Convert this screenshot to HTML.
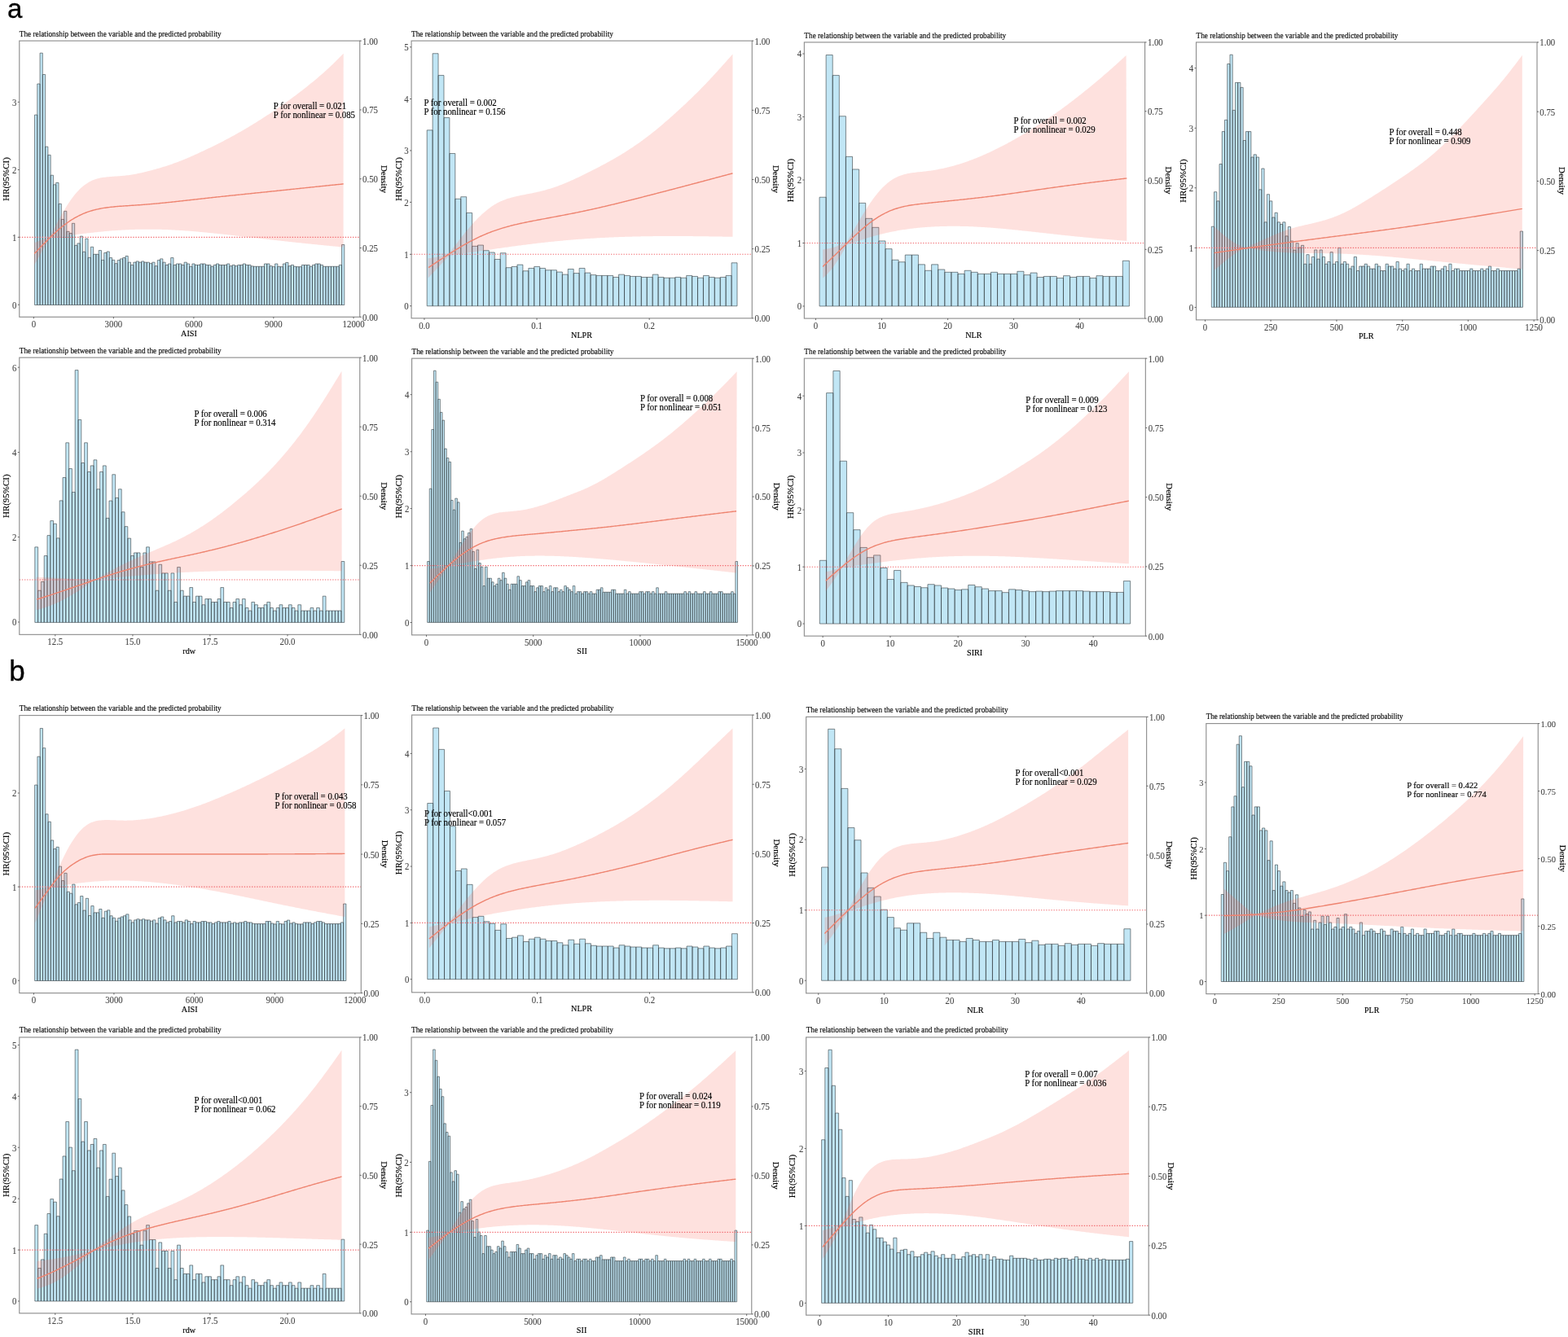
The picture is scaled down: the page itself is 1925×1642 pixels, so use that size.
<!DOCTYPE html>
<html lang="en"><head><meta charset="utf-8"><title>Figure</title>
<style>
html,body{margin:0;padding:0;background:#fff;}
body{width:1925px;height:1642px;overflow:hidden;position:relative;}
svg{display:block;position:absolute;left:0;top:0;}
text{font-family:"Liberation Serif", "DejaVu Serif", serif;fill:#000;stroke:#000;stroke-width:0.16px;}
.big{stroke:#000;stroke-width:0.3px;}
.big{font-family:"Liberation Sans", "DejaVu Sans", sans-serif;}
.tk{fill:#454545;stroke:#454545;stroke-width:0.08px;}
.ttl{fill:#111;}
.bar{fill:#c1e6f5;stroke:#343c40;stroke-linejoin:miter;}
.band{fill:#fa6a5a;fill-opacity:0.2;stroke:none;}
.cv{fill:none;stroke:#ee8470;stroke-width:1.4;stroke-linejoin:round;}
.hl{stroke:#f26d72;stroke-width:1.1;stroke-dasharray:1.4 1.7;}
.fr{fill:none;stroke:#8f8f8f;stroke-width:1.15;}
.tm{fill:none;stroke:#444444;stroke-width:0.8;}
</style></head><body>
<svg width="1925" height="1642" viewBox="0 0 1925 1642">
<rect x="0" y="0" width="1925" height="1642" fill="#ffffff"/>
<text class="big" x="9" y="22.1" style="font-size:33px">a</text>
<text class="big" x="11.2" y="836.2" style="font-size:35px">b</text>
<g class="panel">
<text class="ttl" transform="translate(23.79 45.11) scale(1 1.075)" style="font-size:9.25px">The relationship between the variable and the predicted probability</text>
<clipPath id="ca1"><rect x="23.79" y="50.13" width="417.96" height="339.17"/></clipPath>
<g clip-path="url(#ca1)">
<path class="bar" style="stroke-width:0.6" d="M42.5 374.5V141.07H45.78V374.5ZM45.78 374.5V103H49.06V374.5ZM49.06 374.5V65.17H52.34V374.5ZM52.34 374.5V91.51H55.61V374.5ZM55.61 374.5V180.15H58.89V374.5ZM58.89 374.5V190.39H62.17V374.5ZM62.17 374.5V215.23H65.45V374.5ZM65.45 374.5V226.8H68.73V374.5ZM68.73 374.5V224.36H72.01V374.5ZM72.01 374.5V250.3H75.28V374.5ZM75.28 374.5V269.43H78.56V374.5ZM78.56 374.5V259.32H81.84V374.5ZM81.84 374.5V284.29H85.12V374.5ZM85.12 374.5V286.48H88.4V374.5ZM88.4 374.5V274.3H91.68V374.5ZM91.68 374.5V301.34H94.96V374.5ZM94.96 374.5V298.9H98.23V374.5ZM98.23 374.5V290.13H101.51V374.5ZM101.51 374.5V309.26H104.79V374.5ZM104.79 374.5V293.18H108.07V374.5ZM108.07 374.5V316.32H111.35V374.5ZM111.35 374.5V303.29H114.63V374.5ZM114.63 374.5V312.3H117.9V374.5ZM117.9 374.5V312.3H121.18V374.5ZM121.18 374.5V307.55H124.46V374.5ZM124.46 374.5V319.37H127.74V374.5ZM127.74 374.5V310.48H131.02V374.5ZM131.02 374.5V309.01H134.3V374.5ZM134.3 374.5V316.57H137.58V374.5ZM137.57 374.5V319.37H140.85V374.5ZM140.85 374.5V323.63H144.13V374.5ZM144.13 374.5V319.61H147.41V374.5ZM147.41 374.5V317.9H150.69V374.5ZM150.69 374.5V316.57H153.97V374.5ZM153.97 374.5V314.49H157.25V374.5ZM157.25 374.5V322.17H160.52V374.5ZM160.52 374.5V325.46H163.8V374.5ZM163.8 374.5V322.17H167.08V374.5ZM167.08 374.5V320.95H170.36V374.5ZM170.36 374.5V322.17H173.64V374.5ZM173.64 374.5V320.95H176.92V374.5ZM176.92 374.5V322.17H180.19V374.5ZM180.19 374.5V322.17H183.47V374.5ZM183.47 374.5V323.63H186.75V374.5ZM186.75 374.5V322.17H190.03V374.5ZM190.03 374.5V326.67H193.31V374.5ZM193.31 374.5V319.61H196.59V374.5ZM196.59 374.5V317.9H199.87V374.5ZM199.87 374.5V322.17H203.14V374.5ZM203.14 374.5V325.46H206.42V374.5ZM206.42 374.5V324H209.7V374.5ZM209.7 374.5V316.57H212.98V374.5ZM212.98 374.5V325.46H216.26V374.5ZM216.26 374.5V324H219.54V374.5ZM219.54 374.5V324H222.81V374.5ZM222.81 374.5V325.46H226.09V374.5ZM226.09 374.5V322.17H229.37V374.5ZM229.37 374.5V324H232.65V374.5ZM232.65 374.5V327.28H235.93V374.5ZM235.93 374.5V324H239.21V374.5ZM239.21 374.5V325.46H242.49V374.5ZM242.49 374.5V325.46H245.76V374.5ZM245.76 374.5V324H249.04V374.5ZM249.04 374.5V324H252.32V374.5ZM252.32 374.5V325.46H255.6V374.5ZM255.6 374.5V325.46H258.88V374.5ZM258.88 374.5V327.28H262.16V374.5ZM262.16 374.5V325.46H265.43V374.5ZM265.43 374.5V324H268.71V374.5ZM268.71 374.5V325.46H271.99V374.5ZM271.99 374.5V325.46H275.27V374.5ZM275.27 374.5V325.46H278.55V374.5ZM278.55 374.5V324H281.83V374.5ZM281.83 374.5V326.67H285.11V374.5ZM285.11 374.5V325.46H288.38V374.5ZM288.38 374.5V326.67H291.66V374.5ZM291.66 374.5V325.46H294.94V374.5ZM294.94 374.5V325.46H298.22V374.5ZM298.22 374.5V324H301.5V374.5ZM301.5 374.5V325.46H304.78V374.5ZM304.78 374.5V325.46H308.05V374.5ZM308.05 374.5V326.92H311.33V374.5ZM311.33 374.5V327.28H314.61V374.5ZM314.61 374.5V327.28H317.89V374.5ZM317.89 374.5V327.28H321.17V374.5ZM321.17 374.5V327.28H324.45V374.5ZM324.45 374.5V324H327.73V374.5ZM327.73 374.5V324H331V374.5ZM331 374.5V326.67H334.28V374.5ZM334.28 374.5V327.65H337.56V374.5ZM337.56 374.5V324H340.84V374.5ZM340.84 374.5V327.28H344.12V374.5ZM344.12 374.5V327.65H347.4V374.5ZM347.4 374.5V324H350.67V374.5ZM350.67 374.5V322.41H353.95V374.5ZM353.95 374.5V326.67H357.23V374.5ZM357.23 374.5V325.46H360.51V374.5ZM360.51 374.5V327.28H363.79V374.5ZM363.79 374.5V327.65H367.07V374.5ZM367.07 374.5V327.65H370.34V374.5ZM370.34 374.5V325.46H373.62V374.5ZM373.62 374.5V325.46H376.9V374.5ZM376.9 374.5V325.46H380.18V374.5ZM380.18 374.5V327.28H383.46V374.5ZM383.46 374.5V325.46H386.74V374.5ZM386.74 374.5V324H390.02V374.5ZM390.02 374.5V324H393.29V374.5ZM393.29 374.5V325.46H396.57V374.5ZM396.57 374.5V327.28H399.85V374.5ZM399.85 374.5V327.28H403.13V374.5ZM403.13 374.5V327.28H406.41V374.5ZM406.41 374.5V327.28H409.69V374.5ZM409.69 374.5V327.28H412.96V374.5ZM412.96 374.5V327.28H416.24V374.5ZM416.24 374.5V325.46H419.52V374.5ZM419.52 374.5V300.49H422.8V374.5Z"/>
<path class="band" d="M42.2 297.99 L43.7 297.47 L45.2 296.93 L46.7 296.38 L48.2 295.81 L49.7 295.24 L51.2 294.65 L52.7 294.05 L54.2 293.43 L55.7 292.81 L57.2 292.17 L58.7 291.52 L60.2 290.85 L61.39 290.32 L62.89 287.43 L64.39 284.55 L65.89 281.68 L67.39 278.83 L68.89 275.99 L70.39 273.19 L71.89 270.41 L73.39 267.66 L74.89 264.96 L76.39 262.31 L77.89 259.71 L79.39 257.17 L80.89 254.7 L82.39 252.3 L83.89 249.97 L85.39 247.73 L86.89 245.56 L88.39 243.48 L89.89 241.48 L91.39 239.57 L92.89 237.75 L94.39 236.02 L95.89 234.39 L97.39 232.84 L98.89 231.37 L100.39 230 L101.89 228.72 L103.39 227.52 L104.89 226.41 L106.39 225.38 L107.89 224.43 L109.39 223.55 L110.89 222.76 L112.39 222.03 L113.89 221.37 L115.39 220.77 L116.89 220.24 L118.39 219.76 L119.89 219.33 L121.39 218.95 L122.89 218.62 L124.39 218.32 L125.89 218.06 L127.39 217.83 L128.89 217.63 L130.39 217.45 L131.89 217.3 L133.39 217.16 L134.89 217.03 L136.39 216.91 L137.89 216.8 L139.39 216.7 L140.89 216.6 L142.39 216.5 L143.89 216.4 L145.39 216.3 L146.89 216.2 L148.39 216.08 L149.89 215.96 L151.39 215.83 L152.89 215.69 L154.39 215.53 L155.89 215.35 L157.39 215.16 L158.89 214.95 L160.39 214.73 L161.89 214.49 L163.39 214.24 L164.89 213.98 L166.39 213.7 L167.89 213.41 L169.39 213.11 L170.89 212.8 L172.39 212.48 L173.89 212.15 L175.39 211.8 L176.89 211.45 L178.39 211.09 L179.89 210.72 L181.39 210.35 L182.89 209.96 L184.39 209.57 L185.89 209.17 L187.39 208.77 L188.89 208.36 L190.39 207.95 L191.89 207.53 L193.39 207.1 L194.89 206.66 L196.39 206.22 L197.89 205.77 L199.39 205.32 L200.89 204.86 L202.39 204.39 L203.89 203.91 L205.39 203.42 L206.89 202.93 L208.39 202.42 L209.89 201.91 L211.39 201.39 L212.89 200.86 L214.39 200.33 L215.89 199.78 L217.39 199.22 L218.89 198.66 L220.39 198.08 L221.89 197.49 L223.39 196.9 L224.89 196.3 L226.39 195.68 L227.89 195.06 L229.39 194.43 L230.89 193.79 L232.39 193.15 L233.89 192.5 L235.39 191.84 L236.89 191.17 L238.39 190.5 L239.89 189.83 L241.39 189.14 L242.89 188.46 L244.39 187.77 L245.89 187.07 L247.39 186.37 L248.89 185.67 L250.39 184.96 L251.89 184.25 L253.39 183.54 L254.89 182.83 L256.39 182.11 L257.89 181.39 L259.39 180.66 L260.89 179.94 L262.39 179.2 L263.89 178.47 L265.39 177.72 L266.89 176.98 L268.39 176.22 L269.89 175.46 L271.39 174.69 L272.89 173.92 L274.39 173.14 L275.89 172.36 L277.39 171.57 L278.89 170.78 L280.39 169.97 L281.89 169.17 L283.39 168.36 L284.89 167.54 L286.39 166.71 L287.89 165.89 L289.39 165.05 L290.89 164.21 L292.39 163.36 L293.89 162.51 L295.39 161.65 L296.89 160.79 L298.39 159.92 L299.89 159.05 L301.39 158.17 L302.89 157.28 L304.39 156.39 L305.89 155.49 L307.39 154.58 L308.89 153.67 L310.39 152.76 L311.89 151.84 L313.39 150.91 L314.89 149.98 L316.39 149.04 L317.89 148.1 L319.39 147.16 L320.89 146.21 L322.39 145.25 L323.89 144.29 L325.39 143.32 L326.89 142.35 L328.39 141.37 L329.89 140.39 L331.39 139.4 L332.89 138.4 L334.39 137.4 L335.89 136.39 L337.39 135.38 L338.89 134.36 L340.39 133.33 L341.89 132.29 L343.39 131.25 L344.89 130.2 L346.39 129.14 L347.89 128.08 L349.39 127.01 L350.89 125.93 L352.39 124.85 L353.89 123.77 L355.39 122.68 L356.89 121.58 L358.39 120.48 L359.89 119.37 L361.39 118.25 L362.89 117.13 L364.39 116 L365.89 114.87 L367.39 113.73 L368.89 112.58 L370.39 111.42 L371.89 110.26 L373.39 109.08 L374.89 107.9 L376.39 106.71 L377.89 105.51 L379.39 104.31 L380.89 103.09 L382.39 101.87 L383.89 100.64 L385.39 99.4 L386.89 98.16 L388.39 96.91 L389.89 95.64 L391.39 94.37 L392.89 93.09 L394.39 91.79 L395.89 90.48 L397.39 89.16 L398.89 87.82 L400.39 86.46 L401.89 85.08 L403.39 83.69 L404.89 82.28 L406.39 80.86 L407.89 79.42 L409.39 77.97 L410.89 76.51 L412.39 75.05 L413.89 73.57 L415.39 72.09 L416.89 70.6 L418.39 69.1 L419.89 67.61 L421.39 66.11 L421.7 65.8 L421.54 303.62 L421.39 303.6 L419.89 303.46 L418.39 303.31 L416.89 303.17 L415.39 303.02 L413.89 302.87 L412.39 302.73 L410.89 302.58 L409.39 302.44 L407.89 302.29 L406.39 302.14 L404.89 301.99 L403.39 301.85 L401.89 301.7 L400.39 301.55 L398.89 301.4 L397.39 301.26 L395.89 301.11 L394.39 300.96 L392.89 300.81 L391.39 300.66 L389.89 300.51 L388.39 300.36 L386.89 300.21 L385.39 300.06 L383.89 299.91 L382.39 299.75 L380.89 299.6 L379.39 299.45 L377.89 299.29 L376.39 299.14 L374.89 298.99 L373.39 298.83 L371.89 298.67 L370.39 298.52 L368.89 298.36 L367.39 298.2 L365.89 298.05 L364.39 297.89 L362.89 297.73 L361.39 297.57 L359.89 297.41 L358.39 297.25 L356.89 297.09 L355.39 296.93 L353.89 296.77 L352.39 296.6 L350.89 296.44 L349.39 296.28 L347.89 296.11 L346.39 295.95 L344.89 295.78 L343.39 295.62 L341.89 295.45 L340.39 295.29 L338.89 295.12 L337.39 294.95 L335.89 294.78 L334.39 294.62 L332.89 294.45 L331.39 294.28 L329.89 294.11 L328.39 293.94 L326.89 293.77 L325.39 293.6 L323.89 293.42 L322.39 293.25 L320.89 293.08 L319.39 292.91 L317.89 292.74 L316.39 292.57 L314.89 292.39 L313.39 292.22 L311.89 292.05 L310.39 291.87 L308.89 291.7 L307.39 291.53 L305.89 291.35 L304.39 291.18 L302.89 291.01 L301.39 290.84 L299.89 290.66 L298.39 290.49 L296.89 290.32 L295.39 290.14 L293.89 289.97 L292.39 289.8 L290.89 289.63 L289.39 289.46 L287.89 289.29 L286.39 289.12 L284.89 288.95 L283.39 288.78 L281.89 288.61 L280.39 288.44 L278.89 288.28 L277.39 288.11 L275.89 287.94 L274.39 287.78 L272.89 287.61 L271.39 287.45 L269.89 287.29 L268.39 287.13 L266.89 286.97 L265.39 286.81 L263.89 286.65 L262.39 286.5 L260.89 286.34 L259.39 286.19 L257.89 286.04 L256.39 285.89 L254.89 285.74 L253.39 285.59 L251.89 285.45 L250.39 285.3 L248.89 285.16 L247.39 285.02 L245.89 284.88 L244.39 284.75 L242.89 284.61 L241.39 284.48 L239.89 284.35 L238.39 284.22 L236.89 284.1 L235.39 283.98 L233.89 283.86 L232.39 283.74 L230.89 283.62 L229.39 283.51 L227.89 283.4 L226.39 283.29 L224.89 283.19 L223.39 283.09 L221.89 282.99 L220.39 282.9 L218.89 282.8 L217.39 282.71 L215.89 282.63 L214.39 282.55 L212.89 282.47 L211.39 282.39 L209.89 282.32 L208.39 282.25 L206.89 282.18 L205.39 282.12 L203.89 282.06 L202.39 282.01 L200.89 281.95 L199.39 281.91 L197.89 281.86 L196.39 281.82 L194.89 281.78 L193.39 281.75 L191.89 281.72 L190.39 281.7 L188.89 281.68 L187.39 281.66 L185.89 281.65 L184.39 281.64 L182.89 281.63 L181.39 281.63 L179.89 281.63 L178.39 281.64 L176.89 281.65 L175.39 281.67 L173.89 281.69 L172.39 281.71 L170.89 281.74 L169.39 281.77 L167.89 281.81 L166.39 281.85 L164.89 281.89 L163.39 281.94 L161.89 281.99 L160.39 282.05 L158.89 282.11 L157.39 282.17 L155.89 282.24 L154.39 282.31 L152.89 282.39 L151.39 282.47 L149.89 282.55 L148.39 282.64 L146.89 282.73 L145.39 282.83 L143.89 282.93 L142.39 283.03 L140.89 283.14 L139.39 283.25 L137.89 283.36 L136.39 283.48 L134.89 283.6 L133.39 283.73 L131.89 283.85 L130.39 283.98 L128.89 284.12 L127.39 284.26 L125.89 284.4 L124.39 284.54 L122.89 284.69 L121.39 284.84 L119.89 284.99 L118.39 285.14 L116.89 285.3 L115.39 285.46 L113.89 285.63 L112.39 285.79 L110.89 285.96 L109.39 286.13 L107.89 286.3 L106.39 286.48 L104.89 286.65 L103.39 286.83 L101.89 287.01 L100.39 287.2 L98.89 287.38 L97.39 287.57 L95.89 287.75 L94.39 287.94 L92.89 288.13 L91.39 288.33 L89.89 288.52 L88.39 288.71 L86.89 288.91 L85.39 289.11 L83.89 289.31 L82.39 289.51 L80.89 289.71 L79.39 289.91 L77.89 290.11 L76.39 290.31 L74.89 290.52 L73.39 290.72 L71.89 290.92 L70.39 291.13 L68.89 291.33 L67.39 291.54 L65.89 291.75 L64.39 291.95 L62.89 292.16 L61.39 292.36 L60.2 294.29 L58.7 296.76 L57.2 299.25 L55.7 301.76 L54.2 304.29 L52.7 306.85 L51.2 309.42 L49.7 312.02 L48.2 314.64 L46.7 317.29 L45.2 319.95 L43.7 322.65 L42.2 325.36Z"/>
<line class="hl" x1="23.79" x2="441.74" y1="291.34" y2="291.34"/>
<path class="cv" d="M42.2 311.55 L43.7 309.96 L45.2 308.38 L46.7 306.79 L48.2 305.22 L49.7 303.64 L51.2 302.08 L52.7 300.52 L54.2 298.97 L55.7 297.44 L57.2 295.92 L58.7 294.41 L60.2 292.92 L61.7 291.45 L63.2 289.99 L64.7 288.56 L66.2 287.16 L67.7 285.77 L69.2 284.41 L70.7 283.08 L72.2 281.78 L73.7 280.5 L75.2 279.25 L76.7 278.04 L78.2 276.86 L79.7 275.7 L81.2 274.59 L82.7 273.5 L84.2 272.45 L85.7 271.43 L87.2 270.45 L88.7 269.5 L90.2 268.58 L91.7 267.7 L93.2 266.85 L94.7 266.03 L96.2 265.25 L97.7 264.5 L99.2 263.79 L100.7 263.1 L102.2 262.45 L103.7 261.83 L105.2 261.24 L106.7 260.67 L108.2 260.14 L109.7 259.64 L111.2 259.16 L112.7 258.71 L114.2 258.28 L115.7 257.88 L117.2 257.5 L118.7 257.14 L120.2 256.81 L121.7 256.5 L123.2 256.2 L124.7 255.93 L126.2 255.67 L127.7 255.42 L129.2 255.19 L130.7 254.98 L132.2 254.78 L133.7 254.59 L135.2 254.41 L136.7 254.25 L138.2 254.09 L139.7 253.94 L141.2 253.8 L142.7 253.67 L144.2 253.54 L145.7 253.42 L147.2 253.3 L148.7 253.19 L150.2 253.08 L151.7 252.98 L153.2 252.88 L154.7 252.78 L156.2 252.68 L157.7 252.58 L159.2 252.48 L160.7 252.38 L162.2 252.28 L163.7 252.19 L165.2 252.09 L166.7 251.99 L168.2 251.89 L169.7 251.79 L171.2 251.68 L172.7 251.58 L174.2 251.47 L175.7 251.36 L177.2 251.25 L178.7 251.13 L180.2 251.01 L181.7 250.89 L183.2 250.77 L184.7 250.64 L186.2 250.51 L187.7 250.38 L189.2 250.25 L190.7 250.11 L192.2 249.98 L193.7 249.84 L195.2 249.69 L196.7 249.55 L198.2 249.41 L199.7 249.26 L201.2 249.11 L202.7 248.96 L204.2 248.81 L205.7 248.65 L207.2 248.5 L208.7 248.34 L210.2 248.19 L211.7 248.03 L213.2 247.87 L214.7 247.71 L216.2 247.54 L217.7 247.38 L219.2 247.22 L220.7 247.05 L222.2 246.89 L223.7 246.72 L225.2 246.56 L226.7 246.39 L228.2 246.22 L229.7 246.05 L231.2 245.89 L232.7 245.72 L234.2 245.55 L235.7 245.38 L237.2 245.21 L238.7 245.04 L240.2 244.87 L241.7 244.7 L243.2 244.54 L244.7 244.37 L246.2 244.2 L247.7 244.03 L249.2 243.86 L250.7 243.7 L252.2 243.53 L253.7 243.37 L255.2 243.2 L256.7 243.04 L258.2 242.87 L259.7 242.71 L261.2 242.55 L262.7 242.38 L264.2 242.22 L265.7 242.06 L267.2 241.9 L268.7 241.74 L270.2 241.58 L271.7 241.42 L273.2 241.26 L274.7 241.11 L276.2 240.95 L277.7 240.79 L279.2 240.63 L280.7 240.48 L282.2 240.32 L283.7 240.17 L285.2 240.01 L286.7 239.85 L288.2 239.7 L289.7 239.54 L291.2 239.39 L292.7 239.23 L294.2 239.08 L295.7 238.92 L297.2 238.77 L298.7 238.62 L300.2 238.46 L301.7 238.31 L303.2 238.15 L304.7 238 L306.2 237.85 L307.7 237.69 L309.2 237.54 L310.7 237.38 L312.2 237.23 L313.7 237.07 L315.2 236.92 L316.7 236.77 L318.2 236.61 L319.7 236.46 L321.2 236.3 L322.7 236.15 L324.2 235.99 L325.7 235.84 L327.2 235.68 L328.7 235.52 L330.2 235.37 L331.7 235.21 L333.2 235.06 L334.7 234.9 L336.2 234.74 L337.7 234.59 L339.2 234.43 L340.7 234.28 L342.2 234.12 L343.7 233.96 L345.2 233.81 L346.7 233.65 L348.2 233.49 L349.7 233.33 L351.2 233.18 L352.7 233.02 L354.2 232.86 L355.7 232.71 L357.2 232.55 L358.7 232.39 L360.2 232.24 L361.7 232.08 L363.2 231.92 L364.7 231.77 L366.2 231.61 L367.7 231.45 L369.2 231.3 L370.7 231.14 L372.2 230.98 L373.7 230.83 L375.2 230.67 L376.7 230.51 L378.2 230.36 L379.7 230.2 L381.2 230.05 L382.7 229.89 L384.2 229.73 L385.7 229.58 L387.2 229.42 L388.7 229.27 L390.2 229.11 L391.7 228.96 L393.2 228.8 L394.7 228.65 L396.2 228.49 L397.7 228.34 L399.2 228.18 L400.7 228.03 L402.2 227.88 L403.7 227.72 L405.2 227.57 L406.7 227.41 L408.2 227.26 L409.7 227.11 L411.2 226.95 L412.7 226.8 L414.2 226.64 L415.7 226.49 L417.2 226.34 L418.7 226.18 L420.2 226.03 L421.7 225.88 L421.71 225.88"/>
</g>
<text class="an" transform="translate(335.85 134.07) scale(1 1.075)" style="font-size:10.8px">P for overall = 0.021</text>
<text class="an" transform="translate(335.85 145.07) scale(1 1.075)" style="font-size:10.8px">P for nonlinear = 0.085</text>
<rect class="fr" x="23.79" y="50.13" width="417.96" height="339.17"/>
<text class="tk" text-anchor="end" transform="translate(20.49 129.76) scale(1 1.075)" style="font-size:10.8px">3</text>
<text class="tk" text-anchor="end" transform="translate(20.49 212.89) scale(1 1.075)" style="font-size:10.8px">2</text>
<text class="tk" text-anchor="end" transform="translate(20.49 295.77) scale(1 1.075)" style="font-size:10.8px">1</text>
<text class="tk" text-anchor="end" transform="translate(20.49 378.64) scale(1 1.075)" style="font-size:10.8px">0</text>
<text class="tk" transform="translate(445.04 393.74) scale(1 1.075)" style="font-size:10.8px">0.00</text>
<text class="tk" transform="translate(445.04 308.94) scale(1 1.075)" style="font-size:10.8px">0.25</text>
<text class="tk" transform="translate(445.04 224.15) scale(1 1.075)" style="font-size:10.8px">0.50</text>
<text class="tk" transform="translate(445.04 139.36) scale(1 1.075)" style="font-size:10.8px">0.75</text>
<text class="tk" transform="translate(445.04 54.56) scale(1 1.075)" style="font-size:10.8px">1.00</text>
<text class="tk" text-anchor="middle" transform="translate(41.44 402.11) scale(1 1.075)" style="font-size:10.8px">0</text>
<text class="tk" text-anchor="middle" transform="translate(139.4 402.11) scale(1 1.075)" style="font-size:10.8px">3000</text>
<text class="tk" text-anchor="middle" transform="translate(237.88 402.11) scale(1 1.075)" style="font-size:10.8px">6000</text>
<text class="tk" text-anchor="middle" transform="translate(335.85 402.11) scale(1 1.075)" style="font-size:10.8px">9000</text>
<text class="tk" text-anchor="middle" transform="translate(434.07 402.11) scale(1 1.075)" style="font-size:10.8px">12000</text>
<path class="tm" d="M23.79 125.34H21.79M23.79 208.47H21.79M23.79 291.34H21.79M23.79 374.22H21.79M441.74 389.31H443.74M441.74 304.51H443.74M441.74 219.72H443.74M441.74 134.93H443.74M441.74 50.13H443.74M41.44 389.31V391.31M139.4 389.31V391.31M237.88 389.31V391.31M335.85 389.31V391.31M434.07 389.31V391.31"/>
<text class="al" text-anchor="middle" transform="translate(232 413.35) scale(1 1.075)" style="font-size:10.2px">AISI</text>
<text class="al" text-anchor="middle" transform="translate(11.25 219.98) rotate(-90) scale(1.075 1)" style="font-size:10.2px">HR(95%CI)</text>
<text class="al" text-anchor="middle" transform="translate(467.56 219.98) rotate(90) scale(1.075 1)" style="font-size:10.2px">Density</text>
</g>
<g class="panel">
<text class="ttl" transform="translate(505.07 44.81) scale(1 1.075)" style="font-size:9.25px">The relationship between the variable and the predicted probability</text>
<clipPath id="ca2"><rect x="505.07" y="50.13" width="418.21" height="340.71"/></clipPath>
<g clip-path="url(#ca2)">
<path class="bar" style="stroke-width:0.6" d="M524.2 375.8V159.87H531.12V375.8ZM531.12 375.8V65.74H538.05V375.8ZM538.05 375.8V92.59H544.97V375.8ZM544.97 375.8V144.52H551.89V375.8ZM551.89 375.8V188.52H558.82V375.8ZM558.82 375.8V244.28H565.74V375.8ZM565.74 375.8V241.72H572.67V375.8ZM572.67 375.8V261.41H579.59V375.8ZM579.59 375.8V302.34H586.51V375.8ZM586.51 375.8V301.06H593.44V375.8ZM593.44 375.8V307.71H600.36V375.8ZM600.36 375.8V310.01H607.28V375.8ZM607.28 375.8V318.46H614.21V375.8ZM614.21 375.8V310.78H621.13V375.8ZM621.13 375.8V328.69H628.05V375.8ZM628.05 375.8V327.41H634.98V375.8ZM634.98 375.8V325.11H641.9V375.8ZM641.9 375.8V332.78H648.83V375.8ZM648.83 375.8V329.45H655.75V375.8ZM655.75 375.8V327.41H662.67V375.8ZM662.67 375.8V329.45H669.6V375.8ZM669.6 375.8V331.76H676.52V375.8ZM676.52 375.8V331.76H683.44V375.8ZM683.44 375.8V334.06H690.37V375.8ZM690.37 375.8V337.13H697.29V375.8ZM697.29 375.8V330.48H704.21V375.8ZM704.21 375.8V335.59H711.14V375.8ZM711.14 375.8V329.45H718.06V375.8ZM718.06 375.8V335.08H724.99V375.8ZM724.99 375.8V337.64H731.91V375.8ZM731.91 375.8V338.41H738.83V375.8ZM738.83 375.8V338.41H745.76V375.8ZM745.76 375.8V338.41H752.68V375.8ZM752.68 375.8V340.45H759.6V375.8ZM759.6 375.8V337.13H766.53V375.8ZM766.53 375.8V338.41H773.45V375.8ZM773.45 375.8V339.43H780.37V375.8ZM780.37 375.8V339.43H787.3V375.8ZM787.3 375.8V340.45H794.22V375.8ZM794.22 375.8V340.45H801.15V375.8ZM801.15 375.8V337.13H808.07V375.8ZM808.07 375.8V340.45H814.99V375.8ZM814.99 375.8V341.22H821.92V375.8ZM821.92 375.8V341.22H828.84V375.8ZM828.84 375.8V340.45H835.76V375.8ZM835.76 375.8V341.22H842.69V375.8ZM842.69 375.8V338.41H849.61V375.8ZM849.61 375.8V339.43H856.53V375.8ZM856.53 375.8V341.22H863.46V375.8ZM863.46 375.8V338.41H870.38V375.8ZM870.38 375.8V340.45H877.31V375.8ZM877.31 375.8V341.22H884.23V375.8ZM884.23 375.8V340.45H891.15V375.8ZM891.15 375.8V338.41H898.08V375.8ZM898.08 375.8V322.8H905V375.8Z"/>
<path class="band" d="M525.53 317.18 L527.03 317.07 L528.53 316.92 L530.03 316.73 L531.53 316.51 L533.03 316.27 L534.53 316 L536.03 315.71 L537.53 315.4 L539.03 315.09 L540.53 314.73 L542.03 314.33 L543.53 313.87 L545.03 313.37 L546.53 312.84 L548.03 312.26 L549.53 311.66 L551.03 311.03 L551.62 310.78 L553.12 308.8 L554.62 306.82 L556.12 304.84 L557.62 302.86 L559.12 300.9 L560.62 298.94 L562.12 296.99 L563.62 295.05 L565.12 293.13 L566.62 291.22 L568.12 289.32 L569.62 287.45 L571.12 285.59 L572.62 283.76 L574.12 281.96 L575.62 280.18 L577.12 278.42 L578.62 276.7 L580.12 275.01 L581.62 273.36 L583.12 271.74 L584.62 270.15 L586.12 268.61 L587.62 267.1 L589.12 265.63 L590.62 264.2 L592.12 262.81 L593.62 261.46 L595.12 260.16 L596.62 258.91 L598.12 257.69 L599.62 256.53 L601.12 255.4 L602.62 254.33 L604.12 253.3 L605.62 252.31 L607.12 251.37 L608.62 250.47 L610.12 249.62 L611.62 248.81 L613.12 248.05 L614.62 247.34 L616.12 246.67 L617.62 246.03 L619.12 245.44 L620.62 244.88 L622.12 244.35 L623.62 243.86 L625.12 243.39 L626.62 242.95 L628.12 242.54 L629.62 242.14 L631.12 241.76 L632.62 241.4 L634.12 241.06 L635.62 240.72 L637.12 240.4 L638.62 240.08 L640.12 239.78 L641.62 239.48 L643.12 239.18 L644.62 238.89 L646.12 238.6 L647.62 238.31 L649.12 238.02 L650.62 237.73 L652.12 237.44 L653.62 237.14 L655.12 236.83 L656.62 236.52 L658.12 236.2 L659.62 235.87 L661.12 235.53 L662.62 235.17 L664.12 234.81 L665.62 234.43 L667.12 234.04 L668.62 233.64 L670.12 233.23 L671.62 232.81 L673.12 232.37 L674.62 231.92 L676.12 231.46 L677.62 230.98 L679.12 230.49 L680.62 229.99 L682.12 229.47 L683.62 228.94 L685.12 228.4 L686.62 227.84 L688.12 227.27 L689.62 226.69 L691.12 226.09 L692.62 225.48 L694.12 224.86 L695.62 224.23 L697.12 223.59 L698.62 222.94 L700.12 222.28 L701.62 221.61 L703.12 220.94 L704.62 220.25 L706.12 219.56 L707.62 218.87 L709.12 218.16 L710.62 217.45 L712.12 216.74 L713.62 216.02 L715.12 215.29 L716.62 214.56 L718.12 213.82 L719.62 213.08 L721.12 212.34 L722.62 211.59 L724.12 210.84 L725.62 210.08 L727.12 209.31 L728.62 208.55 L730.12 207.77 L731.62 207 L733.12 206.22 L734.62 205.43 L736.12 204.64 L737.62 203.85 L739.12 203.05 L740.62 202.25 L742.12 201.44 L743.62 200.63 L745.12 199.81 L746.62 198.99 L748.12 198.16 L749.62 197.33 L751.12 196.48 L752.62 195.63 L754.12 194.78 L755.62 193.91 L757.12 193.04 L758.62 192.16 L760.12 191.27 L761.62 190.38 L763.12 189.47 L764.62 188.56 L766.12 187.63 L767.62 186.7 L769.12 185.75 L770.62 184.8 L772.12 183.83 L773.62 182.86 L775.12 181.87 L776.62 180.88 L778.12 179.87 L779.62 178.85 L781.12 177.82 L782.62 176.77 L784.12 175.72 L785.62 174.65 L787.12 173.57 L788.62 172.47 L790.12 171.37 L791.62 170.25 L793.12 169.12 L794.62 167.98 L796.12 166.82 L797.62 165.66 L799.12 164.48 L800.62 163.29 L802.12 162.09 L803.62 160.88 L805.12 159.67 L806.62 158.44 L808.12 157.2 L809.62 155.95 L811.12 154.69 L812.62 153.43 L814.12 152.15 L815.62 150.87 L817.12 149.57 L818.62 148.27 L820.12 146.97 L821.62 145.65 L823.12 144.32 L824.62 142.99 L826.12 141.65 L827.62 140.31 L829.12 138.95 L830.62 137.59 L832.12 136.22 L833.62 134.85 L835.12 133.47 L836.62 132.08 L838.12 130.68 L839.62 129.28 L841.12 127.88 L842.62 126.46 L844.12 125.04 L845.62 123.62 L847.12 122.18 L848.62 120.74 L850.12 119.28 L851.62 117.82 L853.12 116.35 L854.62 114.88 L856.12 113.39 L857.62 111.89 L859.12 110.38 L860.62 108.86 L862.12 107.33 L863.62 105.78 L865.12 104.23 L866.62 102.66 L868.12 101.09 L869.62 99.5 L871.12 97.9 L872.62 96.3 L874.12 94.68 L875.62 93.06 L877.12 91.43 L878.62 89.79 L880.12 88.15 L881.62 86.49 L883.12 84.84 L884.62 83.17 L886.12 81.51 L887.62 79.83 L889.12 78.16 L890.62 76.48 L892.12 74.8 L893.62 73.11 L895.12 71.43 L896.62 69.74 L898.12 68.05 L899.49 66.5 L899.49 290.83 L898.12 290.81 L896.62 290.78 L895.12 290.76 L893.62 290.73 L892.12 290.71 L890.62 290.68 L889.12 290.66 L887.62 290.63 L886.12 290.61 L884.62 290.58 L883.12 290.56 L881.62 290.54 L880.12 290.51 L878.62 290.49 L877.12 290.47 L875.62 290.44 L874.12 290.42 L872.62 290.4 L871.12 290.38 L869.62 290.36 L868.12 290.33 L866.62 290.31 L865.12 290.29 L863.62 290.27 L862.12 290.26 L860.62 290.24 L859.12 290.22 L857.62 290.2 L856.12 290.18 L854.62 290.17 L853.12 290.15 L851.62 290.14 L850.12 290.12 L848.62 290.11 L847.12 290.1 L845.62 290.08 L844.12 290.07 L842.62 290.06 L841.12 290.05 L839.62 290.04 L838.12 290.03 L836.62 290.02 L835.12 290.02 L833.62 290.01 L832.12 290.01 L830.62 290 L829.12 290 L827.62 290 L826.12 290 L824.62 290 L823.12 290 L821.62 290 L820.12 290 L818.62 290 L817.12 290.01 L815.62 290.01 L814.12 290.02 L812.62 290.03 L811.12 290.04 L809.62 290.05 L808.12 290.06 L806.62 290.07 L805.12 290.09 L803.62 290.1 L802.12 290.12 L800.62 290.14 L799.12 290.15 L797.62 290.17 L796.12 290.2 L794.62 290.22 L793.12 290.24 L791.62 290.27 L790.12 290.29 L788.62 290.32 L787.12 290.35 L785.62 290.38 L784.12 290.41 L782.62 290.44 L781.12 290.48 L779.62 290.51 L778.12 290.55 L776.62 290.59 L775.12 290.63 L773.62 290.67 L772.12 290.71 L770.62 290.76 L769.12 290.8 L767.62 290.85 L766.12 290.9 L764.62 290.95 L763.12 291 L761.62 291.05 L760.12 291.11 L758.62 291.17 L757.12 291.22 L755.62 291.28 L754.12 291.34 L752.62 291.41 L751.12 291.47 L749.62 291.54 L748.12 291.6 L746.62 291.67 L745.12 291.74 L743.62 291.82 L742.12 291.89 L740.62 291.97 L739.12 292.04 L737.62 292.12 L736.12 292.2 L734.62 292.29 L733.12 292.37 L731.62 292.46 L730.12 292.55 L728.62 292.64 L727.12 292.73 L725.62 292.82 L724.12 292.92 L722.62 293.01 L721.12 293.11 L719.62 293.21 L718.12 293.32 L716.62 293.42 L715.12 293.53 L713.62 293.63 L712.12 293.74 L710.62 293.86 L709.12 293.97 L707.62 294.09 L706.12 294.2 L704.62 294.32 L703.12 294.45 L701.62 294.57 L700.12 294.69 L698.62 294.82 L697.12 294.95 L695.62 295.08 L694.12 295.22 L692.62 295.35 L691.12 295.49 L689.62 295.63 L688.12 295.77 L686.62 295.91 L685.12 296.05 L683.62 296.2 L682.12 296.35 L680.62 296.5 L679.12 296.65 L677.62 296.81 L676.12 296.96 L674.62 297.12 L673.12 297.28 L671.62 297.44 L670.12 297.6 L668.62 297.77 L667.12 297.93 L665.62 298.1 L664.12 298.27 L662.62 298.44 L661.12 298.62 L659.62 298.79 L658.12 298.97 L656.62 299.15 L655.12 299.33 L653.62 299.51 L652.12 299.69 L650.62 299.88 L649.12 300.06 L647.62 300.25 L646.12 300.44 L644.62 300.63 L643.12 300.82 L641.62 301.01 L640.12 301.21 L638.62 301.4 L637.12 301.6 L635.62 301.8 L634.12 302 L632.62 302.2 L631.12 302.4 L629.62 302.6 L628.12 302.8 L626.62 303.01 L625.12 303.21 L623.62 303.42 L622.12 303.63 L620.62 303.83 L619.12 304.04 L617.62 304.25 L616.12 304.46 L614.62 304.67 L613.12 304.88 L611.62 305.1 L610.12 305.31 L608.62 305.52 L607.12 305.73 L605.62 305.95 L604.12 306.16 L602.62 306.38 L601.12 306.59 L599.62 306.81 L598.12 307.02 L596.62 307.24 L595.12 307.46 L593.62 307.67 L592.12 307.89 L590.62 308.11 L589.12 308.32 L587.62 308.54 L586.12 308.76 L584.62 308.98 L583.12 309.2 L581.62 309.42 L580.12 309.64 L578.62 309.86 L577.12 310.08 L575.62 310.3 L574.12 310.52 L572.62 310.74 L571.12 310.96 L569.62 311.18 L568.12 311.4 L566.62 311.63 L565.12 311.85 L563.62 312.07 L562.12 312.29 L560.62 312.51 L559.12 312.74 L557.62 312.96 L556.12 313.18 L554.62 313.4 L553.12 313.63 L551.62 313.85 L551.03 314.48 L549.53 316.07 L548.03 317.66 L546.53 319.25 L545.03 320.84 L543.53 322.43 L542.03 324.02 L540.53 325.61 L539.03 327.2 L537.53 328.78 L536.03 330.37 L534.53 331.96 L533.03 333.55 L531.53 335.13 L530.03 336.72 L528.53 338.31 L527.03 339.89 L525.53 341.48Z"/>
<line class="hl" x1="505.07" x2="923.28" y1="312.32" y2="312.32"/>
<path class="cv" d="M526.04 328.69 L527.54 327.68 L529.04 326.68 L530.54 325.68 L532.04 324.68 L533.54 323.68 L535.04 322.68 L536.54 321.68 L538.04 320.69 L539.54 319.7 L541.04 318.7 L542.54 317.72 L544.04 316.73 L545.54 315.75 L547.04 314.77 L548.54 313.8 L550.04 312.83 L551.54 311.86 L553.04 310.9 L554.54 309.95 L556.04 309 L557.54 308.06 L559.04 307.13 L560.54 306.2 L562.04 305.28 L563.54 304.38 L565.04 303.48 L566.54 302.59 L568.04 301.71 L569.54 300.84 L571.04 299.98 L572.54 299.14 L574.04 298.3 L575.54 297.48 L577.04 296.67 L578.54 295.88 L580.04 295.09 L581.54 294.32 L583.04 293.57 L584.54 292.82 L586.04 292.1 L587.54 291.38 L589.04 290.68 L590.54 289.99 L592.04 289.32 L593.54 288.66 L595.04 288.02 L596.54 287.38 L598.04 286.77 L599.54 286.16 L601.04 285.58 L602.54 285 L604.04 284.44 L605.54 283.89 L607.04 283.35 L608.54 282.82 L610.04 282.31 L611.54 281.81 L613.04 281.32 L614.54 280.85 L616.04 280.38 L617.54 279.93 L619.04 279.49 L620.54 279.05 L622.04 278.63 L623.54 278.22 L625.04 277.81 L626.54 277.42 L628.04 277.03 L629.54 276.65 L631.04 276.28 L632.54 275.92 L634.04 275.57 L635.54 275.22 L637.04 274.88 L638.54 274.54 L640.04 274.21 L641.54 273.89 L643.04 273.57 L644.54 273.25 L646.04 272.94 L647.54 272.64 L649.04 272.34 L650.54 272.04 L652.04 271.74 L653.54 271.45 L655.04 271.16 L656.54 270.87 L658.04 270.58 L659.54 270.3 L661.04 270.01 L662.54 269.73 L664.04 269.45 L665.54 269.17 L667.04 268.89 L668.54 268.61 L670.04 268.33 L671.54 268.05 L673.04 267.77 L674.54 267.49 L676.04 267.21 L677.54 266.93 L679.04 266.65 L680.54 266.37 L682.04 266.09 L683.54 265.8 L685.04 265.52 L686.54 265.24 L688.04 264.95 L689.54 264.67 L691.04 264.38 L692.54 264.1 L694.04 263.81 L695.54 263.52 L697.04 263.22 L698.54 262.93 L700.04 262.64 L701.54 262.34 L703.04 262.04 L704.54 261.74 L706.04 261.44 L707.54 261.13 L709.04 260.82 L710.54 260.52 L712.04 260.21 L713.54 259.89 L715.04 259.58 L716.54 259.26 L718.04 258.95 L719.54 258.63 L721.04 258.3 L722.54 257.98 L724.04 257.65 L725.54 257.33 L727.04 257 L728.54 256.66 L730.04 256.33 L731.54 255.99 L733.04 255.65 L734.54 255.31 L736.04 254.97 L737.54 254.63 L739.04 254.28 L740.54 253.93 L742.04 253.58 L743.54 253.23 L745.04 252.87 L746.54 252.52 L748.04 252.16 L749.54 251.8 L751.04 251.44 L752.54 251.08 L754.04 250.71 L755.54 250.35 L757.04 249.98 L758.54 249.61 L760.04 249.24 L761.54 248.87 L763.04 248.5 L764.54 248.13 L766.04 247.75 L767.54 247.38 L769.04 247 L770.54 246.63 L772.04 246.25 L773.54 245.87 L775.04 245.49 L776.54 245.11 L778.04 244.73 L779.54 244.35 L781.04 243.97 L782.54 243.59 L784.04 243.21 L785.54 242.83 L787.04 242.45 L788.54 242.06 L790.04 241.68 L791.54 241.29 L793.04 240.91 L794.54 240.52 L796.04 240.14 L797.54 239.75 L799.04 239.37 L800.54 238.98 L802.04 238.59 L803.54 238.21 L805.04 237.82 L806.54 237.43 L808.04 237.04 L809.54 236.65 L811.04 236.26 L812.54 235.88 L814.04 235.49 L815.54 235.1 L817.04 234.71 L818.54 234.32 L820.04 233.92 L821.54 233.53 L823.04 233.14 L824.54 232.75 L826.04 232.36 L827.54 231.97 L829.04 231.57 L830.54 231.18 L832.04 230.79 L833.54 230.39 L835.04 230 L836.54 229.61 L838.04 229.21 L839.54 228.82 L841.04 228.42 L842.54 228.03 L844.04 227.63 L845.54 227.23 L847.04 226.84 L848.54 226.44 L850.04 226.04 L851.54 225.65 L853.04 225.25 L854.54 224.85 L856.04 224.45 L857.54 224.05 L859.04 223.65 L860.54 223.25 L862.04 222.85 L863.54 222.45 L865.04 222.05 L866.54 221.65 L868.04 221.25 L869.54 220.85 L871.04 220.45 L872.54 220.05 L874.04 219.65 L875.54 219.25 L877.04 218.84 L878.54 218.44 L880.04 218.04 L881.54 217.64 L883.04 217.23 L884.54 216.83 L886.04 216.43 L887.54 216.03 L889.04 215.62 L890.54 215.22 L892.04 214.82 L893.54 214.41 L895.04 214.01 L896.54 213.61 L898.04 213.2 L899.49 212.81"/>
</g>
<text class="an" transform="translate(520.41 129.97) scale(1 1.075)" style="font-size:10.8px">P for overall = 0.002</text>
<text class="an" transform="translate(520.41 140.97) scale(1 1.075)" style="font-size:10.8px">P for nonlinear = 0.156</text>
<rect class="fr" x="505.07" y="50.13" width="418.21" height="340.71"/>
<text class="tk" text-anchor="end" transform="translate(501.77 62.24) scale(1 1.075)" style="font-size:10.8px">5</text>
<text class="tk" text-anchor="end" transform="translate(501.77 125.93) scale(1 1.075)" style="font-size:10.8px">4</text>
<text class="tk" text-anchor="end" transform="translate(501.77 189.36) scale(1 1.075)" style="font-size:10.8px">3</text>
<text class="tk" text-anchor="end" transform="translate(501.77 252.8) scale(1 1.075)" style="font-size:10.8px">2</text>
<text class="tk" text-anchor="end" transform="translate(501.77 316.74) scale(1 1.075)" style="font-size:10.8px">1</text>
<text class="tk" text-anchor="end" transform="translate(501.77 380.18) scale(1 1.075)" style="font-size:10.8px">0</text>
<text class="tk" transform="translate(926.58 395.27) scale(1 1.075)" style="font-size:10.8px">0.00</text>
<text class="tk" transform="translate(926.58 310.09) scale(1 1.075)" style="font-size:10.8px">0.25</text>
<text class="tk" transform="translate(926.58 224.92) scale(1 1.075)" style="font-size:10.8px">0.50</text>
<text class="tk" transform="translate(926.58 139.74) scale(1 1.075)" style="font-size:10.8px">0.75</text>
<text class="tk" transform="translate(926.58 54.56) scale(1 1.075)" style="font-size:10.8px">1.00</text>
<text class="tk" text-anchor="middle" transform="translate(520.93 403.64) scale(1 1.075)" style="font-size:10.8px">0.0</text>
<text class="tk" text-anchor="middle" transform="translate(659.05 403.64) scale(1 1.075)" style="font-size:10.8px">0.1</text>
<text class="tk" text-anchor="middle" transform="translate(797.18 403.64) scale(1 1.075)" style="font-size:10.8px">0.2</text>
<path class="tm" d="M505.07 57.81H503.07M505.07 121.5H503.07M505.07 184.93H503.07M505.07 248.37H503.07M505.07 312.32H503.07M505.07 375.75H503.07M923.28 390.84H925.28M923.28 305.67H925.28M923.28 220.49H925.28M923.28 135.31H925.28M923.28 50.13H925.28M520.93 390.84V392.84M659.05 390.84V392.84M797.18 390.84V392.84"/>
<text class="al" text-anchor="middle" transform="translate(714.05 414.89) scale(1 1.075)" style="font-size:10.2px">NLPR</text>
<text class="al" text-anchor="middle" transform="translate(492.79 219.98) rotate(-90) scale(1.075 1)" style="font-size:10.2px">HR(95%CI)</text>
<text class="al" text-anchor="middle" transform="translate(949.09 219.98) rotate(90) scale(1.075 1)" style="font-size:10.2px">Density</text>
</g>
<g class="panel">
<text class="ttl" transform="translate(987.37 46.6) scale(1 1.075)" style="font-size:9.25px">The relationship between the variable and the predicted probability</text>
<clipPath id="ca3"><rect x="987.37" y="51.92" width="418.21" height="339.17"/></clipPath>
<g clip-path="url(#ca3)">
<path class="bar" style="stroke-width:0.6" d="M1006.04 376.01V242.23H1014.13V376.01ZM1014.13 376.01V67.53H1022.23V376.01ZM1022.23 376.01V92.59H1030.32V376.01ZM1030.32 376.01V142.73H1038.41V376.01ZM1038.41 376.01V192.35H1046.51V376.01ZM1046.51 376.01V207.95H1054.6V376.01ZM1054.6 376.01V249.39H1062.69V376.01ZM1062.69 376.01V268.32H1070.78V376.01ZM1070.78 376.01V279.32H1078.88V376.01ZM1078.88 376.01V295.95H1086.97V376.01ZM1086.97 376.01V305.67H1095.06V376.01ZM1095.06 376.01V319.22H1103.15V376.01ZM1103.15 376.01V321.78H1111.25V376.01ZM1111.25 376.01V313.08H1119.34V376.01ZM1119.34 376.01V313.08H1127.43V376.01ZM1127.43 376.01V324.85H1135.52V376.01ZM1135.52 376.01V332.27H1143.62V376.01ZM1143.62 376.01V324.85H1151.71V376.01ZM1151.71 376.01V330.99H1159.8V376.01ZM1159.8 376.01V334.31H1167.9V376.01ZM1167.9 376.01V334.31H1175.99V376.01ZM1175.99 376.01V336.36H1184.08V376.01ZM1184.08 376.01V332.27H1192.17V376.01ZM1192.17 376.01V334.31H1200.27V376.01ZM1200.27 376.01V336.36H1208.36V376.01ZM1208.36 376.01V336.36H1216.45V376.01ZM1216.45 376.01V334.31H1224.54V376.01ZM1224.54 376.01V336.36H1232.64V376.01ZM1232.64 376.01V336.36H1240.73V376.01ZM1240.73 376.01V336.36H1248.82V376.01ZM1248.82 376.01V333.29H1256.91V376.01ZM1256.91 376.01V337.64H1265.01V376.01ZM1265.01 376.01V335.08H1273.1V376.01ZM1273.1 376.01V340.45H1281.19V376.01ZM1281.19 376.01V339.43H1289.29V376.01ZM1289.29 376.01V339.43H1297.38V376.01ZM1297.38 376.01V341.48H1305.47V376.01ZM1305.47 376.01V338.66H1313.56V376.01ZM1313.56 376.01V340.45H1321.66V376.01ZM1321.66 376.01V339.43H1329.75V376.01ZM1329.75 376.01V339.43H1337.84V376.01ZM1337.84 376.01V341.48H1345.93V376.01ZM1345.93 376.01V338.66H1354.03V376.01ZM1354.03 376.01V339.43H1362.12V376.01ZM1362.12 376.01V339.43H1370.21V376.01ZM1370.21 376.01V339.43H1378.3V376.01ZM1378.3 376.01V320.25H1386.4V376.01Z"/>
<path class="band" d="M1010.13 306.43 L1011.63 306.29 L1013.13 306.09 L1014.63 305.85 L1016.13 305.57 L1017.63 305.26 L1019.13 304.93 L1020.63 304.57 L1022.13 304.19 L1023.63 303.74 L1025.13 303.21 L1026.63 302.63 L1028.13 302.01 L1029.63 301.38 L1031.13 300.75 L1032.63 300.13 L1034.13 299.48 L1035.63 298.81 L1037.13 298.12 L1038.63 297.41 L1040.06 296.71 L1041.56 294.06 L1043.06 291.42 L1044.56 288.77 L1046.06 286.13 L1047.56 283.51 L1049.06 280.89 L1050.56 278.28 L1052.06 275.69 L1053.56 273.12 L1055.06 270.56 L1056.56 268.04 L1058.06 265.53 L1059.56 263.06 L1061.06 260.63 L1062.56 258.23 L1064.06 255.88 L1065.56 253.57 L1067.06 251.31 L1068.56 249.09 L1070.06 246.94 L1071.56 244.84 L1073.06 242.8 L1074.56 240.82 L1076.06 238.9 L1077.56 237.06 L1079.06 235.28 L1080.56 233.57 L1082.06 231.93 L1083.56 230.37 L1085.06 228.88 L1086.56 227.47 L1088.06 226.13 L1089.56 224.86 L1091.06 223.67 L1092.56 222.55 L1094.06 221.5 L1095.56 220.53 L1097.06 219.62 L1098.56 218.78 L1100.06 218 L1101.56 217.28 L1103.06 216.62 L1104.56 216.02 L1106.06 215.47 L1107.56 214.96 L1109.06 214.51 L1110.56 214.09 L1112.06 213.71 L1113.56 213.37 L1115.06 213.06 L1116.56 212.78 L1118.06 212.52 L1119.56 212.29 L1121.06 212.08 L1122.56 211.88 L1124.06 211.7 L1125.56 211.52 L1127.06 211.36 L1128.56 211.2 L1130.06 211.04 L1131.56 210.88 L1133.06 210.73 L1134.56 210.57 L1136.06 210.4 L1137.56 210.23 L1139.06 210.04 L1140.56 209.85 L1142.06 209.64 L1143.56 209.42 L1145.06 209.19 L1146.56 208.95 L1148.06 208.7 L1149.56 208.43 L1151.06 208.16 L1152.56 207.87 L1154.06 207.58 L1155.56 207.27 L1157.06 206.96 L1158.56 206.63 L1160.06 206.29 L1161.56 205.94 L1163.06 205.58 L1164.56 205.22 L1166.06 204.84 L1167.56 204.45 L1169.06 204.05 L1170.56 203.64 L1172.06 203.22 L1173.56 202.78 L1175.06 202.34 L1176.56 201.89 L1178.06 201.43 L1179.56 200.96 L1181.06 200.47 L1182.56 199.98 L1184.06 199.48 L1185.56 198.96 L1187.06 198.44 L1188.56 197.9 L1190.06 197.36 L1191.56 196.81 L1193.06 196.24 L1194.56 195.67 L1196.06 195.09 L1197.56 194.49 L1199.06 193.89 L1200.56 193.28 L1202.06 192.66 L1203.56 192.03 L1205.06 191.39 L1206.56 190.75 L1208.06 190.09 L1209.56 189.43 L1211.06 188.76 L1212.56 188.08 L1214.06 187.39 L1215.56 186.7 L1217.06 185.99 L1218.56 185.28 L1220.06 184.56 L1221.56 183.84 L1223.06 183.1 L1224.56 182.36 L1226.06 181.61 L1227.56 180.85 L1229.06 180.09 L1230.56 179.32 L1232.06 178.54 L1233.56 177.75 L1235.06 176.95 L1236.56 176.15 L1238.06 175.34 L1239.56 174.52 L1241.06 173.7 L1242.56 172.86 L1244.06 172.02 L1245.56 171.18 L1247.06 170.32 L1248.56 169.46 L1250.06 168.59 L1251.56 167.71 L1253.06 166.83 L1254.56 165.93 L1256.06 165.04 L1257.56 164.13 L1259.06 163.22 L1260.56 162.3 L1262.06 161.37 L1263.56 160.44 L1265.06 159.5 L1266.56 158.56 L1268.06 157.6 L1269.56 156.65 L1271.06 155.68 L1272.56 154.71 L1274.06 153.74 L1275.56 152.76 L1277.06 151.78 L1278.56 150.79 L1280.06 149.8 L1281.56 148.81 L1283.06 147.81 L1284.56 146.81 L1286.06 145.8 L1287.56 144.79 L1289.06 143.78 L1290.56 142.77 L1292.06 141.74 L1293.56 140.72 L1295.06 139.68 L1296.56 138.64 L1298.06 137.59 L1299.56 136.53 L1301.06 135.47 L1302.56 134.39 L1304.06 133.31 L1305.56 132.21 L1307.06 131.11 L1308.56 130 L1310.06 128.88 L1311.56 127.76 L1313.06 126.62 L1314.56 125.48 L1316.06 124.33 L1317.56 123.18 L1319.06 122.02 L1320.56 120.86 L1322.06 119.69 L1323.56 118.52 L1325.06 117.34 L1326.56 116.15 L1328.06 114.96 L1329.56 113.76 L1331.06 112.56 L1332.56 111.36 L1334.06 110.14 L1335.56 108.93 L1337.06 107.7 L1338.56 106.48 L1340.06 105.24 L1341.56 104 L1343.06 102.76 L1344.56 101.51 L1346.06 100.26 L1347.56 99 L1349.06 97.73 L1350.56 96.46 L1352.06 95.19 L1353.56 93.91 L1355.06 92.62 L1356.56 91.33 L1358.06 90.03 L1359.56 88.73 L1361.06 87.42 L1362.56 86.1 L1364.06 84.77 L1365.56 83.44 L1367.06 82.11 L1368.56 80.76 L1370.06 79.41 L1371.56 78.06 L1373.06 76.7 L1374.56 75.34 L1376.06 73.97 L1377.56 72.61 L1379.06 71.24 L1380.56 69.86 L1382.06 68.49 L1382.6 68 L1383.33 295.95 L1382.06 295.84 L1380.56 295.72 L1379.06 295.6 L1377.56 295.48 L1376.06 295.35 L1374.56 295.23 L1373.06 295.11 L1371.56 294.98 L1370.06 294.86 L1368.56 294.74 L1367.06 294.61 L1365.56 294.49 L1364.06 294.36 L1362.56 294.24 L1361.06 294.11 L1359.56 293.98 L1358.06 293.86 L1356.56 293.73 L1355.06 293.6 L1353.56 293.47 L1352.06 293.34 L1350.56 293.21 L1349.06 293.08 L1347.56 292.94 L1346.06 292.81 L1344.56 292.67 L1343.06 292.54 L1341.56 292.4 L1340.06 292.26 L1338.56 292.12 L1337.06 291.98 L1335.56 291.84 L1334.06 291.7 L1332.56 291.56 L1331.06 291.41 L1329.56 291.27 L1328.06 291.12 L1326.56 290.98 L1325.06 290.83 L1323.56 290.68 L1322.06 290.53 L1320.56 290.38 L1319.06 290.23 L1317.56 290.07 L1316.06 289.92 L1314.56 289.76 L1313.06 289.61 L1311.56 289.45 L1310.06 289.29 L1308.56 289.13 L1307.06 288.98 L1305.56 288.82 L1304.06 288.66 L1302.56 288.49 L1301.06 288.33 L1299.56 288.17 L1298.06 288.01 L1296.56 287.84 L1295.06 287.68 L1293.56 287.51 L1292.06 287.35 L1290.56 287.18 L1289.06 287.02 L1287.56 286.85 L1286.06 286.69 L1284.56 286.52 L1283.06 286.35 L1281.56 286.19 L1280.06 286.02 L1278.56 285.85 L1277.06 285.69 L1275.56 285.52 L1274.06 285.35 L1272.56 285.19 L1271.06 285.02 L1269.56 284.85 L1268.06 284.69 L1266.56 284.52 L1265.06 284.36 L1263.56 284.19 L1262.06 284.03 L1260.56 283.87 L1259.06 283.7 L1257.56 283.54 L1256.06 283.38 L1254.56 283.22 L1253.06 283.06 L1251.56 282.9 L1250.06 282.75 L1248.56 282.59 L1247.06 282.44 L1245.56 282.28 L1244.06 282.13 L1242.56 281.98 L1241.06 281.83 L1239.56 281.69 L1238.06 281.54 L1236.56 281.4 L1235.06 281.25 L1233.56 281.11 L1232.06 280.98 L1230.56 280.84 L1229.06 280.7 L1227.56 280.57 L1226.06 280.44 L1224.56 280.32 L1223.06 280.19 L1221.56 280.07 L1220.06 279.95 L1218.56 279.83 L1217.06 279.71 L1215.56 279.6 L1214.06 279.49 L1212.56 279.38 L1211.06 279.28 L1209.56 279.18 L1208.06 279.08 L1206.56 278.99 L1205.06 278.89 L1203.56 278.81 L1202.06 278.72 L1200.56 278.64 L1199.06 278.56 L1197.56 278.49 L1196.06 278.41 L1194.56 278.35 L1193.06 278.28 L1191.56 278.22 L1190.06 278.17 L1188.56 278.11 L1187.06 278.06 L1185.56 278.02 L1184.06 277.98 L1182.56 277.94 L1181.06 277.91 L1179.56 277.88 L1178.06 277.86 L1176.56 277.84 L1175.06 277.82 L1173.56 277.81 L1172.06 277.8 L1170.56 277.8 L1169.06 277.8 L1167.56 277.81 L1166.06 277.82 L1164.56 277.84 L1163.06 277.86 L1161.56 277.88 L1160.06 277.91 L1158.56 277.95 L1157.06 277.99 L1155.56 278.03 L1154.06 278.08 L1152.56 278.13 L1151.06 278.19 L1149.56 278.26 L1148.06 278.33 L1146.56 278.4 L1145.06 278.48 L1143.56 278.57 L1142.06 278.66 L1140.56 278.75 L1139.06 278.85 L1137.56 278.96 L1136.06 279.07 L1134.56 279.19 L1133.06 279.31 L1131.56 279.44 L1130.06 279.57 L1128.56 279.71 L1127.06 279.86 L1125.56 280.01 L1124.06 280.17 L1122.56 280.34 L1121.06 280.51 L1119.56 280.68 L1118.06 280.87 L1116.56 281.06 L1115.06 281.26 L1113.56 281.46 L1112.06 281.67 L1110.56 281.89 L1109.06 282.12 L1107.56 282.35 L1106.06 282.59 L1104.56 282.84 L1103.06 283.09 L1101.56 283.36 L1100.06 283.63 L1098.56 283.91 L1097.06 284.19 L1095.56 284.49 L1094.06 284.79 L1092.56 285.1 L1091.06 285.42 L1089.56 285.74 L1088.06 286.08 L1086.56 286.42 L1085.06 286.77 L1083.56 287.13 L1082.06 287.5 L1080.56 287.87 L1079.06 288.25 L1077.56 288.64 L1076.06 289.04 L1074.56 289.45 L1073.06 289.86 L1071.56 290.29 L1070.06 290.72 L1068.56 291.15 L1067.06 291.6 L1065.56 292.05 L1064.06 292.51 L1062.56 292.97 L1061.06 293.45 L1059.56 293.93 L1058.06 294.41 L1056.56 294.9 L1055.06 295.4 L1053.56 295.9 L1052.06 296.4 L1050.56 296.91 L1049.06 297.43 L1047.56 297.94 L1046.06 298.46 L1044.56 298.98 L1043.06 299.5 L1041.56 300.03 L1040.06 300.55 L1038.63 303.02 L1037.13 305.58 L1035.63 308.1 L1034.13 310.57 L1032.63 313 L1031.13 315.39 L1029.63 317.79 L1028.13 320.19 L1026.63 322.55 L1025.13 324.84 L1023.63 327.01 L1022.13 329.03 L1020.63 330.88 L1019.13 332.65 L1017.63 334.34 L1016.13 335.96 L1014.63 337.49 L1013.13 338.93 L1011.63 340.26 L1010.13 341.48Z"/>
<line class="hl" x1="987.37" x2="1405.58" y1="298.5" y2="298.5"/>
<path class="cv" d="M1010.13 327.41 L1011.63 326 L1013.13 324.6 L1014.63 323.19 L1016.13 321.78 L1017.63 320.36 L1019.13 318.94 L1020.63 317.51 L1022.13 316.07 L1023.63 314.62 L1025.13 313.16 L1026.63 311.7 L1028.13 310.23 L1029.63 308.76 L1031.13 307.29 L1032.63 305.81 L1034.13 304.33 L1035.63 302.85 L1037.13 301.38 L1038.63 299.91 L1040.13 298.44 L1041.63 296.98 L1043.13 295.53 L1044.63 294.08 L1046.13 292.65 L1047.63 291.22 L1049.13 289.81 L1050.63 288.41 L1052.13 287.03 L1053.63 285.66 L1055.13 284.31 L1056.63 282.98 L1058.13 281.67 L1059.63 280.38 L1061.13 279.11 L1062.63 277.86 L1064.13 276.64 L1065.63 275.44 L1067.13 274.27 L1068.63 273.12 L1070.13 272.01 L1071.63 270.92 L1073.13 269.86 L1074.63 268.83 L1076.13 267.84 L1077.63 266.87 L1079.13 265.94 L1080.63 265.03 L1082.13 264.16 L1083.63 263.33 L1085.13 262.52 L1086.63 261.75 L1088.13 261.01 L1089.63 260.3 L1091.13 259.62 L1092.63 258.98 L1094.13 258.37 L1095.63 257.78 L1097.13 257.23 L1098.63 256.7 L1100.13 256.21 L1101.63 255.74 L1103.13 255.3 L1104.63 254.88 L1106.13 254.48 L1107.63 254.11 L1109.13 253.76 L1110.63 253.43 L1112.13 253.12 L1113.63 252.83 L1115.13 252.55 L1116.63 252.29 L1118.13 252.04 L1119.63 251.8 L1121.13 251.58 L1122.63 251.37 L1124.13 251.16 L1125.63 250.97 L1127.13 250.78 L1128.63 250.6 L1130.13 250.42 L1131.63 250.25 L1133.13 250.08 L1134.63 249.92 L1136.13 249.76 L1137.63 249.6 L1139.13 249.44 L1140.63 249.29 L1142.13 249.13 L1143.63 248.97 L1145.13 248.82 L1146.63 248.66 L1148.13 248.51 L1149.63 248.36 L1151.13 248.2 L1152.63 248.05 L1154.13 247.9 L1155.63 247.74 L1157.13 247.59 L1158.63 247.44 L1160.13 247.28 L1161.63 247.13 L1163.13 246.98 L1164.63 246.82 L1166.13 246.67 L1167.63 246.52 L1169.13 246.36 L1170.63 246.21 L1172.13 246.05 L1173.63 245.89 L1175.13 245.74 L1176.63 245.58 L1178.13 245.42 L1179.63 245.27 L1181.13 245.11 L1182.63 244.95 L1184.13 244.79 L1185.63 244.63 L1187.13 244.46 L1188.63 244.3 L1190.13 244.14 L1191.63 243.97 L1193.13 243.81 L1194.63 243.64 L1196.13 243.47 L1197.63 243.3 L1199.13 243.13 L1200.63 242.96 L1202.13 242.78 L1203.63 242.61 L1205.13 242.43 L1206.63 242.26 L1208.13 242.08 L1209.63 241.9 L1211.13 241.71 L1212.63 241.53 L1214.13 241.35 L1215.63 241.16 L1217.13 240.97 L1218.63 240.78 L1220.13 240.59 L1221.63 240.39 L1223.13 240.2 L1224.63 240 L1226.13 239.8 L1227.63 239.6 L1229.13 239.4 L1230.63 239.2 L1232.13 239 L1233.63 238.79 L1235.13 238.59 L1236.63 238.38 L1238.13 238.17 L1239.63 237.96 L1241.13 237.75 L1242.63 237.54 L1244.13 237.33 L1245.63 237.12 L1247.13 236.91 L1248.63 236.7 L1250.13 236.48 L1251.63 236.27 L1253.13 236.05 L1254.63 235.84 L1256.13 235.62 L1257.63 235.41 L1259.13 235.19 L1260.63 234.97 L1262.13 234.76 L1263.63 234.54 L1265.13 234.33 L1266.63 234.11 L1268.13 233.89 L1269.63 233.68 L1271.13 233.46 L1272.63 233.24 L1274.13 233.03 L1275.63 232.81 L1277.13 232.6 L1278.63 232.38 L1280.13 232.17 L1281.63 231.95 L1283.13 231.74 L1284.63 231.53 L1286.13 231.31 L1287.63 231.1 L1289.13 230.89 L1290.63 230.68 L1292.13 230.47 L1293.63 230.25 L1295.13 230.04 L1296.63 229.84 L1298.13 229.63 L1299.63 229.42 L1301.13 229.21 L1302.63 229 L1304.13 228.8 L1305.63 228.59 L1307.13 228.39 L1308.63 228.18 L1310.13 227.98 L1311.63 227.78 L1313.13 227.58 L1314.63 227.38 L1316.13 227.18 L1317.63 226.98 L1319.13 226.78 L1320.63 226.58 L1322.13 226.39 L1323.63 226.19 L1325.13 226 L1326.63 225.81 L1328.13 225.62 L1329.63 225.43 L1331.13 225.24 L1332.63 225.05 L1334.13 224.86 L1335.63 224.67 L1337.13 224.48 L1338.63 224.3 L1340.13 224.11 L1341.63 223.92 L1343.13 223.74 L1344.63 223.56 L1346.13 223.37 L1347.63 223.19 L1349.13 223.01 L1350.63 222.83 L1352.13 222.65 L1353.63 222.47 L1355.13 222.29 L1356.63 222.11 L1358.13 221.93 L1359.63 221.75 L1361.13 221.57 L1362.63 221.39 L1364.13 221.21 L1365.63 221.03 L1367.13 220.86 L1368.63 220.68 L1370.13 220.5 L1371.63 220.33 L1373.13 220.15 L1374.63 219.97 L1376.13 219.8 L1377.63 219.62 L1379.13 219.45 L1380.63 219.27 L1382.13 219.09 L1383.33 218.95"/>
</g>
<text class="an" transform="translate(1244.44 151.71) scale(1 1.075)" style="font-size:10.8px">P for overall = 0.002</text>
<text class="an" transform="translate(1244.44 162.71) scale(1 1.075)" style="font-size:10.8px">P for nonlinear = 0.029</text>
<rect class="fr" x="987.37" y="51.92" width="418.21" height="339.17"/>
<text class="tk" text-anchor="end" transform="translate(984.07 70.42) scale(1 1.075)" style="font-size:10.8px">4</text>
<text class="tk" text-anchor="end" transform="translate(984.07 147.92) scale(1 1.075)" style="font-size:10.8px">3</text>
<text class="tk" text-anchor="end" transform="translate(984.07 225.43) scale(1 1.075)" style="font-size:10.8px">2</text>
<text class="tk" text-anchor="end" transform="translate(984.07 302.93) scale(1 1.075)" style="font-size:10.8px">1</text>
<text class="tk" text-anchor="end" transform="translate(984.07 380.44) scale(1 1.075)" style="font-size:10.8px">0</text>
<text class="tk" transform="translate(1408.88 395.53) scale(1 1.075)" style="font-size:10.8px">0.00</text>
<text class="tk" transform="translate(1408.88 310.73) scale(1 1.075)" style="font-size:10.8px">0.25</text>
<text class="tk" transform="translate(1408.88 225.94) scale(1 1.075)" style="font-size:10.8px">0.50</text>
<text class="tk" transform="translate(1408.88 141.15) scale(1 1.075)" style="font-size:10.8px">0.75</text>
<text class="tk" transform="translate(1408.88 56.35) scale(1 1.075)" style="font-size:10.8px">1.00</text>
<text class="tk" text-anchor="middle" transform="translate(1001.44 403.9) scale(1 1.075)" style="font-size:10.8px">0</text>
<text class="tk" text-anchor="middle" transform="translate(1082.52 403.9) scale(1 1.075)" style="font-size:10.8px">10</text>
<text class="tk" text-anchor="middle" transform="translate(1163.61 403.9) scale(1 1.075)" style="font-size:10.8px">20</text>
<text class="tk" text-anchor="middle" transform="translate(1244.44 403.9) scale(1 1.075)" style="font-size:10.8px">30</text>
<text class="tk" text-anchor="middle" transform="translate(1325.52 403.9) scale(1 1.075)" style="font-size:10.8px">40</text>
<path class="tm" d="M987.37 65.99H985.37M987.37 143.5H985.37M987.37 221H985.37M987.37 298.5H985.37M987.37 376.01H985.37M1405.58 391.1H1407.58M1405.58 306.31H1407.58M1405.58 221.51H1407.58M1405.58 136.72H1407.58M1405.58 51.92H1407.58M1001.44 391.1V393.1M1082.52 391.1V393.1M1163.61 391.1V393.1M1244.44 391.1V393.1M1325.52 391.1V393.1"/>
<text class="al" text-anchor="middle" transform="translate(1195.32 414.89) scale(1 1.075)" style="font-size:10.2px">NLR</text>
<text class="al" text-anchor="middle" transform="translate(974.32 221.51) rotate(-90) scale(1.075 1)" style="font-size:10.2px">HR(95%CI)</text>
<text class="al" text-anchor="middle" transform="translate(1431.14 221.51) rotate(90) scale(1.075 1)" style="font-size:10.2px">Density</text>
</g>
<g class="panel">
<text class="ttl" transform="translate(1468.53 46.6) scale(1 1.075)" style="font-size:9.25px">The relationship between the variable and the predicted probability</text>
<clipPath id="ca4"><rect x="1468.53" y="51.92" width="418.47" height="340.96"/></clipPath>
<g clip-path="url(#ca4)">
<path class="bar" style="stroke-width:0.6" d="M1487.3 377.3V278.2H1490.54V377.3ZM1490.54 377.3V235.69H1493.78V377.3ZM1493.78 377.3V246.89H1497.02V377.3ZM1497.02 377.3V201.53H1500.26V377.3ZM1500.26 377.3V161.58H1503.49V377.3ZM1503.49 377.3V147.33H1506.73V377.3ZM1506.73 377.3V78.51H1509.97V377.3ZM1509.97 377.3V67.18H1513.21V377.3ZM1513.21 377.3V135.39H1516.45V377.3ZM1516.45 377.3V101.41H1519.69V377.3ZM1519.69 377.3V101.41H1522.93V377.3ZM1522.93 377.3V107.38H1526.17V377.3ZM1526.17 377.3V172.54H1529.41V377.3ZM1529.41 377.3V161.58H1532.65V377.3ZM1532.65 377.3V161.58H1535.88V377.3ZM1535.88 377.3V193H1539.12V377.3ZM1539.12 377.3V189.84H1542.36V377.3ZM1542.36 377.3V193H1545.6V377.3ZM1545.6 377.3V232.83H1548.84V377.3ZM1548.84 377.3V207.01H1552.08V377.3ZM1552.08 377.3V272.84H1555.32V377.3ZM1555.32 377.3V238.73H1558.56V377.3ZM1558.56 377.3V246.89H1561.8V377.3ZM1561.8 377.3V266.99H1565.04V377.3ZM1565.04 377.3V261.27H1568.27V377.3ZM1568.27 377.3V272.84H1571.51V377.3ZM1571.51 377.3V275.52H1574.75V377.3ZM1574.75 377.3V272.84H1577.99V377.3ZM1577.99 377.3V289.89H1581.23V377.3ZM1581.23 377.3V278.56H1584.47V377.3ZM1584.47 377.3V295.98H1587.71V377.3ZM1587.71 377.3V307.19H1590.95V377.3ZM1590.95 377.3V298.66H1594.19V377.3ZM1594.19 377.3V304.14H1597.43V377.3ZM1597.43 377.3V301.34H1600.66V377.3ZM1600.66 377.3V324.24H1603.9V377.3ZM1603.9 377.3V312.67H1607.14V377.3ZM1607.14 377.3V324.24H1610.38V377.3ZM1610.38 377.3V315.47H1613.62V377.3ZM1613.62 377.3V306.94H1616.86V377.3ZM1616.86 377.3V318.15H1620.1V377.3ZM1620.1 377.3V306.94H1623.34V377.3ZM1623.34 377.3V315.47H1626.58V377.3ZM1626.58 377.3V324.24H1629.82V377.3ZM1629.82 377.3V321.44H1633.05V377.3ZM1633.05 377.3V309.62H1636.29V377.3ZM1636.29 377.3V324.24H1639.53V377.3ZM1639.53 377.3V321.44H1642.77V377.3ZM1642.77 377.3V304.38H1646.01V377.3ZM1646.01 377.3V324.24H1649.25V377.3ZM1649.25 377.3V321.44H1652.49V377.3ZM1652.49 377.3V324.24H1655.73V377.3ZM1655.73 377.3V329.96H1658.97V377.3ZM1658.97 377.3V327.04H1662.21V377.3ZM1662.21 377.3V315.47H1665.44V377.3ZM1665.44 377.3V332.52H1668.68V377.3ZM1668.68 377.3V327.04H1671.92V377.3ZM1671.92 377.3V327.04H1675.16V377.3ZM1675.16 377.3V324.24H1678.4V377.3ZM1678.4 377.3V327.04H1681.64V377.3ZM1681.64 377.3V330.09H1684.88V377.3ZM1684.88 377.3V330.09H1688.12V377.3ZM1688.12 377.3V324.24H1691.36V377.3ZM1691.36 377.3V327.04H1694.59V377.3ZM1694.59 377.3V332.52H1697.83V377.3ZM1697.83 377.3V332.52H1701.07V377.3ZM1701.07 377.3V324.24H1704.31V377.3ZM1704.31 377.3V327.04H1707.55V377.3ZM1707.55 377.3V327.04H1710.79V377.3ZM1710.79 377.3V330.09H1714.03V377.3ZM1714.03 377.3V321.44H1717.27V377.3ZM1717.27 377.3V330.09H1720.51V377.3ZM1720.51 377.3V332.52H1723.75V377.3ZM1723.75 377.3V330.09H1726.98V377.3ZM1726.98 377.3V324.24H1730.22V377.3ZM1730.22 377.3V332.52H1733.46V377.3ZM1733.46 377.3V330.09H1736.7V377.3ZM1736.7 377.3V332.52H1739.94V377.3ZM1739.94 377.3V332.52H1743.18V377.3ZM1743.18 377.3V324.24H1746.42V377.3ZM1746.42 377.3V330.09H1749.66V377.3ZM1749.66 377.3V330.09H1752.9V377.3ZM1752.9 377.3V330.09H1756.14V377.3ZM1756.14 377.3V327.04H1759.37V377.3ZM1759.37 377.3V327.04H1762.61V377.3ZM1762.61 377.3V332.52H1765.85V377.3ZM1765.85 377.3V332.52H1769.09V377.3ZM1769.09 377.3V330.09H1772.33V377.3ZM1772.33 377.3V327.04H1775.57V377.3ZM1775.57 377.3V332.52H1778.81V377.3ZM1778.81 377.3V324.24H1782.05V377.3ZM1782.05 377.3V332.52H1785.29V377.3ZM1785.29 377.3V330.09H1788.53V377.3ZM1788.53 377.3V330.09H1791.76V377.3ZM1791.76 377.3V332.52H1795V377.3ZM1795 377.3V332.52H1798.24V377.3ZM1798.24 377.3V332.52H1801.48V377.3ZM1801.48 377.3V332.52H1804.72V377.3ZM1804.72 377.3V330.09H1807.96V377.3ZM1807.96 377.3V332.52H1811.2V377.3ZM1811.2 377.3V332.52H1814.44V377.3ZM1814.44 377.3V332.52H1817.68V377.3ZM1817.68 377.3V330.09H1820.92V377.3ZM1820.92 377.3V332.52H1824.15V377.3ZM1824.15 377.3V330.09H1827.39V377.3ZM1827.39 377.3V327.04H1830.63V377.3ZM1830.63 377.3V332.52H1833.87V377.3ZM1833.87 377.3V332.52H1837.11V377.3ZM1837.11 377.3V330.09H1840.35V377.3ZM1840.35 377.3V332.52H1843.59V377.3ZM1843.59 377.3V332.52H1846.83V377.3ZM1846.83 377.3V332.52H1850.07V377.3ZM1850.07 377.3V332.52H1853.31V377.3ZM1853.31 377.3V332.52H1856.54V377.3ZM1856.54 377.3V332.52H1859.78V377.3ZM1859.78 377.3V332.52H1863.02V377.3ZM1863.02 377.3V330.09H1866.26V377.3ZM1866.26 377.3V284.04H1869.5V377.3Z"/>
<path class="band" d="M1490.6 277.95 L1492.1 279.41 L1493.6 280.84 L1495.1 282.24 L1496.6 283.61 L1498.1 284.94 L1499.6 286.24 L1501.1 287.5 L1502.6 288.73 L1504.1 289.93 L1505.6 291.09 L1507.1 292.25 L1508.6 293.38 L1510.1 294.47 L1511.6 295.53 L1513.1 296.55 L1514.6 297.51 L1516.1 298.41 L1517.6 299.25 L1519.1 300.06 L1520.6 300.84 L1522.1 301.58 L1523.6 302.29 L1525.1 302.96 L1526.6 303.58 L1528.1 304.16 L1528.72 304.38 L1530.22 303.71 L1531.72 303.04 L1533.22 302.37 L1534.72 301.7 L1536.22 301.03 L1537.72 300.36 L1539.22 299.69 L1540.72 299.01 L1542.22 298.34 L1543.72 297.67 L1545.22 297 L1546.72 296.32 L1548.22 295.65 L1549.72 294.98 L1551.22 294.31 L1552.72 293.64 L1554.22 292.97 L1555.72 292.3 L1557.22 291.64 L1558.72 290.98 L1560.22 290.32 L1561.72 289.67 L1563.22 289.02 L1564.72 288.37 L1566.22 287.73 L1567.72 287.1 L1569.22 286.48 L1570.72 285.87 L1572.22 285.27 L1573.72 284.68 L1575.22 284.1 L1576.72 283.54 L1578.22 282.99 L1579.72 282.46 L1581.22 281.94 L1582.72 281.44 L1584.22 280.97 L1585.72 280.51 L1587.22 280.07 L1588.72 279.64 L1590.22 279.24 L1591.72 278.85 L1593.22 278.47 L1594.72 278.1 L1596.22 277.74 L1597.72 277.39 L1599.22 277.04 L1600.72 276.7 L1602.22 276.36 L1603.72 276.02 L1605.22 275.68 L1606.72 275.34 L1608.22 275 L1609.72 274.65 L1611.22 274.3 L1612.72 273.95 L1614.22 273.59 L1615.72 273.22 L1617.22 272.85 L1618.72 272.47 L1620.22 272.07 L1621.72 271.67 L1623.22 271.26 L1624.72 270.83 L1626.22 270.39 L1627.72 269.94 L1629.22 269.47 L1630.72 268.99 L1632.22 268.49 L1633.72 267.98 L1635.22 267.45 L1636.72 266.9 L1638.22 266.34 L1639.72 265.77 L1641.22 265.17 L1642.72 264.56 L1644.22 263.93 L1645.72 263.28 L1647.22 262.62 L1648.72 261.94 L1650.22 261.23 L1651.72 260.51 L1653.22 259.77 L1654.72 259.02 L1656.22 258.24 L1657.72 257.45 L1659.22 256.65 L1660.72 255.83 L1662.22 255 L1663.72 254.15 L1665.22 253.3 L1666.72 252.43 L1668.22 251.55 L1669.72 250.66 L1671.22 249.77 L1672.72 248.86 L1674.22 247.95 L1675.72 247.03 L1677.22 246.11 L1678.72 245.19 L1680.22 244.26 L1681.72 243.32 L1683.22 242.39 L1684.72 241.45 L1686.22 240.5 L1687.72 239.56 L1689.22 238.61 L1690.72 237.66 L1692.22 236.71 L1693.72 235.75 L1695.22 234.79 L1696.72 233.83 L1698.22 232.87 L1699.72 231.9 L1701.22 230.93 L1702.72 229.96 L1704.22 228.98 L1705.72 228 L1707.22 227.02 L1708.72 226.04 L1710.22 225.05 L1711.72 224.06 L1713.22 223.07 L1714.72 222.08 L1716.22 221.08 L1717.72 220.08 L1719.22 219.08 L1720.72 218.07 L1722.22 217.05 L1723.72 216.04 L1725.22 215.01 L1726.72 213.98 L1728.22 212.95 L1729.72 211.9 L1731.22 210.85 L1732.72 209.8 L1734.22 208.73 L1735.72 207.66 L1737.22 206.57 L1738.72 205.48 L1740.22 204.38 L1741.72 203.27 L1743.22 202.15 L1744.72 201.02 L1746.22 199.88 L1747.72 198.72 L1749.22 197.56 L1750.72 196.38 L1752.22 195.18 L1753.72 193.97 L1755.22 192.74 L1756.72 191.5 L1758.22 190.23 L1759.72 188.95 L1761.22 187.65 L1762.72 186.32 L1764.22 184.98 L1765.72 183.61 L1767.22 182.23 L1768.72 180.83 L1770.22 179.42 L1771.72 177.98 L1773.22 176.54 L1774.72 175.07 L1776.22 173.59 L1777.72 172.1 L1779.22 170.6 L1780.72 169.09 L1782.22 167.56 L1783.72 166.02 L1785.22 164.48 L1786.72 162.92 L1788.22 161.36 L1789.72 159.79 L1791.22 158.21 L1792.72 156.63 L1794.22 155.04 L1795.72 153.44 L1797.22 151.84 L1798.72 150.24 L1800.22 148.64 L1801.72 147.02 L1803.22 145.41 L1804.72 143.79 L1806.22 142.17 L1807.72 140.54 L1809.22 138.91 L1810.72 137.28 L1812.22 135.64 L1813.72 134 L1815.22 132.35 L1816.72 130.71 L1818.22 129.05 L1819.72 127.4 L1821.22 125.75 L1822.72 124.09 L1824.22 122.42 L1825.72 120.76 L1827.22 119.08 L1828.72 117.41 L1830.22 115.72 L1831.72 114.03 L1833.22 112.32 L1834.72 110.61 L1836.22 108.88 L1837.72 107.14 L1839.22 105.39 L1840.72 103.63 L1842.22 101.85 L1843.72 100.05 L1845.22 98.24 L1846.72 96.41 L1848.22 94.56 L1849.72 92.69 L1851.22 90.8 L1852.72 88.89 L1854.22 86.97 L1855.72 85.04 L1857.22 83.09 L1858.72 81.13 L1860.22 79.17 L1861.72 77.19 L1863.22 75.21 L1864.72 73.22 L1866.22 71.23 L1867.72 69.24 L1868.8 67.8 L1868.79 330.57 L1867.72 330.48 L1866.22 330.35 L1864.72 330.21 L1863.22 330.08 L1861.72 329.95 L1860.22 329.82 L1858.72 329.68 L1857.22 329.55 L1855.72 329.42 L1854.22 329.29 L1852.72 329.16 L1851.22 329.02 L1849.72 328.89 L1848.22 328.76 L1846.72 328.62 L1845.22 328.49 L1843.72 328.36 L1842.22 328.22 L1840.72 328.09 L1839.22 327.96 L1837.72 327.82 L1836.22 327.69 L1834.72 327.56 L1833.22 327.42 L1831.72 327.29 L1830.22 327.15 L1828.72 327.02 L1827.22 326.88 L1825.72 326.75 L1824.22 326.61 L1822.72 326.47 L1821.22 326.34 L1819.72 326.2 L1818.22 326.06 L1816.72 325.93 L1815.22 325.79 L1813.72 325.65 L1812.22 325.51 L1810.72 325.38 L1809.22 325.24 L1807.72 325.1 L1806.22 324.96 L1804.72 324.82 L1803.22 324.68 L1801.72 324.54 L1800.22 324.4 L1798.72 324.26 L1797.22 324.11 L1795.72 323.97 L1794.22 323.83 L1792.72 323.69 L1791.22 323.54 L1789.72 323.4 L1788.22 323.26 L1786.72 323.11 L1785.22 322.97 L1783.72 322.83 L1782.22 322.68 L1780.72 322.54 L1779.22 322.39 L1777.72 322.25 L1776.22 322.1 L1774.72 321.96 L1773.22 321.81 L1771.72 321.66 L1770.22 321.52 L1768.72 321.37 L1767.22 321.23 L1765.72 321.08 L1764.22 320.93 L1762.72 320.79 L1761.22 320.64 L1759.72 320.49 L1758.22 320.35 L1756.72 320.2 L1755.22 320.05 L1753.72 319.9 L1752.22 319.76 L1750.72 319.61 L1749.22 319.46 L1747.72 319.32 L1746.22 319.17 L1744.72 319.02 L1743.22 318.88 L1741.72 318.73 L1740.22 318.58 L1738.72 318.44 L1737.22 318.29 L1735.72 318.14 L1734.22 318 L1732.72 317.85 L1731.22 317.71 L1729.72 317.56 L1728.22 317.42 L1726.72 317.28 L1725.22 317.13 L1723.72 316.99 L1722.22 316.85 L1720.72 316.71 L1719.22 316.57 L1717.72 316.43 L1716.22 316.29 L1714.72 316.15 L1713.22 316.01 L1711.72 315.88 L1710.22 315.74 L1708.72 315.61 L1707.22 315.47 L1705.72 315.34 L1704.22 315.21 L1702.72 315.08 L1701.22 314.95 L1699.72 314.83 L1698.22 314.7 L1696.72 314.58 L1695.22 314.46 L1693.72 314.34 L1692.22 314.22 L1690.72 314.1 L1689.22 313.99 L1687.72 313.87 L1686.22 313.76 L1684.72 313.65 L1683.22 313.54 L1681.72 313.44 L1680.22 313.33 L1678.72 313.23 L1677.22 313.13 L1675.72 313.03 L1674.22 312.94 L1672.72 312.84 L1671.22 312.75 L1669.72 312.66 L1668.22 312.58 L1666.72 312.49 L1665.22 312.41 L1663.72 312.33 L1662.22 312.25 L1660.72 312.18 L1659.22 312.11 L1657.72 312.04 L1656.22 311.97 L1654.72 311.9 L1653.22 311.84 L1651.72 311.78 L1650.22 311.73 L1648.72 311.67 L1647.22 311.62 L1645.72 311.57 L1644.22 311.53 L1642.72 311.48 L1641.22 311.44 L1639.72 311.4 L1638.22 311.36 L1636.72 311.33 L1635.22 311.29 L1633.72 311.26 L1632.22 311.23 L1630.72 311.21 L1629.22 311.18 L1627.72 311.16 L1626.22 311.14 L1624.72 311.11 L1623.22 311.1 L1621.72 311.08 L1620.22 311.06 L1618.72 311.04 L1617.22 311.03 L1615.72 311.01 L1614.22 311 L1612.72 310.98 L1611.22 310.97 L1609.72 310.95 L1608.22 310.94 L1606.72 310.92 L1605.22 310.9 L1603.72 310.88 L1602.22 310.87 L1600.72 310.84 L1599.22 310.82 L1597.72 310.8 L1596.22 310.77 L1594.72 310.74 L1593.22 310.71 L1591.72 310.68 L1590.22 310.64 L1588.72 310.6 L1587.22 310.55 L1585.72 310.5 L1584.22 310.45 L1582.72 310.39 L1581.22 310.33 L1579.72 310.26 L1578.22 310.19 L1576.72 310.11 L1575.22 310.02 L1573.72 309.93 L1572.22 309.83 L1570.72 309.73 L1569.22 309.62 L1567.72 309.5 L1566.22 309.38 L1564.72 309.25 L1563.22 309.11 L1561.72 308.97 L1560.22 308.82 L1558.72 308.67 L1557.22 308.51 L1555.72 308.34 L1554.22 308.17 L1552.72 307.98 L1551.22 307.8 L1549.72 307.6 L1548.22 307.4 L1546.72 307.19 L1545.22 306.98 L1543.72 306.76 L1542.22 306.54 L1540.72 306.32 L1539.22 306.08 L1537.72 305.85 L1536.22 305.61 L1534.72 305.37 L1533.22 305.12 L1531.72 304.88 L1530.22 304.63 L1528.72 304.38 L1528.1 304.7 L1526.6 305.47 L1525.1 306.28 L1523.6 307.12 L1522.1 307.99 L1520.6 308.89 L1519.1 309.81 L1517.6 310.76 L1516.1 311.74 L1514.6 312.76 L1513.1 313.83 L1511.6 314.94 L1510.1 316.08 L1508.6 317.24 L1507.1 318.42 L1505.6 319.6 L1504.1 320.79 L1502.6 321.99 L1501.1 323.21 L1499.6 324.44 L1498.1 325.68 L1496.6 326.95 L1495.1 328.23 L1493.6 329.52 L1492.1 330.83 L1490.6 332.16Z"/>
<line class="hl" x1="1468.53" x2="1887" y1="304.39" y2="304.39"/>
<path class="cv" d="M1490.6 310.6 L1492.1 310.38 L1493.6 310.16 L1495.1 309.94 L1496.6 309.72 L1498.1 309.51 L1499.6 309.29 L1501.1 309.07 L1502.6 308.85 L1504.1 308.63 L1505.6 308.42 L1507.1 308.2 L1508.6 307.98 L1510.1 307.76 L1511.6 307.55 L1513.1 307.33 L1514.6 307.11 L1516.1 306.9 L1517.6 306.68 L1519.1 306.47 L1520.6 306.25 L1522.1 306.03 L1523.6 305.82 L1525.1 305.6 L1526.6 305.39 L1528.1 305.18 L1529.6 304.96 L1531.1 304.75 L1532.6 304.54 L1534.1 304.32 L1535.6 304.11 L1537.1 303.9 L1538.6 303.69 L1540.1 303.48 L1541.6 303.27 L1543.1 303.06 L1544.6 302.85 L1546.1 302.64 L1547.6 302.43 L1549.1 302.22 L1550.6 302.01 L1552.1 301.8 L1553.6 301.59 L1555.1 301.39 L1556.6 301.18 L1558.1 300.97 L1559.6 300.77 L1561.1 300.56 L1562.6 300.35 L1564.1 300.15 L1565.6 299.94 L1567.1 299.74 L1568.6 299.54 L1570.1 299.33 L1571.6 299.13 L1573.1 298.93 L1574.6 298.72 L1576.1 298.52 L1577.6 298.32 L1579.1 298.12 L1580.6 297.92 L1582.1 297.72 L1583.6 297.51 L1585.1 297.31 L1586.6 297.11 L1588.1 296.92 L1589.6 296.72 L1591.1 296.52 L1592.6 296.32 L1594.1 296.12 L1595.6 295.92 L1597.1 295.72 L1598.6 295.53 L1600.1 295.33 L1601.6 295.13 L1603.1 294.94 L1604.6 294.74 L1606.1 294.54 L1607.6 294.35 L1609.1 294.15 L1610.6 293.96 L1612.1 293.76 L1613.6 293.57 L1615.1 293.37 L1616.6 293.18 L1618.1 292.99 L1619.6 292.79 L1621.1 292.6 L1622.6 292.4 L1624.1 292.21 L1625.6 292.02 L1627.1 291.82 L1628.6 291.63 L1630.1 291.44 L1631.6 291.24 L1633.1 291.05 L1634.6 290.86 L1636.1 290.67 L1637.6 290.47 L1639.1 290.28 L1640.6 290.09 L1642.1 289.9 L1643.6 289.7 L1645.1 289.51 L1646.6 289.32 L1648.1 289.13 L1649.6 288.93 L1651.1 288.74 L1652.6 288.55 L1654.1 288.35 L1655.6 288.16 L1657.1 287.97 L1658.6 287.77 L1660.1 287.58 L1661.6 287.39 L1663.1 287.19 L1664.6 287 L1666.1 286.81 L1667.6 286.61 L1669.1 286.42 L1670.6 286.22 L1672.1 286.03 L1673.6 285.83 L1675.1 285.63 L1676.6 285.44 L1678.1 285.24 L1679.6 285.04 L1681.1 284.85 L1682.6 284.65 L1684.1 284.45 L1685.6 284.25 L1687.1 284.05 L1688.6 283.85 L1690.1 283.65 L1691.6 283.45 L1693.1 283.25 L1694.6 283.05 L1696.1 282.85 L1697.6 282.65 L1699.1 282.44 L1700.6 282.24 L1702.1 282.04 L1703.6 281.83 L1705.1 281.63 L1706.6 281.42 L1708.1 281.22 L1709.6 281.01 L1711.1 280.8 L1712.6 280.6 L1714.1 280.39 L1715.6 280.18 L1717.1 279.97 L1718.6 279.76 L1720.1 279.55 L1721.6 279.34 L1723.1 279.13 L1724.6 278.92 L1726.1 278.71 L1727.6 278.49 L1729.1 278.28 L1730.6 278.06 L1732.1 277.85 L1733.6 277.63 L1735.1 277.42 L1736.6 277.2 L1738.1 276.98 L1739.6 276.76 L1741.1 276.55 L1742.6 276.33 L1744.1 276.11 L1745.6 275.89 L1747.1 275.67 L1748.6 275.44 L1750.1 275.22 L1751.6 275 L1753.1 274.78 L1754.6 274.55 L1756.1 274.33 L1757.6 274.1 L1759.1 273.88 L1760.6 273.65 L1762.1 273.43 L1763.6 273.2 L1765.1 272.97 L1766.6 272.74 L1768.1 272.51 L1769.6 272.29 L1771.1 272.06 L1772.6 271.83 L1774.1 271.6 L1775.6 271.36 L1777.1 271.13 L1778.6 270.9 L1780.1 270.67 L1781.6 270.44 L1783.1 270.2 L1784.6 269.97 L1786.1 269.74 L1787.6 269.5 L1789.1 269.27 L1790.6 269.03 L1792.1 268.79 L1793.6 268.56 L1795.1 268.32 L1796.6 268.09 L1798.1 267.85 L1799.6 267.61 L1801.1 267.37 L1802.6 267.13 L1804.1 266.9 L1805.6 266.66 L1807.1 266.42 L1808.6 266.18 L1810.1 265.94 L1811.6 265.7 L1813.1 265.46 L1814.6 265.22 L1816.1 264.98 L1817.6 264.73 L1819.1 264.49 L1820.6 264.25 L1822.1 264.01 L1823.6 263.77 L1825.1 263.52 L1826.6 263.28 L1828.1 263.04 L1829.6 262.8 L1831.1 262.55 L1832.6 262.31 L1834.1 262.07 L1835.6 261.82 L1837.1 261.58 L1838.6 261.33 L1840.1 261.09 L1841.6 260.84 L1843.1 260.6 L1844.6 260.35 L1846.1 260.11 L1847.6 259.86 L1849.1 259.62 L1850.6 259.37 L1852.1 259.13 L1853.6 258.88 L1855.1 258.64 L1856.6 258.39 L1858.1 258.15 L1859.6 257.9 L1861.1 257.66 L1862.6 257.41 L1864.1 257.16 L1865.6 256.92 L1867.1 256.67 L1868.6 256.43 L1868.79 256.39"/>
</g>
<text class="an" transform="translate(1705.39 165.78) scale(1 1.075)" style="font-size:10.8px">P for overall = 0.448</text>
<text class="an" transform="translate(1705.39 176.78) scale(1 1.075)" style="font-size:10.8px">P for nonlinear = 0.909</text>
<rect class="fr" x="1468.53" y="51.92" width="418.47" height="340.96"/>
<text class="tk" text-anchor="end" transform="translate(1465.23 88.07) scale(1 1.075)" style="font-size:10.8px">4</text>
<text class="tk" text-anchor="end" transform="translate(1465.23 161.74) scale(1 1.075)" style="font-size:10.8px">3</text>
<text class="tk" text-anchor="end" transform="translate(1465.23 235.15) scale(1 1.075)" style="font-size:10.8px">2</text>
<text class="tk" text-anchor="end" transform="translate(1465.23 308.81) scale(1 1.075)" style="font-size:10.8px">1</text>
<text class="tk" text-anchor="end" transform="translate(1465.23 381.97) scale(1 1.075)" style="font-size:10.8px">0</text>
<text class="tk" transform="translate(1890.3 397.32) scale(1 1.075)" style="font-size:10.8px">0.00</text>
<text class="tk" transform="translate(1890.3 312.08) scale(1 1.075)" style="font-size:10.8px">0.25</text>
<text class="tk" transform="translate(1890.3 226.83) scale(1 1.075)" style="font-size:10.8px">0.50</text>
<text class="tk" transform="translate(1890.3 141.59) scale(1 1.075)" style="font-size:10.8px">0.75</text>
<text class="tk" transform="translate(1890.3 56.35) scale(1 1.075)" style="font-size:10.8px">1.00</text>
<text class="tk" text-anchor="middle" transform="translate(1479.53 405.69) scale(1 1.075)" style="font-size:10.8px">0</text>
<text class="tk" text-anchor="middle" transform="translate(1560.1 405.69) scale(1 1.075)" style="font-size:10.8px">250</text>
<text class="tk" text-anchor="middle" transform="translate(1640.93 405.69) scale(1 1.075)" style="font-size:10.8px">500</text>
<text class="tk" text-anchor="middle" transform="translate(1721.76 405.69) scale(1 1.075)" style="font-size:10.8px">750</text>
<text class="tk" text-anchor="middle" transform="translate(1802.33 405.69) scale(1 1.075)" style="font-size:10.8px">1000</text>
<text class="tk" text-anchor="middle" transform="translate(1883.16 405.69) scale(1 1.075)" style="font-size:10.8px">1250</text>
<path class="tm" d="M1468.53 83.64H1466.53M1468.53 157.31H1466.53M1468.53 230.72H1466.53M1468.53 304.39H1466.53M1468.53 377.54H1466.53M1887 392.89H1889M1887 307.65H1889M1887 222.41H1889M1887 137.17H1889M1887 51.92H1889M1479.53 392.89V394.89M1560.1 392.89V394.89M1640.93 392.89V394.89M1721.76 392.89V394.89M1802.33 392.89V394.89M1883.16 392.89V394.89"/>
<text class="al" text-anchor="middle" transform="translate(1677.25 416.42) scale(1 1.075)" style="font-size:10.2px">PLR</text>
<text class="al" text-anchor="middle" transform="translate(1456.25 222.02) rotate(-90) scale(1.075 1)" style="font-size:10.2px">HR(95%CI)</text>
<text class="al" text-anchor="middle" transform="translate(1913.58 222.02) rotate(90) scale(1.075 1)" style="font-size:10.2px">Density</text>
</g>
<g class="panel">
<text class="ttl" transform="translate(23.79 433.81) scale(1 1.075)" style="font-size:9.25px">The relationship between the variable and the predicted probability</text>
<clipPath id="ca5"><rect x="23.79" y="439.14" width="417.96" height="340.2"/></clipPath>
<g clip-path="url(#ca5)">
<path class="bar" style="stroke-width:0.6" d="M42.8 764.4V671.86H46.6V764.4ZM46.6 764.4V725.21H50.4V764.4ZM50.4 764.4V714.49H54.2V764.4ZM54.2 764.4V682.58H58V764.4ZM58 764.4V657.61H61.8V764.4ZM61.8 764.4V639.59H65.6V764.4ZM65.6 764.4V643.24H69.4V764.4ZM69.4 764.4V660.9H73.2V764.4ZM73.2 764.4V614.86H77V764.4ZM77 764.4V586.53H80.8V764.4ZM80.8 764.4V543.78H84.6V764.4ZM84.6 764.4V575.57H88.4V764.4ZM88.4 764.4V604.43H92.2V764.4ZM92.2 764.4V454.62H96V764.4ZM96 764.4V515.52H99.8V764.4ZM99.8 764.4V568.5H103.6V764.4ZM103.6 764.4V543.78H107.4V764.4ZM107.4 764.4V579.46H111.2V764.4ZM111.2 764.4V571.91H115V764.4ZM115 764.4V564.85H118.8V764.4ZM118.8 764.4V600.78H122.6V764.4ZM122.6 764.4V579.46H126.4V764.4ZM126.4 764.4V571.91H130.2V764.4ZM130.2 764.4V636.35H134V764.4ZM134 764.4V615.03H137.8V764.4ZM137.8 764.4V582.75H141.6V764.4ZM141.6 764.4V611.38H145.4V764.4ZM145.4 764.4V600.78H149.2V764.4ZM149.2 764.4V628.79H153V764.4ZM153 764.4V646.65H156.8V764.4ZM156.8 764.4V661.14H160.6V764.4ZM160.6 764.4V682.58H164.4V764.4ZM164.4 764.4V678.93H168.2V764.4ZM168.2 764.4V678.93H172V764.4ZM172 764.4V696.59H175.8V764.4ZM175.8 764.4V678.93H179.6V764.4ZM179.6 764.4V671.86H183.4V764.4ZM183.4 764.4V689.89H187.2V764.4ZM187.2 764.4V689.89H191V764.4ZM191 764.4V725.21H194.8V764.4ZM194.8 764.4V693.3H198.6V764.4ZM198.6 764.4V703.9H202.4V764.4ZM202.4 764.4V703.9H206.2V764.4ZM206.2 764.4V725.21H210V764.4ZM210 764.4V703.9H213.8V764.4ZM213.8 764.4V739.46H217.6V764.4ZM217.6 764.4V696.59H221.4V764.4ZM221.4 764.4V725.21H225.2V764.4ZM225.2 764.4V732.16H229V764.4ZM229 764.4V732.16H232.8V764.4ZM232.8 764.4V721.56H236.6V764.4ZM236.6 764.4V739.46H240.4V764.4ZM240.4 764.4V732.16H244.2V764.4ZM244.2 764.4V732.16H248V764.4ZM248 764.4V742.75H251.8V764.4ZM251.8 764.4V735.57H255.6V764.4ZM255.6 764.4V735.57H259.4V764.4ZM259.4 764.4V739.46H263.2V764.4ZM263.2 764.4V739.46H267V764.4ZM267 764.4V735.57H270.8V764.4ZM270.8 764.4V721.56H274.6V764.4ZM274.6 764.4V739.46H278.4V764.4ZM278.4 764.4V739.46H282.2V764.4ZM282.2 764.4V746.53H286V764.4ZM286 764.4V739.46H289.8V764.4ZM289.8 764.4V735.57H293.6V764.4ZM293.6 764.4V742.75H297.4V764.4ZM297.4 764.4V735.57H301.2V764.4ZM301.2 764.4V746.53H305V764.4ZM305 764.4V750.06H308.8V764.4ZM308.8 764.4V739.46H312.6V764.4ZM312.6 764.4V742.75H316.4V764.4ZM316.4 764.4V746.53H320.2V764.4ZM320.2 764.4V746.53H324V764.4ZM324 764.4V742.75H327.8V764.4ZM327.8 764.4V739.46H331.6V764.4ZM331.6 764.4V746.53H335.4V764.4ZM335.4 764.4V750.06H339.2V764.4ZM339.2 764.4V746.53H343V764.4ZM343 764.4V742.75H346.8V764.4ZM346.8 764.4V746.53H350.6V764.4ZM350.6 764.4V746.53H354.4V764.4ZM354.4 764.4V742.75H358.2V764.4ZM358.2 764.4V746.53H362V764.4ZM362 764.4V750.06H365.8V764.4ZM365.8 764.4V742.75H369.6V764.4ZM369.6 764.4V750.06H373.4V764.4ZM373.4 764.4V750.06H377.2V764.4ZM377.2 764.4V750.06H381V764.4ZM381 764.4V746.53H384.8V764.4ZM384.8 764.4V750.06H388.6V764.4ZM388.6 764.4V746.53H392.4V764.4ZM392.4 764.4V750.06H396.2V764.4ZM396.2 764.4V732.16H400V764.4ZM400 764.4V750.06H403.8V764.4ZM403.8 764.4V750.06H407.6V764.4ZM407.6 764.4V750.06H411.4V764.4ZM411.4 764.4V750.06H415.2V764.4ZM415.2 764.4V750.06H419V764.4ZM419 764.4V689.52H422.8V764.4Z"/>
<path class="band" d="M44.62 708.77 L46.12 708.82 L47.62 708.87 L49.12 708.93 L50.62 708.98 L52.12 709.04 L53.62 709.09 L55.12 709.15 L56.62 709.21 L58.12 709.27 L59.62 709.33 L61.12 709.39 L62.62 709.45 L64.12 709.52 L65.62 709.58 L67.12 709.65 L68.62 709.72 L70.12 709.79 L71.62 709.86 L73.12 709.94 L74.62 710.02 L76.12 710.09 L77.62 710.17 L79.12 710.25 L80.62 710.33 L82.12 710.41 L83.62 710.49 L85.12 710.57 L86.62 710.64 L88.12 710.71 L89.62 710.78 L91.12 710.85 L92.62 710.91 L94.12 710.98 L95.62 711.04 L97.12 711.1 L98.62 711.16 L100.12 711.22 L101.62 711.28 L103.12 711.34 L104.62 711.4 L106.12 711.46 L107.62 711.51 L109.12 711.56 L110.62 711.62 L112.12 711.67 L113.62 711.72 L115.12 711.77 L116.48 711.81 L117.98 710.98 L119.48 710.14 L120.98 709.3 L122.48 708.47 L123.98 707.63 L125.48 706.8 L126.98 705.97 L128.48 705.14 L129.98 704.32 L131.48 703.5 L132.98 702.68 L134.48 701.87 L135.98 701.06 L137.48 700.25 L138.98 699.45 L140.48 698.66 L141.98 697.87 L143.48 697.09 L144.98 696.31 L146.48 695.54 L147.98 694.77 L149.48 694.02 L150.98 693.26 L152.48 692.51 L153.98 691.77 L155.48 691.04 L156.98 690.31 L158.48 689.58 L159.98 688.87 L161.48 688.16 L162.98 687.45 L164.48 686.76 L165.98 686.06 L167.48 685.38 L168.98 684.7 L170.48 684.03 L171.98 683.36 L173.48 682.69 L174.98 682.03 L176.48 681.38 L177.98 680.73 L179.48 680.08 L180.98 679.44 L182.48 678.8 L183.98 678.16 L185.48 677.52 L186.98 676.89 L188.48 676.26 L189.98 675.63 L191.48 674.99 L192.98 674.36 L194.48 673.73 L195.98 673.09 L197.48 672.46 L198.98 671.82 L200.48 671.17 L201.98 670.53 L203.48 669.87 L204.98 669.22 L206.48 668.55 L207.98 667.89 L209.48 667.21 L210.98 666.53 L212.48 665.84 L213.98 665.14 L215.48 664.43 L216.98 663.72 L218.48 662.99 L219.98 662.26 L221.48 661.51 L222.98 660.75 L224.48 659.99 L225.98 659.21 L227.48 658.42 L228.98 657.62 L230.48 656.81 L231.98 655.99 L233.48 655.15 L234.98 654.31 L236.48 653.45 L237.98 652.58 L239.48 651.7 L240.98 650.81 L242.48 649.9 L243.98 648.99 L245.48 648.06 L246.98 647.12 L248.48 646.17 L249.98 645.2 L251.48 644.23 L252.98 643.24 L254.48 642.24 L255.98 641.23 L257.48 640.21 L258.98 639.18 L260.48 638.13 L261.98 637.08 L263.48 636.01 L264.98 634.93 L266.48 633.84 L267.98 632.74 L269.48 631.63 L270.98 630.51 L272.48 629.38 L273.98 628.24 L275.48 627.09 L276.98 625.94 L278.48 624.77 L279.98 623.59 L281.48 622.41 L282.98 621.21 L284.48 620.01 L285.98 618.79 L287.48 617.57 L288.98 616.34 L290.48 615.1 L291.98 613.86 L293.48 612.6 L294.98 611.33 L296.48 610.06 L297.98 608.78 L299.48 607.49 L300.98 606.19 L302.48 604.88 L303.98 603.56 L305.48 602.24 L306.98 600.9 L308.48 599.56 L309.98 598.2 L311.48 596.83 L312.98 595.46 L314.48 594.07 L315.98 592.67 L317.48 591.25 L318.98 589.83 L320.48 588.39 L321.98 586.93 L323.48 585.47 L324.98 583.98 L326.48 582.48 L327.98 580.97 L329.48 579.44 L330.98 577.89 L332.48 576.33 L333.98 574.75 L335.48 573.16 L336.98 571.55 L338.48 569.92 L339.98 568.27 L341.48 566.61 L342.98 564.93 L344.48 563.24 L345.98 561.52 L347.48 559.79 L348.98 558.04 L350.48 556.28 L351.98 554.49 L353.48 552.69 L354.98 550.87 L356.48 549.03 L357.98 547.17 L359.48 545.3 L360.98 543.4 L362.48 541.49 L363.98 539.56 L365.48 537.6 L366.98 535.63 L368.48 533.64 L369.98 531.63 L371.48 529.6 L372.98 527.55 L374.48 525.49 L375.98 523.4 L377.48 521.29 L378.98 519.16 L380.48 517.01 L381.98 514.84 L383.48 512.65 L384.98 510.45 L386.48 508.22 L387.98 505.98 L389.48 503.72 L390.98 501.44 L392.48 499.15 L393.98 496.84 L395.48 494.51 L396.98 492.17 L398.48 489.82 L399.98 487.45 L401.48 485.07 L402.98 482.68 L404.48 480.27 L405.98 477.86 L407.48 475.43 L408.98 473 L410.48 470.56 L411.98 468.12 L413.48 465.67 L414.98 463.21 L416.48 460.75 L417.98 458.29 L419.48 455.83 L419.5 455.8 L419.65 701.22 L419.48 701.22 L417.98 701.2 L416.48 701.19 L414.98 701.17 L413.48 701.16 L411.98 701.15 L410.48 701.13 L408.98 701.12 L407.48 701.1 L405.98 701.09 L404.48 701.08 L402.98 701.06 L401.48 701.05 L399.98 701.03 L398.48 701.02 L396.98 701.01 L395.48 700.99 L393.98 700.98 L392.48 700.97 L390.98 700.96 L389.48 700.94 L387.98 700.93 L386.48 700.92 L384.98 700.91 L383.48 700.89 L381.98 700.88 L380.48 700.87 L378.98 700.86 L377.48 700.85 L375.98 700.84 L374.48 700.83 L372.98 700.82 L371.48 700.81 L369.98 700.8 L368.48 700.79 L366.98 700.78 L365.48 700.77 L363.98 700.76 L362.48 700.75 L360.98 700.74 L359.48 700.73 L357.98 700.73 L356.48 700.72 L354.98 700.71 L353.48 700.71 L351.98 700.7 L350.48 700.7 L348.98 700.69 L347.48 700.69 L345.98 700.68 L344.48 700.68 L342.98 700.67 L341.48 700.67 L339.98 700.67 L338.48 700.67 L336.98 700.66 L335.48 700.66 L333.98 700.66 L332.48 700.66 L330.98 700.66 L329.48 700.66 L327.98 700.67 L326.48 700.67 L324.98 700.67 L323.48 700.67 L321.98 700.68 L320.48 700.68 L318.98 700.69 L317.48 700.69 L315.98 700.7 L314.48 700.71 L312.98 700.72 L311.48 700.72 L309.98 700.73 L308.48 700.74 L306.98 700.75 L305.48 700.77 L303.98 700.78 L302.48 700.79 L300.98 700.81 L299.48 700.82 L297.98 700.84 L296.48 700.85 L294.98 700.87 L293.48 700.89 L291.98 700.91 L290.48 700.93 L288.98 700.95 L287.48 700.97 L285.98 701 L284.48 701.02 L282.98 701.05 L281.48 701.07 L279.98 701.1 L278.48 701.13 L276.98 701.16 L275.48 701.19 L273.98 701.22 L272.48 701.25 L270.98 701.29 L269.48 701.32 L267.98 701.36 L266.48 701.4 L264.98 701.44 L263.48 701.48 L261.98 701.52 L260.48 701.56 L258.98 701.61 L257.48 701.65 L255.98 701.7 L254.48 701.74 L252.98 701.79 L251.48 701.84 L249.98 701.9 L248.48 701.95 L246.98 702 L245.48 702.06 L243.98 702.12 L242.48 702.18 L240.98 702.24 L239.48 702.3 L237.98 702.36 L236.48 702.43 L234.98 702.49 L233.48 702.56 L231.98 702.63 L230.48 702.7 L228.98 702.78 L227.48 702.85 L225.98 702.93 L224.48 703 L222.98 703.08 L221.48 703.16 L219.98 703.25 L218.48 703.33 L216.98 703.42 L215.48 703.5 L213.98 703.59 L212.48 703.68 L210.98 703.77 L209.48 703.87 L207.98 703.96 L206.48 704.06 L204.98 704.16 L203.48 704.25 L201.98 704.36 L200.48 704.46 L198.98 704.56 L197.48 704.67 L195.98 704.77 L194.48 704.88 L192.98 704.99 L191.48 705.1 L189.98 705.21 L188.48 705.33 L186.98 705.44 L185.48 705.56 L183.98 705.67 L182.48 705.79 L180.98 705.91 L179.48 706.03 L177.98 706.15 L176.48 706.28 L174.98 706.4 L173.48 706.53 L171.98 706.65 L170.48 706.78 L168.98 706.91 L167.48 707.04 L165.98 707.17 L164.48 707.3 L162.98 707.43 L161.48 707.56 L159.98 707.7 L158.48 707.83 L156.98 707.97 L155.48 708.1 L153.98 708.24 L152.48 708.38 L150.98 708.52 L149.48 708.65 L147.98 708.79 L146.48 708.93 L144.98 709.07 L143.48 709.22 L141.98 709.36 L140.48 709.5 L138.98 709.64 L137.48 709.78 L135.98 709.93 L134.48 710.07 L132.98 710.22 L131.48 710.36 L129.98 710.5 L128.48 710.65 L126.98 710.79 L125.48 710.94 L123.98 711.09 L122.48 711.23 L120.98 711.38 L119.48 711.52 L117.98 711.67 L116.48 711.81 L115.12 712.84 L113.62 713.95 L112.12 715.05 L110.62 716.14 L109.12 717.21 L107.62 718.27 L106.12 719.32 L104.62 720.35 L103.12 721.37 L101.62 722.38 L100.12 723.37 L98.62 724.34 L97.12 725.3 L95.62 726.25 L94.12 727.17 L92.62 728.09 L91.12 728.98 L89.62 729.87 L88.12 730.75 L86.62 731.62 L85.12 732.49 L83.62 733.35 L82.12 734.2 L80.62 735.03 L79.12 735.85 L77.62 736.66 L76.12 737.44 L74.62 738.21 L73.12 738.95 L71.62 739.67 L70.12 740.36 L68.62 741.03 L67.12 741.66 L65.62 742.27 L64.12 742.87 L62.62 743.45 L61.12 744.02 L59.62 744.58 L58.12 745.12 L56.62 745.65 L55.12 746.16 L53.62 746.65 L52.12 747.13 L50.62 747.58 L49.12 748.02 L47.62 748.44 L46.12 748.83 L44.62 749.21Z"/>
<line class="hl" x1="23.79" x2="441.74" y1="712.06" y2="712.06"/>
<path class="cv" d="M45.23 736.18 L46.73 735.69 L48.23 735.2 L49.73 734.72 L51.23 734.23 L52.73 733.74 L54.23 733.25 L55.73 732.77 L57.23 732.28 L58.73 731.79 L60.23 731.3 L61.73 730.81 L63.23 730.31 L64.73 729.82 L66.23 729.32 L67.73 728.83 L69.23 728.33 L70.73 727.83 L72.23 727.33 L73.73 726.83 L75.23 726.33 L76.73 725.82 L78.23 725.32 L79.73 724.81 L81.23 724.3 L82.73 723.79 L84.23 723.28 L85.73 722.77 L87.23 722.26 L88.73 721.75 L90.23 721.23 L91.73 720.71 L93.23 720.2 L94.73 719.68 L96.23 719.16 L97.73 718.64 L99.23 718.12 L100.73 717.6 L102.23 717.08 L103.73 716.56 L105.23 716.04 L106.73 715.53 L108.23 715.01 L109.73 714.49 L111.23 713.98 L112.73 713.46 L114.23 712.95 L115.73 712.44 L117.23 711.93 L118.73 711.42 L120.23 710.92 L121.73 710.42 L123.23 709.92 L124.73 709.42 L126.23 708.93 L127.73 708.44 L129.23 707.95 L130.73 707.46 L132.23 706.98 L133.73 706.5 L135.23 706.02 L136.73 705.55 L138.23 705.08 L139.73 704.61 L141.23 704.15 L142.73 703.69 L144.23 703.23 L145.73 702.78 L147.23 702.33 L148.73 701.89 L150.23 701.45 L151.73 701.01 L153.23 700.57 L154.73 700.14 L156.23 699.72 L157.73 699.29 L159.23 698.87 L160.73 698.46 L162.23 698.04 L163.73 697.63 L165.23 697.23 L166.73 696.83 L168.23 696.43 L169.73 696.03 L171.23 695.64 L172.73 695.25 L174.23 694.86 L175.73 694.48 L177.23 694.1 L178.73 693.73 L180.23 693.35 L181.73 692.99 L183.23 692.62 L184.73 692.26 L186.23 691.9 L187.73 691.54 L189.23 691.18 L190.73 690.83 L192.23 690.48 L193.73 690.14 L195.23 689.79 L196.73 689.45 L198.23 689.12 L199.73 688.78 L201.23 688.45 L202.73 688.11 L204.23 687.78 L205.73 687.46 L207.23 687.13 L208.73 686.81 L210.23 686.48 L211.73 686.16 L213.23 685.84 L214.73 685.52 L216.23 685.21 L217.73 684.89 L219.23 684.57 L220.73 684.26 L222.23 683.94 L223.73 683.63 L225.23 683.31 L226.73 682.99 L228.23 682.67 L229.73 682.35 L231.23 682.03 L232.73 681.71 L234.23 681.39 L235.73 681.06 L237.23 680.73 L238.73 680.41 L240.23 680.07 L241.73 679.74 L243.23 679.41 L244.73 679.07 L246.23 678.73 L247.73 678.39 L249.23 678.05 L250.73 677.7 L252.23 677.35 L253.73 677 L255.23 676.65 L256.73 676.3 L258.23 675.94 L259.73 675.58 L261.23 675.22 L262.73 674.85 L264.23 674.49 L265.73 674.12 L267.23 673.74 L268.73 673.37 L270.23 672.99 L271.73 672.61 L273.23 672.22 L274.73 671.84 L276.23 671.45 L277.73 671.06 L279.23 670.66 L280.73 670.27 L282.23 669.87 L283.73 669.46 L285.23 669.06 L286.73 668.65 L288.23 668.24 L289.73 667.83 L291.23 667.42 L292.73 667 L294.23 666.58 L295.73 666.16 L297.23 665.74 L298.73 665.31 L300.23 664.88 L301.73 664.46 L303.23 664.02 L304.73 663.59 L306.23 663.15 L307.73 662.72 L309.23 662.28 L310.73 661.83 L312.23 661.39 L313.73 660.94 L315.23 660.49 L316.73 660.04 L318.23 659.59 L319.73 659.14 L321.23 658.68 L322.73 658.22 L324.23 657.76 L325.73 657.3 L327.23 656.84 L328.73 656.37 L330.23 655.9 L331.73 655.43 L333.23 654.96 L334.73 654.48 L336.23 654.01 L337.73 653.53 L339.23 653.05 L340.73 652.56 L342.23 652.08 L343.73 651.59 L345.23 651.11 L346.73 650.62 L348.23 650.12 L349.73 649.63 L351.23 649.13 L352.73 648.64 L354.23 648.14 L355.73 647.63 L357.23 647.13 L358.73 646.63 L360.23 646.12 L361.73 645.61 L363.23 645.1 L364.73 644.59 L366.23 644.08 L367.73 643.56 L369.23 643.04 L370.73 642.52 L372.23 642 L373.73 641.48 L375.23 640.96 L376.73 640.43 L378.23 639.91 L379.73 639.38 L381.23 638.85 L382.73 638.32 L384.23 637.79 L385.73 637.25 L387.23 636.72 L388.73 636.18 L390.23 635.65 L391.73 635.11 L393.23 634.57 L394.73 634.03 L396.23 633.49 L397.73 632.95 L399.23 632.4 L400.73 631.86 L402.23 631.32 L403.73 630.77 L405.23 630.23 L406.73 629.68 L408.23 629.14 L409.73 628.59 L411.23 628.04 L412.73 627.5 L414.23 626.95 L415.73 626.4 L417.23 625.85 L418.73 625.31 L419.65 624.97"/>
</g>
<text class="an" transform="translate(238.39 512.07) scale(1 1.075)" style="font-size:10.8px">P for overall = 0.006</text>
<text class="an" transform="translate(238.39 523.07) scale(1 1.075)" style="font-size:10.8px">P for nonlinear = 0.314</text>
<rect class="fr" x="23.79" y="439.14" width="417.96" height="340.2"/>
<text class="tk" text-anchor="end" transform="translate(20.49 455.59) scale(1 1.075)" style="font-size:10.8px">6</text>
<text class="tk" text-anchor="end" transform="translate(20.49 559.95) scale(1 1.075)" style="font-size:10.8px">4</text>
<text class="tk" text-anchor="end" transform="translate(20.49 664.05) scale(1 1.075)" style="font-size:10.8px">2</text>
<text class="tk" text-anchor="end" transform="translate(20.49 768.41) scale(1 1.075)" style="font-size:10.8px">0</text>
<text class="tk" transform="translate(445.04 783.76) scale(1 1.075)" style="font-size:10.8px">0.00</text>
<text class="tk" transform="translate(445.04 698.71) scale(1 1.075)" style="font-size:10.8px">0.25</text>
<text class="tk" transform="translate(445.04 613.66) scale(1 1.075)" style="font-size:10.8px">0.50</text>
<text class="tk" transform="translate(445.04 528.61) scale(1 1.075)" style="font-size:10.8px">0.75</text>
<text class="tk" transform="translate(445.04 443.56) scale(1 1.075)" style="font-size:10.8px">1.00</text>
<text class="tk" text-anchor="middle" transform="translate(67.78 792.13) scale(1 1.075)" style="font-size:10.8px">12.5</text>
<text class="tk" text-anchor="middle" transform="translate(162.94 792.13) scale(1 1.075)" style="font-size:10.8px">15.0</text>
<text class="tk" text-anchor="middle" transform="translate(257.83 792.13) scale(1 1.075)" style="font-size:10.8px">17.5</text>
<text class="tk" text-anchor="middle" transform="translate(352.99 792.13) scale(1 1.075)" style="font-size:10.8px">20.0</text>
<path class="tm" d="M23.79 451.16H21.79M23.79 555.52H21.79M23.79 659.62H21.79M23.79 763.99H21.79M441.74 779.33H443.74M441.74 694.28H443.74M441.74 609.23H443.74M441.74 524.18H443.74M441.74 439.14H443.74M67.78 779.33V781.33M162.94 779.33V781.33M257.83 779.33V781.33M352.99 779.33V781.33"/>
<text class="al" text-anchor="middle" transform="translate(232.25 803.12) scale(1 1.075)" style="font-size:10.2px">rdw</text>
<text class="al" text-anchor="middle" transform="translate(11.25 609.23) rotate(-90) scale(1.075 1)" style="font-size:10.2px">HR(95%CI)</text>
<text class="al" text-anchor="middle" transform="translate(468.07 609.23) rotate(90) scale(1.075 1)" style="font-size:10.2px">Density</text>
</g>
<g class="panel">
<text class="ttl" transform="translate(505.58 434.58) scale(1 1.075)" style="font-size:9.25px">The relationship between the variable and the predicted probability</text>
<clipPath id="ca6"><rect x="505.58" y="440.16" width="418.21" height="339.69"/></clipPath>
<g clip-path="url(#ca6)">
<path class="bar" style="stroke-width:0.6" d="M524.6 764.4V689.52H527.23V764.4ZM527.23 764.4V600.17H529.85V764.4ZM529.85 764.4V527.45H532.48V764.4ZM532.48 764.4V455.23H535.11V764.4ZM535.11 764.4V469.23H537.73V764.4ZM537.73 764.4V490.3H540.36V764.4ZM540.36 764.4V506.38H542.99V764.4ZM542.99 764.4V516.13H545.62V764.4ZM545.62 764.4V551.08H548.24V764.4ZM548.24 764.4V562.41H550.87V764.4ZM550.87 764.4V567.28H553.5V764.4ZM553.5 764.4V614.42H556.12V764.4ZM556.12 764.4V626.11H558.75V764.4ZM558.75 764.4V612.11H561.38V764.4ZM561.38 764.4V616.86H564V764.4ZM564 764.4V666.38H566.63V764.4ZM566.63 764.4V652.13H569.26V764.4ZM569.26 764.4V661.75H571.88V764.4ZM571.88 764.4V659.32H574.51V764.4ZM574.51 764.4V654.45H577.14V764.4ZM577.14 764.4V649.57H579.76V764.4ZM579.76 764.4V677.34H582.39V764.4ZM582.39 764.4V698.42H585.02V764.4ZM585.02 764.4V675.15H587.65V764.4ZM587.65 764.4V691.6H590.27V764.4ZM590.27 764.4V696.22H592.9V764.4ZM592.9 764.4V719.61H595.53V764.4ZM595.53 764.4V696.22H598.15V764.4ZM598.15 764.4V710.23H600.78V764.4ZM600.78 764.4V710.23H603.41V764.4ZM603.41 764.4V714.86H606.03V764.4ZM606.03 764.4V719.61H608.66V764.4ZM608.66 764.4V717.3H611.29V764.4ZM611.29 764.4V710.23H613.91V764.4ZM613.91 764.4V712.67H616.54V764.4ZM616.54 764.4V703.29H619.17V764.4ZM619.17 764.4V710.23H621.8V764.4ZM621.8 764.4V717.3H624.42V764.4ZM624.42 764.4V724.24H627.05V764.4ZM627.05 764.4V717.3H629.68V764.4ZM629.68 764.4V717.3H632.3V764.4ZM632.3 764.4V717.3H634.93V764.4ZM634.93 764.4V707.8H637.56V764.4ZM637.56 764.4V712.67H640.18V764.4ZM640.18 764.4V719.61H642.81V764.4ZM642.81 764.4V719.61H645.44V764.4ZM645.44 764.4V714.86H648.06V764.4ZM648.06 764.4V712.67H650.69V764.4ZM650.69 764.4V719.61H653.32V764.4ZM653.32 764.4V719.61H655.94V764.4ZM655.94 764.4V726.67H658.57V764.4ZM658.57 764.4V721.8H661.2V764.4ZM661.2 764.4V719.61H663.83V764.4ZM663.83 764.4V719.61H666.45V764.4ZM666.45 764.4V726.67H669.08V764.4ZM669.08 764.4V721.8H671.71V764.4ZM671.71 764.4V724.24H674.33V764.4ZM674.33 764.4V719.61H676.96V764.4ZM676.96 764.4V726.67H679.59V764.4ZM679.59 764.4V721.8H682.21V764.4ZM682.21 764.4V721.8H684.84V764.4ZM684.84 764.4V726.67H687.47V764.4ZM687.47 764.4V724.24H690.09V764.4ZM690.09 764.4V726.67H692.72V764.4ZM692.72 764.4V719.61H695.35V764.4ZM695.35 764.4V721.8H697.98V764.4ZM697.98 764.4V724.24H700.6V764.4ZM700.6 764.4V726.67H703.23V764.4ZM703.23 764.4V719.61H705.86V764.4ZM705.86 764.4V729.11H708.48V764.4ZM708.48 764.4V726.67H711.11V764.4ZM711.11 764.4V726.67H713.74V764.4ZM713.74 764.4V729.11H716.36V764.4ZM716.36 764.4V726.67H718.99V764.4ZM718.99 764.4V726.67H721.62V764.4ZM721.62 764.4V729.11H724.24V764.4ZM724.24 764.4V726.67H726.87V764.4ZM726.87 764.4V729.11H729.5V764.4ZM729.5 764.4V729.11H732.12V764.4ZM732.12 764.4V724.24H734.75V764.4ZM734.75 764.4V724.24H737.38V764.4ZM737.38 764.4V721.8H740.01V764.4ZM740.01 764.4V727.28H742.63V764.4ZM742.63 764.4V727.28H745.26V764.4ZM745.26 764.4V727.28H747.89V764.4ZM747.89 764.4V727.28H750.51V764.4ZM750.51 764.4V724.24H753.14V764.4ZM753.14 764.4V724.24H755.77V764.4ZM755.77 764.4V729.11H758.39V764.4ZM758.39 764.4V729.11H761.02V764.4ZM761.02 764.4V729.11H763.65V764.4ZM763.65 764.4V729.11H766.27V764.4ZM766.27 764.4V724.24H768.9V764.4ZM768.9 764.4V729.11H771.53V764.4ZM771.53 764.4V726.67H774.16V764.4ZM774.16 764.4V729.11H776.78V764.4ZM776.78 764.4V729.11H779.41V764.4ZM779.41 764.4V729.11H782.04V764.4ZM782.04 764.4V729.11H784.66V764.4ZM784.66 764.4V726.67H787.29V764.4ZM787.29 764.4V726.67H789.92V764.4ZM789.92 764.4V729.11H792.54V764.4ZM792.54 764.4V726.67H795.17V764.4ZM795.17 764.4V726.67H797.8V764.4ZM797.8 764.4V729.11H800.42V764.4ZM800.42 764.4V726.67H803.05V764.4ZM803.05 764.4V729.11H805.68V764.4ZM805.68 764.4V721.8H808.3V764.4ZM808.3 764.4V729.11H810.93V764.4ZM810.93 764.4V729.11H813.56V764.4ZM813.56 764.4V729.11H816.19V764.4ZM816.19 764.4V726.67H818.81V764.4ZM818.81 764.4V729.11H821.44V764.4ZM821.44 764.4V729.11H824.07V764.4ZM824.07 764.4V729.11H826.69V764.4ZM826.69 764.4V729.11H829.32V764.4ZM829.32 764.4V729.11H831.95V764.4ZM831.95 764.4V729.11H834.57V764.4ZM834.57 764.4V729.11H837.2V764.4ZM837.2 764.4V729.11H839.83V764.4ZM839.83 764.4V726.67H842.45V764.4ZM842.45 764.4V729.11H845.08V764.4ZM845.08 764.4V726.67H847.71V764.4ZM847.71 764.4V729.11H850.34V764.4ZM850.34 764.4V729.11H852.96V764.4ZM852.96 764.4V726.67H855.59V764.4ZM855.59 764.4V729.11H858.22V764.4ZM858.22 764.4V729.11H860.84V764.4ZM860.84 764.4V729.11H863.47V764.4ZM863.47 764.4V726.67H866.1V764.4ZM866.1 764.4V729.11H868.72V764.4ZM868.72 764.4V729.11H871.35V764.4ZM871.35 764.4V726.67H873.98V764.4ZM873.98 764.4V729.11H876.6V764.4ZM876.6 764.4V729.11H879.23V764.4ZM879.23 764.4V729.11H881.86V764.4ZM881.86 764.4V726.67H884.48V764.4ZM884.48 764.4V726.67H887.11V764.4ZM887.11 764.4V729.11H889.74V764.4ZM889.74 764.4V729.11H892.37V764.4ZM892.37 764.4V729.11H894.99V764.4ZM894.99 764.4V729.11H897.62V764.4ZM897.62 764.4V726.67H900.25V764.4ZM900.25 764.4V729.11H902.87V764.4ZM902.87 764.4V689.52H905.5V764.4Z"/>
<path class="band" d="M527.66 698.42 L529.16 698.33 L530.66 698.21 L532.16 698.06 L533.66 697.88 L535.16 697.68 L536.66 697.46 L538.16 697.22 L539.66 696.97 L541.16 696.7 L542.66 696.39 L544.16 696.04 L545.66 695.64 L547.16 695.2 L548.66 694.73 L550.16 694.25 L550.8 694.03 L552.3 691.71 L553.8 689.39 L555.3 687.07 L556.8 684.74 L558.3 682.42 L559.8 680.09 L561.3 677.76 L562.8 675.43 L564.3 673.1 L565.8 670.78 L567.3 668.48 L568.8 666.19 L570.3 663.94 L571.8 661.71 L573.3 659.53 L574.8 657.39 L576.3 655.3 L577.8 653.28 L579.3 651.33 L580.8 649.45 L582.3 647.65 L583.8 645.94 L585.3 644.31 L586.8 642.78 L588.3 641.34 L589.8 639.99 L591.3 638.74 L592.8 637.59 L594.3 636.53 L595.8 635.56 L597.3 634.67 L598.8 633.87 L600.3 633.15 L601.8 632.5 L603.3 631.92 L604.8 631.4 L606.3 630.95 L607.8 630.54 L609.3 630.19 L610.8 629.88 L612.3 629.61 L613.8 629.37 L615.3 629.16 L616.8 628.97 L618.3 628.81 L619.8 628.66 L621.3 628.52 L622.8 628.39 L624.3 628.26 L625.8 628.14 L627.3 628.01 L628.8 627.89 L630.3 627.75 L631.8 627.61 L633.3 627.45 L634.8 627.29 L636.3 627.1 L637.8 626.91 L639.3 626.7 L640.8 626.47 L642.3 626.23 L643.8 625.96 L645.3 625.68 L646.8 625.39 L648.3 625.07 L649.8 624.74 L651.3 624.39 L652.8 624.03 L654.3 623.65 L655.8 623.26 L657.3 622.85 L658.8 622.43 L660.3 622 L661.8 621.56 L663.3 621.1 L664.8 620.63 L666.3 620.15 L667.8 619.67 L669.3 619.17 L670.8 618.66 L672.3 618.14 L673.8 617.62 L675.3 617.09 L676.8 616.55 L678.3 616 L679.8 615.45 L681.3 614.89 L682.8 614.32 L684.3 613.75 L685.8 613.18 L687.3 612.6 L688.8 612.02 L690.3 611.44 L691.8 610.86 L693.3 610.28 L694.8 609.7 L696.3 609.11 L697.8 608.53 L699.3 607.95 L700.8 607.37 L702.3 606.79 L703.8 606.2 L705.3 605.62 L706.8 605.03 L708.3 604.44 L709.8 603.85 L711.3 603.25 L712.8 602.65 L714.3 602.03 L715.8 601.4 L717.3 600.76 L718.8 600.1 L720.3 599.43 L721.8 598.74 L723.3 598.03 L724.8 597.31 L726.3 596.57 L727.8 595.81 L729.3 595.04 L730.8 594.26 L732.3 593.46 L733.8 592.65 L735.3 591.82 L736.8 590.99 L738.3 590.14 L739.8 589.28 L741.3 588.41 L742.8 587.53 L744.3 586.64 L745.8 585.74 L747.3 584.83 L748.8 583.92 L750.3 583 L751.8 582.07 L753.3 581.13 L754.8 580.19 L756.3 579.25 L757.8 578.3 L759.3 577.34 L760.8 576.39 L762.3 575.43 L763.8 574.46 L765.3 573.5 L766.8 572.53 L768.3 571.57 L769.8 570.6 L771.3 569.62 L772.8 568.65 L774.3 567.67 L775.8 566.69 L777.3 565.7 L778.8 564.71 L780.3 563.72 L781.8 562.72 L783.3 561.72 L784.8 560.71 L786.3 559.7 L787.8 558.68 L789.3 557.66 L790.8 556.63 L792.3 555.6 L793.8 554.56 L795.3 553.52 L796.8 552.46 L798.3 551.41 L799.8 550.34 L801.3 549.27 L802.8 548.19 L804.3 547.1 L805.8 546.01 L807.3 544.9 L808.8 543.79 L810.3 542.67 L811.8 541.55 L813.3 540.41 L814.8 539.26 L816.3 538.11 L817.8 536.95 L819.3 535.78 L820.8 534.6 L822.3 533.4 L823.8 532.2 L825.3 530.99 L826.8 529.77 L828.3 528.54 L829.8 527.3 L831.3 526.05 L832.8 524.79 L834.3 523.52 L835.8 522.24 L837.3 520.95 L838.8 519.66 L840.3 518.35 L841.8 517.04 L843.3 515.72 L844.8 514.4 L846.3 513.07 L847.8 511.73 L849.3 510.39 L850.8 509.04 L852.3 507.68 L853.8 506.32 L855.3 504.95 L856.8 503.58 L858.3 502.21 L859.8 500.83 L861.3 499.44 L862.8 498.05 L864.3 496.66 L865.8 495.26 L867.3 493.85 L868.8 492.44 L870.3 491.02 L871.8 489.59 L873.3 488.15 L874.8 486.71 L876.3 485.26 L877.8 483.8 L879.3 482.33 L880.8 480.85 L882.3 479.36 L883.8 477.86 L885.3 476.35 L886.8 474.83 L888.3 473.3 L889.8 471.76 L891.3 470.21 L892.8 468.66 L894.3 467.1 L895.8 465.54 L897.3 463.97 L898.8 462.4 L900.3 460.82 L901.8 459.24 L903.3 457.67 L904.6 456.3 L904.03 703.53 L903.3 703.45 L901.8 703.29 L900.3 703.13 L898.8 702.96 L897.3 702.8 L895.8 702.63 L894.3 702.47 L892.8 702.31 L891.3 702.14 L889.8 701.98 L888.3 701.81 L886.8 701.65 L885.3 701.49 L883.8 701.32 L882.3 701.16 L880.8 701 L879.3 700.83 L877.8 700.67 L876.3 700.51 L874.8 700.34 L873.3 700.18 L871.8 700.01 L870.3 699.85 L868.8 699.69 L867.3 699.52 L865.8 699.36 L864.3 699.2 L862.8 699.04 L861.3 698.87 L859.8 698.71 L858.3 698.55 L856.8 698.38 L855.3 698.22 L853.8 698.06 L852.3 697.89 L850.8 697.73 L849.3 697.57 L847.8 697.41 L846.3 697.24 L844.8 697.08 L843.3 696.92 L841.8 696.76 L840.3 696.6 L838.8 696.43 L837.3 696.27 L835.8 696.11 L834.3 695.95 L832.8 695.79 L831.3 695.63 L829.8 695.47 L828.3 695.31 L826.8 695.15 L825.3 694.99 L823.8 694.83 L822.3 694.67 L820.8 694.51 L819.3 694.35 L817.8 694.19 L816.3 694.03 L814.8 693.87 L813.3 693.71 L811.8 693.55 L810.3 693.39 L808.8 693.24 L807.3 693.08 L805.8 692.92 L804.3 692.77 L802.8 692.61 L801.3 692.45 L799.8 692.3 L798.3 692.14 L796.8 691.99 L795.3 691.83 L793.8 691.68 L792.3 691.52 L790.8 691.37 L789.3 691.22 L787.8 691.06 L786.3 690.91 L784.8 690.76 L783.3 690.61 L781.8 690.46 L780.3 690.31 L778.8 690.16 L777.3 690.01 L775.8 689.86 L774.3 689.72 L772.8 689.57 L771.3 689.42 L769.8 689.28 L768.3 689.13 L766.8 688.99 L765.3 688.85 L763.8 688.71 L762.3 688.56 L760.8 688.42 L759.3 688.28 L757.8 688.14 L756.3 688 L754.8 687.87 L753.3 687.73 L751.8 687.59 L750.3 687.46 L748.8 687.33 L747.3 687.19 L745.8 687.06 L744.3 686.93 L742.8 686.8 L741.3 686.67 L739.8 686.55 L738.3 686.42 L736.8 686.3 L735.3 686.17 L733.8 686.05 L732.3 685.93 L730.8 685.81 L729.3 685.69 L727.8 685.58 L726.3 685.46 L724.8 685.35 L723.3 685.24 L721.8 685.13 L720.3 685.02 L718.8 684.91 L717.3 684.81 L715.8 684.7 L714.3 684.6 L712.8 684.5 L711.3 684.4 L709.8 684.31 L708.3 684.21 L706.8 684.12 L705.3 684.03 L703.8 683.94 L702.3 683.85 L700.8 683.77 L699.3 683.69 L697.8 683.61 L696.3 683.53 L694.8 683.45 L693.3 683.38 L691.8 683.31 L690.3 683.24 L688.8 683.18 L687.3 683.12 L685.8 683.06 L684.3 683.01 L682.8 682.95 L681.3 682.9 L679.8 682.86 L678.3 682.82 L676.8 682.78 L675.3 682.74 L673.8 682.71 L672.3 682.68 L670.8 682.66 L669.3 682.64 L667.8 682.62 L666.3 682.61 L664.8 682.6 L663.3 682.59 L661.8 682.59 L660.3 682.59 L658.8 682.6 L657.3 682.61 L655.8 682.63 L654.3 682.65 L652.8 682.68 L651.3 682.71 L649.8 682.74 L648.3 682.78 L646.8 682.83 L645.3 682.87 L643.8 682.93 L642.3 682.99 L640.8 683.05 L639.3 683.12 L637.8 683.19 L636.3 683.27 L634.8 683.35 L633.3 683.44 L631.8 683.53 L630.3 683.63 L628.8 683.73 L627.3 683.84 L625.8 683.95 L624.3 684.07 L622.8 684.2 L621.3 684.32 L619.8 684.46 L618.3 684.59 L616.8 684.74 L615.3 684.89 L613.8 685.04 L612.3 685.2 L610.8 685.36 L609.3 685.52 L607.8 685.7 L606.3 685.87 L604.8 686.05 L603.3 686.24 L601.8 686.43 L600.3 686.62 L598.8 686.82 L597.3 687.02 L595.8 687.23 L594.3 687.44 L592.8 687.65 L591.3 687.87 L589.8 688.09 L588.3 688.32 L586.8 688.55 L585.3 688.78 L583.8 689.01 L582.3 689.25 L580.8 689.49 L579.3 689.74 L577.8 689.99 L576.3 690.23 L574.8 690.49 L573.3 690.74 L571.8 691 L570.3 691.26 L568.8 691.52 L567.3 691.78 L565.8 692.05 L564.3 692.31 L562.8 692.58 L561.3 692.85 L559.8 693.12 L558.3 693.39 L556.8 693.67 L555.3 693.94 L553.8 694.21 L552.3 694.49 L550.8 694.76 L550.16 695.69 L548.66 697.84 L547.16 700 L545.66 702.15 L544.16 704.3 L542.66 706.45 L541.16 708.6 L539.66 710.75 L538.16 712.9 L536.66 715.05 L535.16 717.19 L533.66 719.33 L532.16 721.47 L530.66 723.62 L529.16 725.75 L527.66 727.89Z"/>
<line class="hl" x1="505.58" x2="923.79" y1="694.67" y2="694.67"/>
<path class="cv" d="M527.66 716.32 L529.16 714.85 L530.66 713.38 L532.16 711.92 L533.66 710.45 L535.16 708.99 L536.66 707.54 L538.16 706.1 L539.66 704.66 L541.16 703.23 L542.66 701.81 L544.16 700.4 L545.66 699.01 L547.16 697.63 L548.66 696.26 L550.16 694.91 L551.66 693.57 L553.16 692.25 L554.66 690.95 L556.16 689.66 L557.66 688.4 L559.16 687.16 L560.66 685.94 L562.16 684.74 L563.66 683.57 L565.16 682.42 L566.66 681.3 L568.16 680.21 L569.66 679.14 L571.16 678.1 L572.66 677.09 L574.16 676.11 L575.66 675.16 L577.16 674.24 L578.66 673.35 L580.16 672.49 L581.66 671.66 L583.16 670.86 L584.66 670.09 L586.16 669.36 L587.66 668.65 L589.16 667.98 L590.66 667.33 L592.16 666.71 L593.66 666.12 L595.16 665.56 L596.66 665.03 L598.16 664.52 L599.66 664.04 L601.16 663.59 L602.66 663.15 L604.16 662.75 L605.66 662.36 L607.16 661.99 L608.66 661.65 L610.16 661.32 L611.66 661.01 L613.16 660.72 L614.66 660.44 L616.16 660.18 L617.66 659.93 L619.16 659.7 L620.66 659.47 L622.16 659.26 L623.66 659.05 L625.16 658.86 L626.66 658.67 L628.16 658.49 L629.66 658.32 L631.16 658.15 L632.66 657.98 L634.16 657.82 L635.66 657.67 L637.16 657.52 L638.66 657.37 L640.16 657.22 L641.66 657.08 L643.16 656.94 L644.66 656.8 L646.16 656.67 L647.66 656.53 L649.16 656.4 L650.66 656.27 L652.16 656.14 L653.66 656 L655.16 655.87 L656.66 655.74 L658.16 655.61 L659.66 655.47 L661.16 655.34 L662.66 655.2 L664.16 655.07 L665.66 654.93 L667.16 654.79 L668.66 654.66 L670.16 654.52 L671.66 654.38 L673.16 654.24 L674.66 654.1 L676.16 653.96 L677.66 653.82 L679.16 653.68 L680.66 653.54 L682.16 653.4 L683.66 653.26 L685.16 653.11 L686.66 652.97 L688.16 652.83 L689.66 652.68 L691.16 652.54 L692.66 652.4 L694.16 652.25 L695.66 652.11 L697.16 651.96 L698.66 651.82 L700.16 651.67 L701.66 651.53 L703.16 651.39 L704.66 651.24 L706.16 651.1 L707.66 650.95 L709.16 650.81 L710.66 650.67 L712.16 650.52 L713.66 650.38 L715.16 650.23 L716.66 650.09 L718.16 649.94 L719.66 649.8 L721.16 649.65 L722.66 649.5 L724.16 649.36 L725.66 649.21 L727.16 649.06 L728.66 648.91 L730.16 648.76 L731.66 648.6 L733.16 648.45 L734.66 648.29 L736.16 648.14 L737.66 647.98 L739.16 647.82 L740.66 647.66 L742.16 647.5 L743.66 647.34 L745.16 647.18 L746.66 647.01 L748.16 646.84 L749.66 646.68 L751.16 646.51 L752.66 646.34 L754.16 646.17 L755.66 646 L757.16 645.83 L758.66 645.66 L760.16 645.48 L761.66 645.31 L763.16 645.13 L764.66 644.96 L766.16 644.78 L767.66 644.6 L769.16 644.42 L770.66 644.24 L772.16 644.06 L773.66 643.88 L775.16 643.7 L776.66 643.52 L778.16 643.33 L779.66 643.15 L781.16 642.97 L782.66 642.78 L784.16 642.6 L785.66 642.41 L787.16 642.22 L788.66 642.04 L790.16 641.85 L791.66 641.66 L793.16 641.47 L794.66 641.29 L796.16 641.1 L797.66 640.91 L799.16 640.72 L800.66 640.53 L802.16 640.34 L803.66 640.15 L805.16 639.96 L806.66 639.77 L808.16 639.58 L809.66 639.39 L811.16 639.2 L812.66 639.01 L814.16 638.82 L815.66 638.63 L817.16 638.44 L818.66 638.25 L820.16 638.06 L821.66 637.87 L823.16 637.68 L824.66 637.49 L826.16 637.3 L827.66 637.11 L829.16 636.92 L830.66 636.74 L832.16 636.55 L833.66 636.36 L835.16 636.17 L836.66 635.98 L838.16 635.8 L839.66 635.61 L841.16 635.42 L842.66 635.24 L844.16 635.05 L845.66 634.86 L847.16 634.68 L848.66 634.49 L850.16 634.31 L851.66 634.12 L853.16 633.94 L854.66 633.76 L856.16 633.57 L857.66 633.39 L859.16 633.2 L860.66 633.02 L862.16 632.84 L863.66 632.65 L865.16 632.47 L866.66 632.29 L868.16 632.11 L869.66 631.92 L871.16 631.74 L872.66 631.56 L874.16 631.38 L875.66 631.19 L877.16 631.01 L878.66 630.83 L880.16 630.65 L881.66 630.47 L883.16 630.29 L884.66 630.11 L886.16 629.92 L887.66 629.74 L889.16 629.56 L890.66 629.38 L892.16 629.2 L893.66 629.02 L895.16 628.84 L896.66 628.66 L898.16 628.48 L899.66 628.3 L901.16 628.12 L902.66 627.94 L904.03 627.77"/>
</g>
<text class="an" transform="translate(785.92 493.39) scale(1 1.075)" style="font-size:10.8px">P for overall = 0.008</text>
<text class="an" transform="translate(785.92 504.39) scale(1 1.075)" style="font-size:10.8px">P for nonlinear = 0.051</text>
<rect class="fr" x="505.58" y="440.16" width="418.21" height="339.69"/>
<text class="tk" text-anchor="end" transform="translate(502.28 489.09) scale(1 1.075)" style="font-size:10.8px">4</text>
<text class="tk" text-anchor="end" transform="translate(502.28 559.18) scale(1 1.075)" style="font-size:10.8px">3</text>
<text class="tk" text-anchor="end" transform="translate(502.28 629.01) scale(1 1.075)" style="font-size:10.8px">2</text>
<text class="tk" text-anchor="end" transform="translate(502.28 699.09) scale(1 1.075)" style="font-size:10.8px">1</text>
<text class="tk" text-anchor="end" transform="translate(502.28 768.92) scale(1 1.075)" style="font-size:10.8px">0</text>
<text class="tk" transform="translate(927.09 784.27) scale(1 1.075)" style="font-size:10.8px">0.00</text>
<text class="tk" transform="translate(927.09 699.35) scale(1 1.075)" style="font-size:10.8px">0.25</text>
<text class="tk" transform="translate(927.09 614.43) scale(1 1.075)" style="font-size:10.8px">0.50</text>
<text class="tk" transform="translate(927.09 529.51) scale(1 1.075)" style="font-size:10.8px">0.75</text>
<text class="tk" transform="translate(927.09 444.59) scale(1 1.075)" style="font-size:10.8px">1.00</text>
<text class="tk" text-anchor="middle" transform="translate(523.48 792.64) scale(1 1.075)" style="font-size:10.8px">0</text>
<text class="tk" text-anchor="middle" transform="translate(654.7 792.64) scale(1 1.075)" style="font-size:10.8px">5000</text>
<text class="tk" text-anchor="middle" transform="translate(785.92 792.64) scale(1 1.075)" style="font-size:10.8px">10000</text>
<text class="tk" text-anchor="middle" transform="translate(916.88 792.64) scale(1 1.075)" style="font-size:10.8px">15000</text>
<path class="tm" d="M505.58 484.67H503.58M505.58 554.75H503.58M505.58 624.58H503.58M505.58 694.67H503.58M505.58 764.5H503.58M923.79 779.84H925.79M923.79 694.92H925.79M923.79 610H925.79M923.79 525.08H925.79M923.79 440.16H925.79M523.48 779.84V781.84M654.7 779.84V781.84M785.92 779.84V781.84M916.88 779.84V781.84"/>
<text class="al" text-anchor="middle" transform="translate(714.56 803.12) scale(1 1.075)" style="font-size:10.2px">SII</text>
<text class="al" text-anchor="middle" transform="translate(493.3 609.75) rotate(-90) scale(1.075 1)" style="font-size:10.2px">HR(95%CI)</text>
<text class="al" text-anchor="middle" transform="translate(949.6 609.75) rotate(90) scale(1.075 1)" style="font-size:10.2px">Density</text>
</g>
<g class="panel">
<text class="ttl" transform="translate(987.37 434.58) scale(1 1.075)" style="font-size:9.25px">The relationship between the variable and the predicted probability</text>
<clipPath id="ca7"><rect x="987.37" y="440.16" width="418.98" height="340.96"/></clipPath>
<g clip-path="url(#ca7)">
<path class="bar" style="stroke-width:0.6" d="M1006.3 766.03V688.27H1014.59V766.03ZM1014.59 766.03V482.62H1022.88V766.03ZM1022.88 766.03V455.51H1031.17V766.03ZM1031.17 766.03V566.26H1039.46V766.03ZM1039.46 766.03V629.7H1047.75V766.03ZM1047.75 766.03V650.67H1056.04V766.03ZM1056.04 766.03V672.41H1064.33V766.03ZM1064.33 766.03V684.69H1072.62V766.03ZM1072.62 766.03V681.88H1080.92V766.03ZM1080.92 766.03V697.48H1089.21V766.03ZM1089.21 766.03V711.55H1097.5V766.03ZM1097.5 766.03V700.55H1105.79V766.03ZM1105.79 766.03V715.39H1114.08V766.03ZM1114.08 766.03V718.97H1122.37V766.03ZM1122.37 766.03V720.5H1130.66V766.03ZM1130.66 766.03V721.78H1138.95V766.03ZM1138.95 766.03V717.69H1147.24V766.03ZM1147.24 766.03V718.97H1155.53V766.03ZM1155.53 766.03V722.04H1163.82V766.03ZM1163.82 766.03V723.06H1172.11V766.03ZM1172.11 766.03V724.59H1180.41V766.03ZM1180.41 766.03V723.83H1188.7V766.03ZM1188.7 766.03V718.46H1196.99V766.03ZM1196.99 766.03V720.76H1205.28V766.03ZM1205.28 766.03V723.06H1213.57V766.03ZM1213.57 766.03V725.62H1221.86V766.03ZM1221.86 766.03V725.62H1230.15V766.03ZM1230.15 766.03V727.66H1238.44V766.03ZM1238.44 766.03V723.83H1246.73V766.03ZM1246.73 766.03V724.59H1255.02V766.03ZM1255.02 766.03V725.62H1263.31V766.03ZM1263.31 766.03V726.64H1271.6V766.03ZM1271.6 766.03V726.13H1279.9V766.03ZM1279.9 766.03V726.64H1288.19V766.03ZM1288.19 766.03V726.13H1296.48V766.03ZM1296.48 766.03V725.62H1304.77V766.03ZM1304.77 766.03V725.62H1313.06V766.03ZM1313.06 766.03V725.62H1321.35V766.03ZM1321.35 766.03V725.62H1329.64V766.03ZM1329.64 766.03V726.13H1337.93V766.03ZM1337.93 766.03V726.64H1346.22V766.03ZM1346.22 766.03V726.64H1354.51V766.03ZM1354.51 766.03V726.64H1362.8V766.03ZM1362.8 766.03V727.41H1371.09V766.03ZM1371.09 766.03V727.41H1379.39V766.03ZM1379.39 766.03V713.6H1387.68V766.03Z"/>
<path class="band" d="M1013.72 702.34 L1015.22 702.09 L1016.72 701.78 L1018.22 701.44 L1019.72 701.05 L1021.22 700.62 L1022.72 700.17 L1024.22 699.7 L1025.72 699.17 L1027.22 698.58 L1028.72 697.93 L1030.22 697.23 L1031.72 696.49 L1033.22 695.7 L1034.18 695.18 L1035.68 692.62 L1037.18 690.07 L1038.68 687.52 L1040.18 684.97 L1041.68 682.44 L1043.18 679.91 L1044.68 677.39 L1046.18 674.88 L1047.68 672.39 L1049.18 669.93 L1050.68 667.51 L1052.18 665.14 L1053.68 662.82 L1055.18 660.56 L1056.68 658.37 L1058.18 656.25 L1059.68 654.21 L1061.18 652.26 L1062.68 650.39 L1064.18 648.62 L1065.68 646.96 L1067.18 645.39 L1068.68 643.92 L1070.18 642.55 L1071.68 641.28 L1073.18 640.1 L1074.68 639.02 L1076.18 638.03 L1077.68 637.13 L1079.18 636.31 L1080.68 635.56 L1082.18 634.88 L1083.68 634.25 L1085.18 633.68 L1086.68 633.16 L1088.18 632.67 L1089.68 632.23 L1091.18 631.82 L1092.68 631.45 L1094.18 631.1 L1095.68 630.78 L1097.18 630.48 L1098.68 630.21 L1100.18 629.94 L1101.68 629.7 L1103.18 629.46 L1104.68 629.23 L1106.18 629 L1107.68 628.78 L1109.18 628.55 L1110.68 628.31 L1112.18 628.07 L1113.68 627.82 L1115.18 627.56 L1116.68 627.3 L1118.18 627.03 L1119.68 626.75 L1121.18 626.46 L1122.68 626.17 L1124.18 625.87 L1125.68 625.56 L1127.18 625.25 L1128.68 624.93 L1130.18 624.61 L1131.68 624.27 L1133.18 623.94 L1134.68 623.59 L1136.18 623.24 L1137.68 622.88 L1139.18 622.52 L1140.68 622.15 L1142.18 621.78 L1143.68 621.39 L1145.18 621.01 L1146.68 620.61 L1148.18 620.21 L1149.68 619.8 L1151.18 619.38 L1152.68 618.96 L1154.18 618.53 L1155.68 618.1 L1157.18 617.65 L1158.68 617.2 L1160.18 616.74 L1161.68 616.27 L1163.18 615.8 L1164.68 615.32 L1166.18 614.83 L1167.68 614.33 L1169.18 613.83 L1170.68 613.32 L1172.18 612.8 L1173.68 612.28 L1175.18 611.74 L1176.68 611.2 L1178.18 610.65 L1179.68 610.1 L1181.18 609.53 L1182.68 608.96 L1184.18 608.39 L1185.68 607.8 L1187.18 607.21 L1188.68 606.61 L1190.18 606 L1191.68 605.39 L1193.18 604.76 L1194.68 604.13 L1196.18 603.49 L1197.68 602.84 L1199.18 602.18 L1200.68 601.51 L1202.18 600.84 L1203.68 600.15 L1205.18 599.46 L1206.68 598.75 L1208.18 598.04 L1209.68 597.32 L1211.18 596.58 L1212.68 595.84 L1214.18 595.08 L1215.68 594.32 L1217.18 593.55 L1218.68 592.76 L1220.18 591.97 L1221.68 591.16 L1223.18 590.35 L1224.68 589.52 L1226.18 588.68 L1227.68 587.84 L1229.18 586.98 L1230.68 586.11 L1232.18 585.24 L1233.68 584.35 L1235.18 583.45 L1236.68 582.54 L1238.18 581.62 L1239.68 580.7 L1241.18 579.77 L1242.68 578.84 L1244.18 577.91 L1245.68 576.97 L1247.18 576.04 L1248.68 575.11 L1250.18 574.18 L1251.68 573.24 L1253.18 572.3 L1254.68 571.37 L1256.18 570.43 L1257.68 569.48 L1259.18 568.53 L1260.68 567.58 L1262.18 566.62 L1263.68 565.66 L1265.18 564.69 L1266.68 563.71 L1268.18 562.72 L1269.68 561.73 L1271.18 560.73 L1272.68 559.72 L1274.18 558.7 L1275.68 557.67 L1277.18 556.63 L1278.68 555.57 L1280.18 554.51 L1281.68 553.43 L1283.18 552.35 L1284.68 551.25 L1286.18 550.14 L1287.68 549.03 L1289.18 547.9 L1290.68 546.76 L1292.18 545.61 L1293.68 544.45 L1295.18 543.28 L1296.68 542.1 L1298.18 540.91 L1299.68 539.71 L1301.18 538.5 L1302.68 537.28 L1304.18 536.05 L1305.68 534.81 L1307.18 533.56 L1308.68 532.3 L1310.18 531.03 L1311.68 529.75 L1313.18 528.46 L1314.68 527.17 L1316.18 525.86 L1317.68 524.54 L1319.18 523.22 L1320.68 521.89 L1322.18 520.55 L1323.68 519.19 L1325.18 517.84 L1326.68 516.47 L1328.18 515.09 L1329.68 513.71 L1331.18 512.31 L1332.68 510.91 L1334.18 509.5 L1335.68 508.09 L1337.18 506.66 L1338.68 505.23 L1340.18 503.79 L1341.68 502.34 L1343.18 500.88 L1344.68 499.42 L1346.18 497.94 L1347.68 496.46 L1349.18 494.98 L1350.68 493.48 L1352.18 491.98 L1353.68 490.46 L1355.18 488.94 L1356.68 487.41 L1358.18 485.88 L1359.68 484.33 L1361.18 482.78 L1362.68 481.22 L1364.18 479.65 L1365.68 478.07 L1367.18 476.49 L1368.68 474.89 L1370.18 473.29 L1371.68 471.69 L1373.18 470.07 L1374.68 468.46 L1376.18 466.83 L1377.68 465.21 L1379.18 463.58 L1380.68 461.95 L1382.18 460.32 L1383.68 458.68 L1385.18 457.04 L1385.89 456.27 L1385.89 692.36 L1385.18 692.32 L1383.68 692.22 L1382.18 692.13 L1380.68 692.03 L1379.18 691.93 L1377.68 691.84 L1376.18 691.74 L1374.68 691.65 L1373.18 691.55 L1371.68 691.45 L1370.18 691.36 L1368.68 691.26 L1367.18 691.16 L1365.68 691.07 L1364.18 690.97 L1362.68 690.87 L1361.18 690.78 L1359.68 690.68 L1358.18 690.58 L1356.68 690.49 L1355.18 690.39 L1353.68 690.29 L1352.18 690.2 L1350.68 690.1 L1349.18 690 L1347.68 689.9 L1346.18 689.81 L1344.68 689.71 L1343.18 689.61 L1341.68 689.52 L1340.18 689.42 L1338.68 689.32 L1337.18 689.22 L1335.68 689.13 L1334.18 689.03 L1332.68 688.93 L1331.18 688.83 L1329.68 688.73 L1328.18 688.64 L1326.68 688.54 L1325.18 688.44 L1323.68 688.34 L1322.18 688.25 L1320.68 688.15 L1319.18 688.05 L1317.68 687.95 L1316.18 687.86 L1314.68 687.76 L1313.18 687.66 L1311.68 687.57 L1310.18 687.47 L1308.68 687.37 L1307.18 687.28 L1305.68 687.18 L1304.18 687.09 L1302.68 686.99 L1301.18 686.89 L1299.68 686.8 L1298.18 686.7 L1296.68 686.61 L1295.18 686.52 L1293.68 686.42 L1292.18 686.33 L1290.68 686.24 L1289.18 686.15 L1287.68 686.05 L1286.18 685.96 L1284.68 685.87 L1283.18 685.78 L1281.68 685.69 L1280.18 685.6 L1278.68 685.52 L1277.18 685.43 L1275.68 685.34 L1274.18 685.26 L1272.68 685.17 L1271.18 685.09 L1269.68 685 L1268.18 684.92 L1266.68 684.84 L1265.18 684.76 L1263.68 684.68 L1262.18 684.6 L1260.68 684.53 L1259.18 684.45 L1257.68 684.38 L1256.18 684.3 L1254.68 684.23 L1253.18 684.16 L1251.68 684.09 L1250.18 684.02 L1248.68 683.95 L1247.18 683.89 L1245.68 683.82 L1244.18 683.76 L1242.68 683.7 L1241.18 683.64 L1239.68 683.58 L1238.18 683.53 L1236.68 683.47 L1235.18 683.42 L1233.68 683.37 L1232.18 683.32 L1230.68 683.27 L1229.18 683.22 L1227.68 683.18 L1226.18 683.14 L1224.68 683.1 L1223.18 683.06 L1221.68 683.02 L1220.18 682.99 L1218.68 682.96 L1217.18 682.93 L1215.68 682.9 L1214.18 682.87 L1212.68 682.85 L1211.18 682.83 L1209.68 682.81 L1208.18 682.79 L1206.68 682.78 L1205.18 682.76 L1203.68 682.75 L1202.18 682.75 L1200.68 682.74 L1199.18 682.74 L1197.68 682.74 L1196.18 682.74 L1194.68 682.74 L1193.18 682.75 L1191.68 682.76 L1190.18 682.77 L1188.68 682.78 L1187.18 682.8 L1185.68 682.82 L1184.18 682.84 L1182.68 682.87 L1181.18 682.89 L1179.68 682.92 L1178.18 682.95 L1176.68 682.99 L1175.18 683.03 L1173.68 683.07 L1172.18 683.11 L1170.68 683.15 L1169.18 683.2 L1167.68 683.25 L1166.18 683.3 L1164.68 683.36 L1163.18 683.42 L1161.68 683.48 L1160.18 683.54 L1158.68 683.61 L1157.18 683.68 L1155.68 683.75 L1154.18 683.83 L1152.68 683.9 L1151.18 683.98 L1149.68 684.07 L1148.18 684.15 L1146.68 684.24 L1145.18 684.33 L1143.68 684.42 L1142.18 684.52 L1140.68 684.62 L1139.18 684.72 L1137.68 684.82 L1136.18 684.93 L1134.68 685.04 L1133.18 685.15 L1131.68 685.26 L1130.18 685.38 L1128.68 685.5 L1127.18 685.62 L1125.68 685.75 L1124.18 685.87 L1122.68 686 L1121.18 686.14 L1119.68 686.27 L1118.18 686.41 L1116.68 686.55 L1115.18 686.69 L1113.68 686.83 L1112.18 686.98 L1110.68 687.13 L1109.18 687.28 L1107.68 687.44 L1106.18 687.59 L1104.68 687.75 L1103.18 687.91 L1101.68 688.08 L1100.18 688.24 L1098.68 688.41 L1097.18 688.58 L1095.68 688.75 L1094.18 688.93 L1092.68 689.1 L1091.18 689.28 L1089.68 689.46 L1088.18 689.65 L1086.68 689.83 L1085.18 690.02 L1083.68 690.21 L1082.18 690.4 L1080.68 690.59 L1079.18 690.78 L1077.68 690.98 L1076.18 691.18 L1074.68 691.38 L1073.18 691.58 L1071.68 691.78 L1070.18 691.98 L1068.68 692.19 L1067.18 692.4 L1065.68 692.61 L1064.18 692.82 L1062.68 693.03 L1061.18 693.24 L1059.68 693.45 L1058.18 693.67 L1056.68 693.89 L1055.18 694.1 L1053.68 694.32 L1052.18 694.54 L1050.68 694.76 L1049.18 694.98 L1047.68 695.2 L1046.18 695.43 L1044.68 695.65 L1043.18 695.87 L1041.68 696.1 L1040.18 696.32 L1038.68 696.55 L1037.18 696.77 L1035.68 697 L1034.18 697.22 L1033.22 698.65 L1031.72 700.87 L1030.22 703.06 L1028.72 705.24 L1027.22 707.41 L1025.72 709.55 L1024.22 711.68 L1022.72 713.79 L1021.22 715.89 L1019.72 717.97 L1018.22 720.03 L1016.72 722.08 L1015.22 724.11 L1013.72 726.13Z"/>
<line class="hl" x1="987.37" x2="1406.35" y1="696.2" y2="696.2"/>
<path class="cv" d="M1013.72 713.34 L1015.22 712.03 L1016.72 710.71 L1018.22 709.4 L1019.72 708.1 L1021.22 706.79 L1022.72 705.49 L1024.22 704.19 L1025.72 702.89 L1027.22 701.6 L1028.72 700.32 L1030.22 699.05 L1031.72 697.78 L1033.22 696.53 L1034.72 695.29 L1036.22 694.05 L1037.72 692.83 L1039.22 691.63 L1040.72 690.44 L1042.22 689.28 L1043.72 688.13 L1045.22 687 L1046.72 685.89 L1048.22 684.8 L1049.72 683.74 L1051.22 682.71 L1052.72 681.7 L1054.22 680.72 L1055.72 679.76 L1057.22 678.83 L1058.72 677.93 L1060.22 677.06 L1061.72 676.22 L1063.22 675.41 L1064.72 674.62 L1066.22 673.87 L1067.72 673.14 L1069.22 672.44 L1070.72 671.77 L1072.22 671.13 L1073.72 670.51 L1075.22 669.92 L1076.72 669.36 L1078.22 668.82 L1079.72 668.3 L1081.22 667.8 L1082.72 667.33 L1084.22 666.88 L1085.72 666.45 L1087.22 666.04 L1088.72 665.64 L1090.22 665.27 L1091.72 664.9 L1093.22 664.56 L1094.72 664.23 L1096.22 663.91 L1097.72 663.6 L1099.22 663.31 L1100.72 663.02 L1102.22 662.75 L1103.72 662.48 L1105.22 662.23 L1106.72 661.98 L1108.22 661.74 L1109.72 661.5 L1111.22 661.27 L1112.72 661.04 L1114.22 660.82 L1115.72 660.6 L1117.22 660.39 L1118.72 660.18 L1120.22 659.97 L1121.72 659.76 L1123.22 659.56 L1124.72 659.36 L1126.22 659.16 L1127.72 658.96 L1129.22 658.75 L1130.72 658.55 L1132.22 658.35 L1133.72 658.15 L1135.22 657.96 L1136.72 657.76 L1138.22 657.56 L1139.72 657.36 L1141.22 657.16 L1142.72 656.96 L1144.22 656.76 L1145.72 656.56 L1147.22 656.35 L1148.72 656.15 L1150.22 655.95 L1151.72 655.75 L1153.22 655.54 L1154.72 655.34 L1156.22 655.13 L1157.72 654.92 L1159.22 654.72 L1160.72 654.51 L1162.22 654.3 L1163.72 654.09 L1165.22 653.88 L1166.72 653.66 L1168.22 653.45 L1169.72 653.24 L1171.22 653.02 L1172.72 652.8 L1174.22 652.59 L1175.72 652.37 L1177.22 652.15 L1178.72 651.92 L1180.22 651.7 L1181.72 651.48 L1183.22 651.25 L1184.72 651.02 L1186.22 650.8 L1187.72 650.57 L1189.22 650.34 L1190.72 650.11 L1192.22 649.88 L1193.72 649.64 L1195.22 649.41 L1196.72 649.18 L1198.22 648.94 L1199.72 648.71 L1201.22 648.47 L1202.72 648.24 L1204.22 648 L1205.72 647.76 L1207.22 647.52 L1208.72 647.28 L1210.22 647.05 L1211.72 646.81 L1213.22 646.57 L1214.72 646.33 L1216.22 646.09 L1217.72 645.85 L1219.22 645.61 L1220.72 645.37 L1222.22 645.13 L1223.72 644.89 L1225.22 644.65 L1226.72 644.41 L1228.22 644.17 L1229.72 643.92 L1231.22 643.68 L1232.72 643.44 L1234.22 643.2 L1235.72 642.95 L1237.22 642.71 L1238.72 642.47 L1240.22 642.22 L1241.72 641.98 L1243.22 641.73 L1244.72 641.48 L1246.22 641.24 L1247.72 640.99 L1249.22 640.74 L1250.72 640.49 L1252.22 640.24 L1253.72 639.99 L1255.22 639.74 L1256.72 639.49 L1258.22 639.24 L1259.72 638.98 L1261.22 638.73 L1262.72 638.47 L1264.22 638.22 L1265.72 637.96 L1267.22 637.7 L1268.72 637.44 L1270.22 637.18 L1271.72 636.92 L1273.22 636.66 L1274.72 636.4 L1276.22 636.14 L1277.72 635.87 L1279.22 635.61 L1280.72 635.34 L1282.22 635.07 L1283.72 634.81 L1285.22 634.54 L1286.72 634.27 L1288.22 633.99 L1289.72 633.72 L1291.22 633.45 L1292.72 633.17 L1294.22 632.9 L1295.72 632.62 L1297.22 632.34 L1298.72 632.06 L1300.22 631.78 L1301.72 631.5 L1303.22 631.22 L1304.72 630.94 L1306.22 630.65 L1307.72 630.37 L1309.22 630.09 L1310.72 629.8 L1312.22 629.51 L1313.72 629.23 L1315.22 628.94 L1316.72 628.65 L1318.22 628.36 L1319.72 628.07 L1321.22 627.78 L1322.72 627.49 L1324.22 627.2 L1325.72 626.91 L1327.22 626.62 L1328.72 626.33 L1330.22 626.03 L1331.72 625.74 L1333.22 625.45 L1334.72 625.16 L1336.22 624.87 L1337.72 624.57 L1339.22 624.28 L1340.72 623.99 L1342.22 623.69 L1343.72 623.4 L1345.22 623.11 L1346.72 622.81 L1348.22 622.52 L1349.72 622.23 L1351.22 621.93 L1352.72 621.64 L1354.22 621.34 L1355.72 621.05 L1357.22 620.76 L1358.72 620.46 L1360.22 620.17 L1361.72 619.87 L1363.22 619.58 L1364.72 619.28 L1366.22 618.99 L1367.72 618.69 L1369.22 618.4 L1370.72 618.1 L1372.22 617.81 L1373.72 617.51 L1375.22 617.22 L1376.72 616.92 L1378.22 616.63 L1379.72 616.33 L1381.22 616.04 L1382.72 615.74 L1384.22 615.45 L1385.72 615.15 L1385.89 615.12"/>
</g>
<text class="an" transform="translate(1259.27 494.67) scale(1 1.075)" style="font-size:10.8px">P for overall = 0.009</text>
<text class="an" transform="translate(1259.27 505.67) scale(1 1.075)" style="font-size:10.8px">P for nonlinear = 0.123</text>
<rect class="fr" x="987.37" y="440.16" width="418.98" height="340.96"/>
<text class="tk" text-anchor="end" transform="translate(984.07 490.63) scale(1 1.075)" style="font-size:10.8px">4</text>
<text class="tk" text-anchor="end" transform="translate(984.07 560.46) scale(1 1.075)" style="font-size:10.8px">3</text>
<text class="tk" text-anchor="end" transform="translate(984.07 630.54) scale(1 1.075)" style="font-size:10.8px">2</text>
<text class="tk" text-anchor="end" transform="translate(984.07 700.63) scale(1 1.075)" style="font-size:10.8px">1</text>
<text class="tk" text-anchor="end" transform="translate(984.07 770.46) scale(1 1.075)" style="font-size:10.8px">0</text>
<text class="tk" transform="translate(1409.65 785.55) scale(1 1.075)" style="font-size:10.8px">0.00</text>
<text class="tk" transform="translate(1409.65 700.31) scale(1 1.075)" style="font-size:10.8px">0.25</text>
<text class="tk" transform="translate(1409.65 615.07) scale(1 1.075)" style="font-size:10.8px">0.50</text>
<text class="tk" transform="translate(1409.65 529.83) scale(1 1.075)" style="font-size:10.8px">0.75</text>
<text class="tk" transform="translate(1409.65 444.59) scale(1 1.075)" style="font-size:10.8px">1.00</text>
<text class="tk" text-anchor="middle" transform="translate(1010.13 793.92) scale(1 1.075)" style="font-size:10.8px">0</text>
<text class="tk" text-anchor="middle" transform="translate(1093.01 793.92) scale(1 1.075)" style="font-size:10.8px">10</text>
<text class="tk" text-anchor="middle" transform="translate(1176.14 793.92) scale(1 1.075)" style="font-size:10.8px">20</text>
<text class="tk" text-anchor="middle" transform="translate(1259.02 793.92) scale(1 1.075)" style="font-size:10.8px">30</text>
<text class="tk" text-anchor="middle" transform="translate(1342.15 793.92) scale(1 1.075)" style="font-size:10.8px">40</text>
<path class="tm" d="M987.37 486.2H985.37M987.37 556.03H985.37M987.37 626.12H985.37M987.37 696.2H985.37M987.37 766.03H985.37M1406.35 781.12H1408.35M1406.35 695.88H1408.35M1406.35 610.64H1408.35M1406.35 525.4H1408.35M1406.35 440.16H1408.35M1010.13 781.12V783.12M1093.01 781.12V783.12M1176.14 781.12V783.12M1259.02 781.12V783.12M1342.15 781.12V783.12"/>
<text class="al" text-anchor="middle" transform="translate(1196.6 804.66) scale(1 1.075)" style="font-size:10.2px">SIRI</text>
<text class="al" text-anchor="middle" transform="translate(974.32 610.26) rotate(-90) scale(1.075 1)" style="font-size:10.2px">HR(95%CI)</text>
<text class="al" text-anchor="middle" transform="translate(1431.65 610.26) rotate(90) scale(1.075 1)" style="font-size:10.2px">Density</text>
</g>
<g class="panel">
<text class="ttl" transform="translate(23.79 872.92) scale(1 1.075)" style="font-size:9.25px">The relationship between the variable and the predicted probability</text>
<clipPath id="cb1"><rect x="23.79" y="878.6" width="419.49" height="340.96"/></clipPath>
<g clip-path="url(#cb1)">
<path class="bar" style="stroke-width:0.6" d="M42.6 1204.5V964.05H45.9V1204.5ZM45.9 1204.5V929.18H49.19V1204.5ZM49.19 1204.5V894.55H52.49V1204.5ZM52.49 1204.5V918.67H55.78V1204.5ZM55.78 1204.5V999.83H59.08V1204.5ZM59.08 1204.5V1009.21H62.37V1204.5ZM62.37 1204.5V1031.95H65.67V1204.5ZM65.67 1204.5V1042.55H68.96V1204.5ZM68.96 1204.5V1040.32H72.26V1204.5ZM72.26 1204.5V1064.07H75.55V1204.5ZM75.55 1204.5V1081.59H78.85V1204.5ZM78.85 1204.5V1072.33H82.14V1204.5ZM82.14 1204.5V1095.19H85.44V1204.5ZM85.44 1204.5V1097.2H88.74V1204.5ZM88.74 1204.5V1086.05H92.03V1204.5ZM92.03 1204.5V1110.81H95.33V1204.5ZM95.33 1204.5V1108.58H98.62V1204.5ZM98.62 1204.5V1100.55H101.92V1204.5ZM101.92 1204.5V1118.06H105.21V1204.5ZM105.21 1204.5V1103.33H108.51V1204.5ZM108.51 1204.5V1124.53H111.8V1204.5ZM111.8 1204.5V1112.59H115.1V1204.5ZM115.1 1204.5V1120.85H118.39V1204.5ZM118.39 1204.5V1120.85H121.69V1204.5ZM121.69 1204.5V1116.5H124.98V1204.5ZM124.98 1204.5V1127.31H128.28V1204.5ZM128.28 1204.5V1119.17H131.57V1204.5ZM131.57 1204.5V1117.83H134.87V1204.5ZM134.87 1204.5V1124.75H138.17V1204.5ZM138.17 1204.5V1127.31H141.46V1204.5ZM141.46 1204.5V1131.22H144.76V1204.5ZM144.76 1204.5V1127.54H148.05V1204.5ZM148.05 1204.5V1125.98H151.35V1204.5ZM151.35 1204.5V1124.75H154.64V1204.5ZM154.64 1204.5V1122.85H157.94V1204.5ZM157.94 1204.5V1129.88H161.23V1204.5ZM161.23 1204.5V1132.89H164.53V1204.5ZM164.53 1204.5V1129.88H167.82V1204.5ZM167.82 1204.5V1128.76H171.12V1204.5ZM171.12 1204.5V1129.88H174.41V1204.5ZM174.41 1204.5V1128.76H177.71V1204.5ZM177.71 1204.5V1129.88H181.01V1204.5ZM181.01 1204.5V1129.88H184.3V1204.5ZM184.3 1204.5V1131.22H187.6V1204.5ZM187.6 1204.5V1129.88H190.89V1204.5ZM190.89 1204.5V1134.01H194.19V1204.5ZM194.19 1204.5V1127.54H197.48V1204.5ZM197.48 1204.5V1125.98H200.78V1204.5ZM200.78 1204.5V1129.88H204.07V1204.5ZM204.07 1204.5V1132.89H207.37V1204.5ZM207.37 1204.5V1131.55H210.66V1204.5ZM210.66 1204.5V1124.75H213.96V1204.5ZM213.96 1204.5V1132.89H217.25V1204.5ZM217.25 1204.5V1131.55H220.55V1204.5ZM220.55 1204.5V1131.55H223.85V1204.5ZM223.85 1204.5V1132.89H227.14V1204.5ZM227.14 1204.5V1129.88H230.44V1204.5ZM230.44 1204.5V1131.55H233.73V1204.5ZM233.73 1204.5V1134.56H237.03V1204.5ZM237.03 1204.5V1131.55H240.32V1204.5ZM240.32 1204.5V1132.89H243.62V1204.5ZM243.62 1204.5V1132.89H246.91V1204.5ZM246.91 1204.5V1131.55H250.21V1204.5ZM250.21 1204.5V1131.55H253.5V1204.5ZM253.5 1204.5V1132.89H256.8V1204.5ZM256.8 1204.5V1132.89H260.09V1204.5ZM260.09 1204.5V1134.56H263.39V1204.5ZM263.39 1204.5V1132.89H266.68V1204.5ZM266.68 1204.5V1131.55H269.98V1204.5ZM269.98 1204.5V1132.89H273.28V1204.5ZM273.28 1204.5V1132.89H276.57V1204.5ZM276.57 1204.5V1132.89H279.87V1204.5ZM279.87 1204.5V1131.55H283.16V1204.5ZM283.16 1204.5V1134.01H286.46V1204.5ZM286.46 1204.5V1132.89H289.75V1204.5ZM289.75 1204.5V1134.01H293.05V1204.5ZM293.05 1204.5V1132.89H296.34V1204.5ZM296.34 1204.5V1132.89H299.64V1204.5ZM299.64 1204.5V1131.55H302.93V1204.5ZM302.93 1204.5V1132.89H306.23V1204.5ZM306.23 1204.5V1132.89H309.52V1204.5ZM309.52 1204.5V1134.23H312.82V1204.5ZM312.82 1204.5V1134.56H316.12V1204.5ZM316.12 1204.5V1134.56H319.41V1204.5ZM319.41 1204.5V1134.56H322.71V1204.5ZM322.71 1204.5V1134.56H326V1204.5ZM326 1204.5V1131.55H329.3V1204.5ZM329.3 1204.5V1131.55H332.59V1204.5ZM332.59 1204.5V1134.01H335.89V1204.5ZM335.89 1204.5V1134.9H339.18V1204.5ZM339.18 1204.5V1131.55H342.48V1204.5ZM342.48 1204.5V1134.56H345.77V1204.5ZM345.77 1204.5V1134.9H349.07V1204.5ZM349.07 1204.5V1131.55H352.36V1204.5ZM352.36 1204.5V1130.1H355.66V1204.5ZM355.66 1204.5V1134.01H358.96V1204.5ZM358.96 1204.5V1132.89H362.25V1204.5ZM362.25 1204.5V1134.56H365.55V1204.5ZM365.55 1204.5V1134.9H368.84V1204.5ZM368.84 1204.5V1134.9H372.14V1204.5ZM372.14 1204.5V1132.89H375.43V1204.5ZM375.43 1204.5V1132.89H378.73V1204.5ZM378.73 1204.5V1132.89H382.02V1204.5ZM382.02 1204.5V1134.56H385.32V1204.5ZM385.32 1204.5V1132.89H388.61V1204.5ZM388.61 1204.5V1131.55H391.91V1204.5ZM391.91 1204.5V1131.55H395.2V1204.5ZM395.2 1204.5V1132.89H398.5V1204.5ZM398.5 1204.5V1134.56H401.79V1204.5ZM401.79 1204.5V1134.56H405.09V1204.5ZM405.09 1204.5V1134.56H408.39V1204.5ZM408.39 1204.5V1134.56H411.68V1204.5ZM411.68 1204.5V1134.56H414.98V1204.5ZM414.98 1204.5V1134.56H418.27V1204.5ZM418.27 1204.5V1132.89H421.57V1204.5ZM421.57 1204.5V1110.03H424.86V1204.5Z"/>
<path class="band" d="M43.15 1093.34 L44.65 1093.07 L46.15 1092.79 L47.65 1092.48 L49.15 1092.16 L50.65 1091.81 L52.15 1091.45 L53.65 1091.07 L55.15 1090.67 L56.65 1090.25 L58.15 1089.8 L59.65 1089.33 L61.15 1088.84 L62.28 1088.47 L63.78 1084.9 L65.28 1081.33 L66.78 1077.79 L68.28 1074.27 L69.78 1070.78 L71.28 1067.35 L72.78 1063.96 L74.28 1060.65 L75.78 1057.4 L77.28 1054.24 L78.78 1051.16 L80.28 1048.18 L81.78 1045.29 L83.28 1042.5 L84.78 1039.82 L86.28 1037.24 L87.78 1034.77 L89.28 1032.41 L90.78 1030.15 L92.28 1028.01 L93.78 1025.97 L95.28 1024.04 L96.78 1022.23 L98.28 1020.53 L99.78 1018.94 L101.28 1017.47 L102.78 1016.11 L104.28 1014.88 L105.78 1013.75 L107.28 1012.75 L108.78 1011.85 L110.28 1011.05 L111.78 1010.35 L113.28 1009.74 L114.78 1009.21 L116.28 1008.75 L117.78 1008.36 L119.28 1008.04 L120.78 1007.77 L122.28 1007.55 L123.78 1007.38 L125.28 1007.25 L126.78 1007.16 L128.28 1007.1 L129.78 1007.06 L131.28 1007.05 L132.78 1007.06 L134.28 1007.09 L135.78 1007.13 L137.28 1007.18 L138.78 1007.24 L140.28 1007.31 L141.78 1007.37 L143.28 1007.43 L144.78 1007.49 L146.28 1007.53 L147.78 1007.57 L149.28 1007.6 L150.78 1007.62 L152.28 1007.64 L153.78 1007.64 L155.28 1007.63 L156.78 1007.61 L158.28 1007.57 L159.78 1007.52 L161.28 1007.46 L162.78 1007.39 L164.28 1007.3 L165.78 1007.2 L167.28 1007.09 L168.78 1006.96 L170.28 1006.83 L171.78 1006.68 L173.28 1006.52 L174.78 1006.36 L176.28 1006.18 L177.78 1005.99 L179.28 1005.8 L180.78 1005.59 L182.28 1005.38 L183.78 1005.15 L185.28 1004.92 L186.78 1004.68 L188.28 1004.42 L189.78 1004.16 L191.28 1003.89 L192.78 1003.61 L194.28 1003.33 L195.78 1003.03 L197.28 1002.72 L198.78 1002.41 L200.28 1002.09 L201.78 1001.76 L203.28 1001.42 L204.78 1001.07 L206.28 1000.72 L207.78 1000.35 L209.28 999.98 L210.78 999.61 L212.28 999.22 L213.78 998.83 L215.28 998.43 L216.78 998.03 L218.28 997.62 L219.78 997.2 L221.28 996.77 L222.78 996.34 L224.28 995.9 L225.78 995.45 L227.28 994.99 L228.78 994.53 L230.28 994.06 L231.78 993.59 L233.28 993.1 L234.78 992.61 L236.28 992.12 L237.78 991.61 L239.28 991.1 L240.78 990.58 L242.28 990.05 L243.78 989.52 L245.28 988.97 L246.78 988.42 L248.28 987.87 L249.78 987.31 L251.28 986.74 L252.78 986.16 L254.28 985.58 L255.78 984.99 L257.28 984.4 L258.78 983.8 L260.28 983.2 L261.78 982.59 L263.28 981.98 L264.78 981.37 L266.28 980.75 L267.78 980.13 L269.28 979.51 L270.78 978.88 L272.28 978.26 L273.78 977.63 L275.28 976.99 L276.78 976.36 L278.28 975.72 L279.78 975.08 L281.28 974.43 L282.78 973.78 L284.28 973.13 L285.78 972.48 L287.28 971.82 L288.78 971.16 L290.28 970.49 L291.78 969.82 L293.28 969.15 L294.78 968.47 L296.28 967.8 L297.78 967.11 L299.28 966.43 L300.78 965.74 L302.28 965.04 L303.78 964.34 L305.28 963.64 L306.78 962.94 L308.28 962.23 L309.78 961.51 L311.28 960.8 L312.78 960.07 L314.28 959.35 L315.78 958.62 L317.28 957.89 L318.78 957.16 L320.28 956.42 L321.78 955.68 L323.28 954.94 L324.78 954.19 L326.28 953.44 L327.78 952.69 L329.28 951.93 L330.78 951.18 L332.28 950.41 L333.78 949.65 L335.28 948.89 L336.78 948.12 L338.28 947.35 L339.78 946.57 L341.28 945.8 L342.78 945.02 L344.28 944.24 L345.78 943.46 L347.28 942.68 L348.78 941.89 L350.28 941.11 L351.78 940.32 L353.28 939.52 L354.78 938.73 L356.28 937.93 L357.78 937.12 L359.28 936.32 L360.78 935.5 L362.28 934.69 L363.78 933.87 L365.28 933.04 L366.78 932.21 L368.28 931.37 L369.78 930.53 L371.28 929.68 L372.78 928.83 L374.28 927.97 L375.78 927.1 L377.28 926.23 L378.78 925.35 L380.28 924.46 L381.78 923.56 L383.28 922.65 L384.78 921.74 L386.28 920.82 L387.78 919.89 L389.28 918.95 L390.78 918 L392.28 917.04 L393.78 916.07 L395.28 915.09 L396.78 914.1 L398.28 913.1 L399.78 912.09 L401.28 911.06 L402.78 910.03 L404.28 908.98 L405.78 907.91 L407.28 906.84 L408.78 905.75 L410.28 904.65 L411.78 903.53 L413.28 902.4 L414.78 901.25 L416.28 900.09 L417.78 898.91 L419.28 897.72 L420.78 896.52 L422.28 895.31 L423.33 894.46 L423.33 1125.95 L422.28 1125.75 L420.78 1125.48 L419.28 1125.2 L417.78 1124.93 L416.28 1124.66 L414.78 1124.38 L413.28 1124.11 L411.78 1123.83 L410.28 1123.55 L408.78 1123.28 L407.28 1123 L405.78 1122.73 L404.28 1122.45 L402.78 1122.17 L401.28 1121.89 L399.78 1121.62 L398.28 1121.34 L396.78 1121.06 L395.28 1120.78 L393.78 1120.5 L392.28 1120.22 L390.78 1119.93 L389.28 1119.65 L387.78 1119.37 L386.28 1119.08 L384.78 1118.8 L383.28 1118.51 L381.78 1118.23 L380.28 1117.94 L378.78 1117.65 L377.28 1117.36 L375.78 1117.07 L374.28 1116.78 L372.78 1116.49 L371.28 1116.19 L369.78 1115.9 L368.28 1115.61 L366.78 1115.31 L365.28 1115.01 L363.78 1114.72 L362.28 1114.42 L360.78 1114.12 L359.28 1113.82 L357.78 1113.52 L356.28 1113.22 L354.78 1112.91 L353.28 1112.61 L351.78 1112.3 L350.28 1112 L348.78 1111.69 L347.28 1111.39 L345.78 1111.08 L344.28 1110.77 L342.78 1110.46 L341.28 1110.15 L339.78 1109.84 L338.28 1109.53 L336.78 1109.22 L335.28 1108.91 L333.78 1108.59 L332.28 1108.28 L330.78 1107.96 L329.28 1107.65 L327.78 1107.34 L326.28 1107.02 L324.78 1106.7 L323.28 1106.39 L321.78 1106.07 L320.28 1105.76 L318.78 1105.44 L317.28 1105.12 L315.78 1104.81 L314.28 1104.49 L312.78 1104.18 L311.28 1103.86 L309.78 1103.54 L308.28 1103.23 L306.78 1102.91 L305.28 1102.6 L303.78 1102.28 L302.28 1101.97 L300.78 1101.66 L299.28 1101.35 L297.78 1101.03 L296.28 1100.72 L294.78 1100.41 L293.28 1100.1 L291.78 1099.8 L290.28 1099.49 L288.78 1099.18 L287.28 1098.88 L285.78 1098.58 L284.28 1098.28 L282.78 1097.98 L281.28 1097.68 L279.78 1097.38 L278.28 1097.09 L276.78 1096.79 L275.28 1096.5 L273.78 1096.21 L272.28 1095.92 L270.78 1095.64 L269.28 1095.35 L267.78 1095.07 L266.28 1094.79 L264.78 1094.51 L263.28 1094.23 L261.78 1093.96 L260.28 1093.69 L258.78 1093.42 L257.28 1093.15 L255.78 1092.89 L254.28 1092.62 L252.78 1092.36 L251.28 1092.11 L249.78 1091.85 L248.28 1091.6 L246.78 1091.34 L245.28 1091.1 L243.78 1090.85 L242.28 1090.61 L240.78 1090.36 L239.28 1090.12 L237.78 1089.89 L236.28 1089.65 L234.78 1089.42 L233.28 1089.19 L231.78 1088.96 L230.28 1088.73 L228.78 1088.51 L227.28 1088.29 L225.78 1088.07 L224.28 1087.86 L222.78 1087.64 L221.28 1087.43 L219.78 1087.22 L218.28 1087.02 L216.78 1086.81 L215.28 1086.61 L213.78 1086.42 L212.28 1086.22 L210.78 1086.03 L209.28 1085.84 L207.78 1085.65 L206.28 1085.47 L204.78 1085.29 L203.28 1085.11 L201.78 1084.93 L200.28 1084.76 L198.78 1084.59 L197.28 1084.43 L195.78 1084.27 L194.28 1084.11 L192.78 1083.96 L191.28 1083.8 L189.78 1083.66 L188.28 1083.51 L186.78 1083.38 L185.28 1083.24 L183.78 1083.11 L182.28 1082.98 L180.78 1082.86 L179.28 1082.74 L177.78 1082.63 L176.28 1082.52 L174.78 1082.41 L173.28 1082.31 L171.78 1082.22 L170.28 1082.13 L168.78 1082.04 L167.28 1081.96 L165.78 1081.89 L164.28 1081.82 L162.78 1081.76 L161.28 1081.7 L159.78 1081.64 L158.28 1081.6 L156.78 1081.55 L155.28 1081.52 L153.78 1081.49 L152.28 1081.46 L150.78 1081.44 L149.28 1081.43 L147.78 1081.42 L146.28 1081.42 L144.78 1081.42 L143.28 1081.43 L141.78 1081.45 L140.28 1081.47 L138.78 1081.49 L137.28 1081.53 L135.78 1081.57 L134.28 1081.61 L132.78 1081.66 L131.28 1081.72 L129.78 1081.78 L128.28 1081.85 L126.78 1081.93 L125.28 1082.01 L123.78 1082.1 L122.28 1082.19 L120.78 1082.29 L119.28 1082.39 L117.78 1082.5 L116.28 1082.61 L114.78 1082.73 L113.28 1082.86 L111.78 1082.99 L110.28 1083.13 L108.78 1083.27 L107.28 1083.42 L105.78 1083.57 L104.28 1083.73 L102.78 1083.89 L101.28 1084.06 L99.78 1084.23 L98.28 1084.4 L96.78 1084.58 L95.28 1084.77 L93.78 1084.96 L92.28 1085.15 L90.78 1085.35 L89.28 1085.55 L87.78 1085.76 L86.28 1085.97 L84.78 1086.18 L83.28 1086.4 L81.78 1086.62 L80.28 1086.84 L78.78 1087.07 L77.28 1087.3 L75.78 1087.53 L74.28 1087.76 L72.78 1088 L71.28 1088.23 L69.78 1088.47 L68.28 1088.71 L66.78 1088.96 L65.28 1089.2 L63.78 1089.44 L62.28 1089.68 L61.15 1092.13 L59.65 1095.42 L58.15 1098.74 L56.65 1102.08 L55.15 1105.46 L53.65 1108.87 L52.15 1112.3 L50.65 1115.76 L49.15 1119.25 L47.65 1122.78 L46.15 1126.33 L44.65 1129.92 L43.15 1133.53Z"/>
<line class="hl" x1="23.79" x2="443.28" y1="1089.11" y2="1089.11"/>
<path class="cv" d="M43.15 1115.26 L44.65 1113.16 L46.15 1111.06 L47.65 1108.97 L49.15 1106.9 L50.65 1104.83 L52.15 1102.77 L53.65 1100.71 L55.15 1098.65 L56.65 1096.6 L58.15 1094.57 L59.65 1092.55 L61.15 1090.55 L62.65 1088.58 L64.15 1086.6 L65.65 1084.63 L67.15 1082.67 L68.65 1080.77 L70.15 1078.95 L71.65 1077.23 L73.15 1075.58 L74.65 1073.99 L76.15 1072.44 L77.65 1070.96 L79.15 1069.54 L80.65 1068.19 L82.15 1066.91 L83.65 1065.69 L85.15 1064.51 L86.65 1063.38 L88.15 1062.3 L89.65 1061.27 L91.15 1060.29 L92.65 1059.34 L94.15 1058.42 L95.65 1057.54 L97.15 1056.71 L98.65 1055.92 L100.15 1055.19 L101.65 1054.52 L103.15 1053.86 L104.65 1053.24 L106.15 1052.66 L107.65 1052.12 L109.15 1051.65 L110.65 1051.25 L112.15 1050.88 L113.65 1050.54 L115.15 1050.23 L116.65 1049.95 L118.15 1049.72 L119.65 1049.53 L121.15 1049.4 L122.65 1049.27 L124.15 1049.16 L125.65 1049.07 L127.15 1049.01 L128.65 1049 L130.15 1049 L131.65 1049 L133.15 1049 L134.65 1049 L136.15 1049 L137.65 1049 L139.15 1049 L140.65 1049 L142.15 1049 L143.65 1049 L145.15 1049 L146.65 1049 L148.15 1049 L149.65 1049 L151.15 1049 L152.65 1049 L154.15 1049 L155.65 1049 L157.15 1049 L158.65 1049 L160.15 1049 L161.65 1049 L163.15 1049 L164.65 1049 L166.15 1049 L167.65 1049 L169.15 1049 L170.65 1049 L172.15 1049 L173.65 1049 L175.15 1049 L176.65 1049 L178.15 1049 L179.65 1049 L181.15 1049 L182.65 1049 L184.15 1049 L185.65 1049 L187.15 1049 L188.65 1049 L190.15 1049 L191.65 1049 L193.15 1049 L194.65 1049 L196.15 1049 L197.65 1049 L199.15 1049 L200.65 1049 L202.15 1049 L203.65 1049 L205.15 1049 L206.65 1049 L208.15 1049 L209.65 1049 L211.15 1049 L212.65 1049 L214.15 1049 L215.65 1049 L217.15 1049 L218.65 1049 L220.15 1049 L221.65 1049 L223.15 1049 L224.65 1049 L226.15 1049 L227.65 1049 L229.15 1049 L230.65 1049 L232.15 1049 L233.65 1049 L235.15 1049 L236.65 1049 L238.15 1049 L239.65 1049 L241.15 1049 L242.65 1049 L244.15 1049 L245.65 1049 L247.15 1049 L248.65 1049 L250.15 1049 L251.65 1049 L253.15 1049 L254.65 1049 L256.15 1049 L257.65 1049 L259.15 1049 L260.65 1049 L262.15 1049 L263.65 1049 L265.15 1049 L266.65 1049 L268.15 1049 L269.65 1049 L271.15 1049 L272.65 1049 L274.15 1049 L275.65 1049 L277.15 1049 L278.65 1049 L280.15 1049 L281.65 1049 L283.15 1049 L284.65 1048.99 L286.15 1048.99 L287.65 1048.99 L289.15 1048.99 L290.65 1048.99 L292.15 1048.99 L293.65 1048.99 L295.15 1048.98 L296.65 1048.98 L298.15 1048.98 L299.65 1048.98 L301.15 1048.98 L302.65 1048.97 L304.15 1048.97 L305.65 1048.97 L307.15 1048.97 L308.65 1048.96 L310.15 1048.96 L311.65 1048.96 L313.15 1048.96 L314.65 1048.95 L316.15 1048.95 L317.65 1048.95 L319.15 1048.94 L320.65 1048.94 L322.15 1048.94 L323.65 1048.94 L325.15 1048.93 L326.65 1048.93 L328.15 1048.93 L329.65 1048.92 L331.15 1048.92 L332.65 1048.92 L334.15 1048.91 L335.65 1048.91 L337.15 1048.91 L338.65 1048.9 L340.15 1048.9 L341.65 1048.9 L343.15 1048.89 L344.65 1048.89 L346.15 1048.88 L347.65 1048.88 L349.15 1048.87 L350.65 1048.87 L352.15 1048.86 L353.65 1048.86 L355.15 1048.85 L356.65 1048.85 L358.15 1048.84 L359.65 1048.83 L361.15 1048.83 L362.65 1048.82 L364.15 1048.81 L365.65 1048.81 L367.15 1048.8 L368.65 1048.79 L370.15 1048.78 L371.65 1048.77 L373.15 1048.77 L374.65 1048.76 L376.15 1048.75 L377.65 1048.74 L379.15 1048.73 L380.65 1048.72 L382.15 1048.71 L383.65 1048.7 L385.15 1048.69 L386.65 1048.68 L388.15 1048.67 L389.65 1048.66 L391.15 1048.65 L392.65 1048.64 L394.15 1048.63 L395.65 1048.62 L397.15 1048.61 L398.65 1048.6 L400.15 1048.59 L401.65 1048.57 L403.15 1048.56 L404.65 1048.55 L406.15 1048.54 L407.65 1048.53 L409.15 1048.52 L410.65 1048.5 L412.15 1048.49 L413.65 1048.48 L415.15 1048.47 L416.65 1048.46 L418.15 1048.44 L419.65 1048.43 L421.15 1048.42 L422.65 1048.41 L423.3 1048.4"/>
</g>
<text class="an" transform="translate(337.38 982.23) scale(1 1.075)" style="font-size:10.8px">P for overall = 0.043</text>
<text class="an" transform="translate(337.38 993.23) scale(1 1.075)" style="font-size:10.8px">P for nonlinear = 0.058</text>
<rect class="fr" x="23.79" y="878.6" width="419.49" height="340.96"/>
<text class="tk" text-anchor="end" transform="translate(20.49 978.44) scale(1 1.075)" style="font-size:10.8px">2</text>
<text class="tk" text-anchor="end" transform="translate(20.49 1093.54) scale(1 1.075)" style="font-size:10.8px">1</text>
<text class="tk" text-anchor="end" transform="translate(20.49 1208.64) scale(1 1.075)" style="font-size:10.8px">0</text>
<text class="tk" transform="translate(446.58 1223.99) scale(1 1.075)" style="font-size:10.8px">0.00</text>
<text class="tk" transform="translate(446.58 1138.75) scale(1 1.075)" style="font-size:10.8px">0.25</text>
<text class="tk" transform="translate(446.58 1053.51) scale(1 1.075)" style="font-size:10.8px">0.50</text>
<text class="tk" transform="translate(446.58 968.27) scale(1 1.075)" style="font-size:10.8px">0.75</text>
<text class="tk" transform="translate(446.58 883.03) scale(1 1.075)" style="font-size:10.8px">1.00</text>
<text class="tk" text-anchor="middle" transform="translate(41.44 1232.36) scale(1 1.075)" style="font-size:10.8px">0</text>
<text class="tk" text-anchor="middle" transform="translate(139.92 1232.36) scale(1 1.075)" style="font-size:10.8px">3000</text>
<text class="tk" text-anchor="middle" transform="translate(238.65 1232.36) scale(1 1.075)" style="font-size:10.8px">6000</text>
<text class="tk" text-anchor="middle" transform="translate(337.38 1232.36) scale(1 1.075)" style="font-size:10.8px">9000</text>
<text class="tk" text-anchor="middle" transform="translate(435.86 1232.36) scale(1 1.075)" style="font-size:10.8px">12000</text>
<path class="tm" d="M23.79 974.01H21.79M23.79 1089.11H21.79M23.79 1204.22H21.79M443.28 1219.56H445.28M443.28 1134.32H445.28M443.28 1049.08H445.28M443.28 963.84H445.28M443.28 878.6H445.28M41.44 1219.56V1221.56M139.92 1219.56V1221.56M238.65 1219.56V1221.56M337.38 1219.56V1221.56M435.86 1219.56V1221.56"/>
<text class="al" text-anchor="middle" transform="translate(232.77 1243.35) scale(1 1.075)" style="font-size:10.2px">AISI</text>
<text class="al" text-anchor="middle" transform="translate(11.25 1048.7) rotate(-90) scale(1.075 1)" style="font-size:10.2px">HR(95%CI)</text>
<text class="al" text-anchor="middle" transform="translate(468.58 1048.7) rotate(90) scale(1.075 1)" style="font-size:10.2px">Density</text>
</g>
<g class="panel">
<text class="ttl" transform="translate(505.58 872.76) scale(1 1.075)" style="font-size:9.25px">The relationship between the variable and the predicted probability</text>
<clipPath id="cb2"><rect x="505.58" y="878.09" width="418.21" height="340.71"/></clipPath>
<g clip-path="url(#cb2)">
<path class="bar" style="stroke-width:0.6" d="M524.76 1202.68V986.52H531.68V1202.68ZM531.68 1202.68V893.99H538.6V1202.68ZM538.6 1202.68V920.39H545.52V1202.68ZM545.52 1202.68V971.43H552.44V1202.68ZM552.44 1202.68V1014.68H559.36V1202.68ZM559.36 1202.68V1069.49H566.28V1202.68ZM566.28 1202.68V1066.98H573.2V1202.68ZM573.2 1202.68V1086.34H580.12V1202.68ZM580.12 1202.68V1126.57H587.04V1202.68ZM587.04 1202.68V1125.31H593.96V1202.68ZM593.96 1202.68V1131.85H600.89V1202.68ZM600.89 1202.68V1134.11H607.81V1202.68ZM607.81 1202.68V1142.41H614.73V1202.68ZM614.73 1202.68V1134.87H621.65V1202.68ZM621.65 1202.68V1152.47H628.57V1202.68ZM628.57 1202.68V1151.21H635.49V1202.68ZM635.49 1202.68V1148.95H642.41V1202.68ZM642.41 1202.68V1156.49H649.33V1202.68ZM649.33 1202.68V1153.22H656.25V1202.68ZM656.25 1202.68V1151.21H663.17V1202.68ZM663.17 1202.68V1153.22H670.09V1202.68ZM670.09 1202.68V1155.49H677.01V1202.68ZM677.01 1202.68V1155.49H683.93V1202.68ZM683.93 1202.68V1157.75H690.85V1202.68ZM690.85 1202.68V1160.77H697.77V1202.68ZM697.77 1202.68V1154.23H704.69V1202.68ZM704.69 1202.68V1159.26H711.61V1202.68ZM711.61 1202.68V1153.22H718.53V1202.68ZM718.53 1202.68V1158.76H725.45V1202.68ZM725.45 1202.68V1161.27H732.37V1202.68ZM732.37 1202.68V1162.02H739.29V1202.68ZM739.29 1202.68V1162.02H746.21V1202.68ZM746.21 1202.68V1162.02H753.13V1202.68ZM753.13 1202.68V1164.04H760.05V1202.68ZM760.05 1202.68V1160.77H766.97V1202.68ZM766.97 1202.68V1162.02H773.89V1202.68ZM773.89 1202.68V1163.03H780.81V1202.68ZM780.81 1202.68V1163.03H787.73V1202.68ZM787.73 1202.68V1164.04H794.65V1202.68ZM794.65 1202.68V1164.04H801.57V1202.68ZM801.57 1202.68V1160.77H808.49V1202.68ZM808.49 1202.68V1164.04H815.41V1202.68ZM815.41 1202.68V1164.79H822.33V1202.68ZM822.33 1202.68V1164.79H829.25V1202.68ZM829.25 1202.68V1164.04H836.17V1202.68ZM836.17 1202.68V1164.79H843.09V1202.68ZM843.09 1202.68V1162.02H850.01V1202.68ZM850.01 1202.68V1163.03H856.93V1202.68ZM856.93 1202.68V1164.79H863.85V1202.68ZM863.85 1202.68V1162.02H870.77V1202.68ZM870.77 1202.68V1164.04H877.69V1202.68ZM877.69 1202.68V1164.79H884.61V1202.68ZM884.61 1202.68V1164.04H891.53V1202.68ZM891.53 1202.68V1162.02H898.45V1202.68ZM898.45 1202.68V1146.69H905.37V1202.68Z"/>
<path class="band" d="M526.81 1138.22 L528.31 1137.96 L529.81 1137.68 L531.31 1137.38 L532.81 1137.06 L534.31 1136.74 L535.81 1136.39 L537.31 1136.04 L538.81 1135.67 L540.31 1135.29 L541.81 1134.89 L543.31 1134.47 L544.81 1134.03 L546.31 1133.57 L547.81 1133.1 L549.31 1132.61 L550.81 1132.11 L551.62 1131.83 L553.12 1129.84 L554.62 1127.86 L556.12 1125.87 L557.62 1123.89 L559.12 1121.92 L560.62 1119.95 L562.12 1118 L563.62 1116.05 L565.12 1114.11 L566.62 1112.18 L568.12 1110.27 L569.62 1108.38 L571.12 1106.5 L572.62 1104.64 L574.12 1102.8 L575.62 1100.98 L577.12 1099.19 L578.62 1097.43 L580.12 1095.69 L581.62 1093.98 L583.12 1092.3 L584.62 1090.66 L586.12 1089.04 L587.62 1087.47 L589.12 1085.93 L590.62 1084.43 L592.12 1082.97 L593.62 1081.55 L595.12 1080.18 L596.62 1078.85 L598.12 1077.56 L599.62 1076.33 L601.12 1075.13 L602.62 1073.99 L604.12 1072.89 L605.62 1071.84 L607.12 1070.84 L608.62 1069.88 L610.12 1068.97 L611.62 1068.11 L613.12 1067.29 L614.62 1066.51 L616.12 1065.78 L617.62 1065.09 L619.12 1064.43 L620.62 1063.81 L622.12 1063.23 L623.62 1062.68 L625.12 1062.16 L626.62 1061.66 L628.12 1061.2 L629.62 1060.76 L631.12 1060.34 L632.62 1059.94 L634.12 1059.55 L635.62 1059.18 L637.12 1058.83 L638.62 1058.49 L640.12 1058.16 L641.62 1057.83 L643.12 1057.52 L644.62 1057.21 L646.12 1056.9 L647.62 1056.6 L649.12 1056.3 L650.62 1056.01 L652.12 1055.7 L653.62 1055.4 L655.12 1055.09 L656.62 1054.78 L658.12 1054.46 L659.62 1054.13 L661.12 1053.8 L662.62 1053.45 L664.12 1053.09 L665.62 1052.72 L667.12 1052.34 L668.62 1051.95 L670.12 1051.56 L671.62 1051.15 L673.12 1050.73 L674.62 1050.29 L676.12 1049.85 L677.62 1049.4 L679.12 1048.93 L680.62 1048.46 L682.12 1047.97 L683.62 1047.47 L685.12 1046.95 L686.62 1046.43 L688.12 1045.89 L689.62 1045.35 L691.12 1044.79 L692.62 1044.22 L694.12 1043.64 L695.62 1043.05 L697.12 1042.45 L698.62 1041.85 L700.12 1041.23 L701.62 1040.6 L703.12 1039.97 L704.62 1039.33 L706.12 1038.68 L707.62 1038.02 L709.12 1037.36 L710.62 1036.69 L712.12 1036.01 L713.62 1035.33 L715.12 1034.64 L716.62 1033.94 L718.12 1033.24 L719.62 1032.53 L721.12 1031.82 L722.62 1031.1 L724.12 1030.37 L725.62 1029.64 L727.12 1028.9 L728.62 1028.15 L730.12 1027.4 L731.62 1026.64 L733.12 1025.88 L734.62 1025.11 L736.12 1024.33 L737.62 1023.55 L739.12 1022.76 L740.62 1021.97 L742.12 1021.17 L743.62 1020.36 L745.12 1019.55 L746.62 1018.73 L748.12 1017.9 L749.62 1017.07 L751.12 1016.23 L752.62 1015.38 L754.12 1014.52 L755.62 1013.66 L757.12 1012.78 L758.62 1011.9 L760.12 1011.02 L761.62 1010.12 L763.12 1009.21 L764.62 1008.3 L766.12 1007.38 L767.62 1006.45 L769.12 1005.51 L770.62 1004.56 L772.12 1003.61 L773.62 1002.64 L775.12 1001.67 L776.62 1000.69 L778.12 999.69 L779.62 998.69 L781.12 997.69 L782.62 996.67 L784.12 995.64 L785.62 994.6 L787.12 993.56 L788.62 992.5 L790.12 991.44 L791.62 990.37 L793.12 989.29 L794.62 988.19 L796.12 987.09 L797.62 985.98 L799.12 984.87 L800.62 983.74 L802.12 982.6 L803.62 981.45 L805.12 980.3 L806.62 979.13 L808.12 977.96 L809.62 976.77 L811.12 975.58 L812.62 974.37 L814.12 973.16 L815.62 971.94 L817.12 970.71 L818.62 969.47 L820.12 968.22 L821.62 966.96 L823.12 965.7 L824.62 964.42 L826.12 963.14 L827.62 961.85 L829.12 960.54 L830.62 959.23 L832.12 957.92 L833.62 956.59 L835.12 955.26 L836.62 953.92 L838.12 952.57 L839.62 951.21 L841.12 949.84 L842.62 948.47 L844.12 947.09 L845.62 945.71 L847.12 944.32 L848.62 942.92 L850.12 941.52 L851.62 940.12 L853.12 938.71 L854.62 937.3 L856.12 935.88 L857.62 934.46 L859.12 933.04 L860.62 931.62 L862.12 930.19 L863.62 928.76 L865.12 927.34 L866.62 925.91 L868.12 924.48 L869.62 923.05 L871.12 921.62 L872.62 920.19 L874.12 918.75 L875.62 917.32 L877.12 915.89 L878.62 914.45 L880.12 913.02 L881.62 911.58 L883.12 910.15 L884.62 908.71 L886.12 907.27 L887.62 905.84 L889.12 904.4 L890.62 902.96 L892.12 901.52 L893.62 900.09 L895.12 898.65 L896.62 897.21 L898.12 895.77 L899.49 894.46 L899.49 1107.27 L898.12 1107.24 L896.62 1107.21 L895.12 1107.17 L893.62 1107.13 L892.12 1107.1 L890.62 1107.06 L889.12 1107.03 L887.62 1106.99 L886.12 1106.96 L884.62 1106.92 L883.12 1106.89 L881.62 1106.85 L880.12 1106.82 L878.62 1106.79 L877.12 1106.75 L875.62 1106.72 L874.12 1106.69 L872.62 1106.65 L871.12 1106.62 L869.62 1106.59 L868.12 1106.56 L866.62 1106.53 L865.12 1106.5 L863.62 1106.46 L862.12 1106.43 L860.62 1106.41 L859.12 1106.38 L857.62 1106.35 L856.12 1106.32 L854.62 1106.29 L853.12 1106.26 L851.62 1106.24 L850.12 1106.21 L848.62 1106.19 L847.12 1106.16 L845.62 1106.14 L844.12 1106.12 L842.62 1106.09 L841.12 1106.07 L839.62 1106.05 L838.12 1106.03 L836.62 1106.01 L835.12 1105.99 L833.62 1105.98 L832.12 1105.96 L830.62 1105.94 L829.12 1105.93 L827.62 1105.92 L826.12 1105.9 L824.62 1105.89 L823.12 1105.88 L821.62 1105.87 L820.12 1105.86 L818.62 1105.85 L817.12 1105.85 L815.62 1105.84 L814.12 1105.84 L812.62 1105.83 L811.12 1105.83 L809.62 1105.83 L808.12 1105.83 L806.62 1105.83 L805.12 1105.84 L803.62 1105.84 L802.12 1105.84 L800.62 1105.85 L799.12 1105.86 L797.62 1105.87 L796.12 1105.88 L794.62 1105.89 L793.12 1105.9 L791.62 1105.91 L790.12 1105.93 L788.62 1105.95 L787.12 1105.96 L785.62 1105.98 L784.12 1106 L782.62 1106.02 L781.12 1106.05 L779.62 1106.07 L778.12 1106.1 L776.62 1106.12 L775.12 1106.15 L773.62 1106.18 L772.12 1106.21 L770.62 1106.25 L769.12 1106.28 L767.62 1106.32 L766.12 1106.35 L764.62 1106.39 L763.12 1106.43 L761.62 1106.47 L760.12 1106.52 L758.62 1106.56 L757.12 1106.61 L755.62 1106.65 L754.12 1106.7 L752.62 1106.75 L751.12 1106.81 L749.62 1106.86 L748.12 1106.92 L746.62 1106.97 L745.12 1107.03 L743.62 1107.09 L742.12 1107.16 L740.62 1107.22 L739.12 1107.29 L737.62 1107.35 L736.12 1107.42 L734.62 1107.49 L733.12 1107.57 L731.62 1107.64 L730.12 1107.72 L728.62 1107.8 L727.12 1107.88 L725.62 1107.96 L724.12 1108.04 L722.62 1108.13 L721.12 1108.22 L719.62 1108.31 L718.12 1108.4 L716.62 1108.5 L715.12 1108.59 L713.62 1108.69 L712.12 1108.79 L710.62 1108.9 L709.12 1109 L707.62 1109.11 L706.12 1109.22 L704.62 1109.33 L703.12 1109.45 L701.62 1109.56 L700.12 1109.68 L698.62 1109.8 L697.12 1109.93 L695.62 1110.05 L694.12 1110.18 L692.62 1110.31 L691.12 1110.45 L689.62 1110.58 L688.12 1110.72 L686.62 1110.86 L685.12 1111.01 L683.62 1111.15 L682.12 1111.3 L680.62 1111.45 L679.12 1111.6 L677.62 1111.76 L676.12 1111.92 L674.62 1112.08 L673.12 1112.24 L671.62 1112.41 L670.12 1112.57 L668.62 1112.74 L667.12 1112.92 L665.62 1113.09 L664.12 1113.27 L662.62 1113.45 L661.12 1113.63 L659.62 1113.82 L658.12 1114 L656.62 1114.19 L655.12 1114.39 L653.62 1114.58 L652.12 1114.78 L650.62 1114.98 L649.12 1115.18 L647.62 1115.38 L646.12 1115.59 L644.62 1115.8 L643.12 1116.01 L641.62 1116.22 L640.12 1116.44 L638.62 1116.65 L637.12 1116.87 L635.62 1117.1 L634.12 1117.32 L632.62 1117.55 L631.12 1117.78 L629.62 1118.01 L628.12 1118.25 L626.62 1118.48 L625.12 1118.72 L623.62 1118.96 L622.12 1119.21 L620.62 1119.46 L619.12 1119.71 L617.62 1119.96 L616.12 1120.22 L614.62 1120.48 L613.12 1120.74 L611.62 1121 L610.12 1121.27 L608.62 1121.54 L607.12 1121.82 L605.62 1122.1 L604.12 1122.38 L602.62 1122.66 L601.12 1122.95 L599.62 1123.24 L598.12 1123.54 L596.62 1123.84 L595.12 1124.14 L593.62 1124.44 L592.12 1124.75 L590.62 1125.07 L589.12 1125.39 L587.62 1125.71 L586.12 1126.03 L584.62 1126.36 L583.12 1126.69 L581.62 1127.03 L580.12 1127.37 L578.62 1127.71 L577.12 1128.06 L575.62 1128.41 L574.12 1128.77 L572.62 1129.12 L571.12 1129.48 L569.62 1129.85 L568.12 1130.22 L566.62 1130.58 L565.12 1130.96 L563.62 1131.33 L562.12 1131.71 L560.62 1132.09 L559.12 1132.47 L557.62 1132.85 L556.12 1133.23 L554.62 1133.62 L553.12 1134 L551.62 1134.39 L550.81 1135.35 L549.31 1137.13 L547.81 1138.91 L546.31 1140.71 L544.81 1142.51 L543.31 1144.31 L541.81 1146.12 L540.31 1147.94 L538.81 1149.76 L537.31 1151.59 L535.81 1153.42 L534.31 1155.27 L532.81 1157.11 L531.31 1158.97 L529.81 1160.83 L528.31 1162.7 L526.81 1164.57Z"/>
<line class="hl" x1="505.58" x2="923.79" y1="1133.36" y2="1133.36"/>
<path class="cv" d="M526.81 1153.06 L528.31 1151.85 L529.81 1150.64 L531.31 1149.43 L532.81 1148.22 L534.31 1147.01 L535.81 1145.81 L537.31 1144.61 L538.81 1143.42 L540.31 1142.22 L541.81 1141.04 L543.31 1139.85 L544.81 1138.68 L546.31 1137.51 L547.81 1136.35 L549.31 1135.19 L550.81 1134.04 L552.31 1132.9 L553.81 1131.78 L555.31 1130.65 L556.81 1129.54 L558.31 1128.44 L559.81 1127.36 L561.31 1126.28 L562.81 1125.21 L564.31 1124.16 L565.81 1123.12 L567.31 1122.1 L568.81 1121.09 L570.31 1120.09 L571.81 1119.11 L573.31 1118.14 L574.81 1117.19 L576.31 1116.25 L577.81 1115.33 L579.31 1114.43 L580.81 1113.54 L582.31 1112.67 L583.81 1111.82 L585.31 1110.98 L586.81 1110.17 L588.31 1109.37 L589.81 1108.58 L591.31 1107.82 L592.81 1107.07 L594.31 1106.34 L595.81 1105.63 L597.31 1104.94 L598.81 1104.27 L600.31 1103.61 L601.81 1102.97 L603.31 1102.35 L604.81 1101.75 L606.31 1101.16 L607.81 1100.59 L609.31 1100.03 L610.81 1099.49 L612.31 1098.97 L613.81 1098.46 L615.31 1097.97 L616.81 1097.48 L618.31 1097.02 L619.81 1096.56 L621.31 1096.12 L622.81 1095.69 L624.31 1095.27 L625.81 1094.87 L627.31 1094.47 L628.81 1094.08 L630.31 1093.7 L631.81 1093.33 L633.31 1092.97 L634.81 1092.62 L636.31 1092.27 L637.81 1091.93 L639.31 1091.6 L640.81 1091.27 L642.31 1090.95 L643.81 1090.63 L645.31 1090.32 L646.81 1090.01 L648.31 1089.71 L649.81 1089.4 L651.31 1089.11 L652.81 1088.81 L654.31 1088.52 L655.81 1088.23 L657.31 1087.95 L658.81 1087.66 L660.31 1087.37 L661.81 1087.09 L663.31 1086.81 L664.81 1086.53 L666.31 1086.24 L667.81 1085.96 L669.31 1085.68 L670.81 1085.4 L672.31 1085.12 L673.81 1084.84 L675.31 1084.56 L676.81 1084.28 L678.31 1084 L679.81 1083.72 L681.31 1083.43 L682.81 1083.15 L684.31 1082.87 L685.81 1082.58 L687.31 1082.3 L688.81 1082.01 L690.31 1081.73 L691.81 1081.44 L693.31 1081.15 L694.81 1080.86 L696.31 1080.56 L697.81 1080.27 L699.31 1079.97 L700.81 1079.68 L702.31 1079.38 L703.81 1079.07 L705.31 1078.77 L706.81 1078.47 L708.31 1078.16 L709.81 1077.85 L711.31 1077.54 L712.81 1077.23 L714.31 1076.92 L715.81 1076.6 L717.31 1076.29 L718.81 1075.97 L720.31 1075.65 L721.81 1075.33 L723.31 1075 L724.81 1074.68 L726.31 1074.35 L727.81 1074.03 L729.31 1073.7 L730.81 1073.37 L732.31 1073.03 L733.81 1072.7 L735.31 1072.36 L736.81 1072.03 L738.31 1071.69 L739.81 1071.35 L741.31 1071.01 L742.81 1070.67 L744.31 1070.32 L745.81 1069.97 L747.31 1069.63 L748.81 1069.28 L750.31 1068.93 L751.81 1068.58 L753.31 1068.22 L754.81 1067.87 L756.31 1067.51 L757.81 1067.15 L759.31 1066.8 L760.81 1066.43 L762.31 1066.07 L763.81 1065.71 L765.31 1065.34 L766.81 1064.98 L768.31 1064.61 L769.81 1064.24 L771.31 1063.87 L772.81 1063.5 L774.31 1063.12 L775.81 1062.75 L777.31 1062.37 L778.81 1061.99 L780.31 1061.61 L781.81 1061.23 L783.31 1060.85 L784.81 1060.47 L786.31 1060.08 L787.81 1059.7 L789.31 1059.31 L790.81 1058.92 L792.31 1058.53 L793.81 1058.14 L795.31 1057.75 L796.81 1057.36 L798.31 1056.97 L799.81 1056.58 L801.31 1056.18 L802.81 1055.79 L804.31 1055.4 L805.81 1055 L807.31 1054.6 L808.81 1054.21 L810.31 1053.81 L811.81 1053.41 L813.31 1053.02 L814.81 1052.62 L816.31 1052.22 L817.81 1051.82 L819.31 1051.42 L820.81 1051.03 L822.31 1050.63 L823.81 1050.23 L825.31 1049.83 L826.81 1049.43 L828.31 1049.04 L829.81 1048.64 L831.31 1048.24 L832.81 1047.85 L834.31 1047.45 L835.81 1047.06 L837.31 1046.67 L838.81 1046.27 L840.31 1045.88 L841.81 1045.49 L843.31 1045.1 L844.81 1044.71 L846.31 1044.33 L847.81 1043.94 L849.31 1043.56 L850.81 1043.17 L852.31 1042.79 L853.81 1042.41 L855.31 1042.03 L856.81 1041.66 L858.31 1041.28 L859.81 1040.91 L861.31 1040.53 L862.81 1040.16 L864.31 1039.79 L865.81 1039.42 L867.31 1039.05 L868.81 1038.68 L870.31 1038.32 L871.81 1037.95 L873.31 1037.58 L874.81 1037.22 L876.31 1036.86 L877.81 1036.49 L879.31 1036.13 L880.81 1035.77 L882.31 1035.41 L883.81 1035.05 L885.31 1034.69 L886.81 1034.33 L888.31 1033.97 L889.81 1033.61 L891.31 1033.26 L892.81 1032.9 L894.31 1032.54 L895.81 1032.18 L897.31 1031.82 L898.81 1031.47 L899.49 1031.3"/>
</g>
<text class="an" transform="translate(520.93 1002.94) scale(1 1.075)" style="font-size:10.8px">P for overall&lt;0.001</text>
<text class="an" transform="translate(520.93 1013.94) scale(1 1.075)" style="font-size:10.8px">P for nonlinear = 0.057</text>
<rect class="fr" x="505.58" y="878.09" width="418.21" height="340.71"/>
<text class="tk" text-anchor="end" transform="translate(502.28 929.84) scale(1 1.075)" style="font-size:10.8px">4</text>
<text class="tk" text-anchor="end" transform="translate(502.28 999.15) scale(1 1.075)" style="font-size:10.8px">3</text>
<text class="tk" text-anchor="end" transform="translate(502.28 1068.47) scale(1 1.075)" style="font-size:10.8px">2</text>
<text class="tk" text-anchor="end" transform="translate(502.28 1137.79) scale(1 1.075)" style="font-size:10.8px">1</text>
<text class="tk" text-anchor="end" transform="translate(502.28 1207.11) scale(1 1.075)" style="font-size:10.8px">0</text>
<text class="tk" transform="translate(927.09 1223.22) scale(1 1.075)" style="font-size:10.8px">0.00</text>
<text class="tk" transform="translate(927.09 1138.05) scale(1 1.075)" style="font-size:10.8px">0.25</text>
<text class="tk" transform="translate(927.09 1052.87) scale(1 1.075)" style="font-size:10.8px">0.50</text>
<text class="tk" transform="translate(927.09 967.69) scale(1 1.075)" style="font-size:10.8px">0.75</text>
<text class="tk" transform="translate(927.09 882.52) scale(1 1.075)" style="font-size:10.8px">1.00</text>
<text class="tk" text-anchor="middle" transform="translate(521.44 1231.6) scale(1 1.075)" style="font-size:10.8px">0.0</text>
<text class="tk" text-anchor="middle" transform="translate(659.56 1231.6) scale(1 1.075)" style="font-size:10.8px">0.1</text>
<text class="tk" text-anchor="middle" transform="translate(797.43 1231.6) scale(1 1.075)" style="font-size:10.8px">0.2</text>
<path class="tm" d="M505.58 925.41H503.58M505.58 994.73H503.58M505.58 1064.05H503.58M505.58 1133.36H503.58M505.58 1202.68H503.58M923.79 1218.8H925.79M923.79 1133.62H925.79M923.79 1048.44H925.79M923.79 963.27H925.79M923.79 878.09H925.79M521.44 1218.8V1220.8M659.56 1218.8V1220.8M797.43 1218.8V1220.8"/>
<text class="al" text-anchor="middle" transform="translate(714.05 1241.56) scale(1 1.075)" style="font-size:10.2px">NLPR</text>
<text class="al" text-anchor="middle" transform="translate(493.3 1047.42) rotate(-90) scale(1.075 1)" style="font-size:10.2px">HR(95%CI)</text>
<text class="al" text-anchor="middle" transform="translate(949.6 1047.42) rotate(90) scale(1.075 1)" style="font-size:10.2px">Density</text>
</g>
<g class="panel">
<text class="ttl" transform="translate(989.67 874.81) scale(1 1.075)" style="font-size:9.25px">The relationship between the variable and the predicted probability</text>
<clipPath id="cb3"><rect x="989.67" y="880.39" width="417.96" height="339.43"/></clipPath>
<g clip-path="url(#cb3)">
<path class="bar" style="stroke-width:0.6" d="M1008.6 1204.22V1065.02H1016.67V1204.22ZM1016.67 1204.22V895.38H1024.74V1204.22ZM1024.74 1204.22V919.72H1032.81V1204.22ZM1032.81 1204.22V968.4H1040.88V1204.22ZM1040.88 1204.22V1016.59H1048.95V1204.22ZM1048.95 1204.22V1031.74H1057.02V1204.22ZM1057.02 1204.22V1071.97H1065.1V1204.22ZM1065.1 1204.22V1090.35H1073.17V1204.22ZM1073.17 1204.22V1101.03H1081.24V1204.22ZM1081.24 1204.22V1117.18H1089.31V1204.22ZM1089.31 1204.22V1126.62H1097.38V1204.22ZM1097.38 1204.22V1139.78H1105.45V1204.22ZM1105.45 1204.22V1142.26H1113.52V1204.22ZM1113.52 1204.22V1133.82H1121.59V1204.22ZM1121.59 1204.22V1133.82H1129.66V1204.22ZM1129.66 1204.22V1145.24H1137.73V1204.22ZM1137.73 1204.22V1152.45H1145.8V1204.22ZM1145.8 1204.22V1145.24H1153.88V1204.22ZM1153.88 1204.22V1151.2H1161.95V1204.22ZM1161.95 1204.22V1154.43H1170.02V1204.22ZM1170.02 1204.22V1154.43H1178.09V1204.22ZM1178.09 1204.22V1156.42H1186.16V1204.22ZM1186.16 1204.22V1152.45H1194.23V1204.22ZM1194.23 1204.22V1154.43H1202.3V1204.22ZM1202.3 1204.22V1156.42H1210.37V1204.22ZM1210.37 1204.22V1156.42H1218.44V1204.22ZM1218.44 1204.22V1154.43H1226.51V1204.22ZM1226.51 1204.22V1156.42H1234.58V1204.22ZM1234.58 1204.22V1156.42H1242.66V1204.22ZM1242.66 1204.22V1156.42H1250.73V1204.22ZM1250.73 1204.22V1153.44H1258.8V1204.22ZM1258.8 1204.22V1157.66H1266.87V1204.22ZM1266.87 1204.22V1155.18H1274.94V1204.22ZM1274.94 1204.22V1160.39H1283.01V1204.22ZM1283.01 1204.22V1159.4H1291.08V1204.22ZM1291.08 1204.22V1159.4H1299.15V1204.22ZM1299.15 1204.22V1161.39H1307.22V1204.22ZM1307.22 1204.22V1158.65H1315.29V1204.22ZM1315.29 1204.22V1160.39H1323.36V1204.22ZM1323.36 1204.22V1159.4H1331.44V1204.22ZM1331.44 1204.22V1159.4H1339.51V1204.22ZM1339.51 1204.22V1161.39H1347.58V1204.22ZM1347.58 1204.22V1158.65H1355.65V1204.22ZM1355.65 1204.22V1159.4H1363.72V1204.22ZM1363.72 1204.22V1159.4H1371.79V1204.22ZM1371.79 1204.22V1159.4H1379.86V1204.22ZM1379.86 1204.22V1140.77H1387.93V1204.22Z"/>
<path class="band" d="M1012.44 1126.71 L1013.94 1126.48 L1015.44 1126.21 L1016.94 1125.91 L1018.44 1125.58 L1019.94 1125.22 L1021.44 1124.84 L1022.94 1124.44 L1024.44 1124.01 L1025.94 1123.55 L1027.44 1123.03 L1028.94 1122.48 L1030.44 1121.89 L1031.94 1121.27 L1033.44 1120.64 L1034.94 1119.99 L1036.44 1119.29 L1037.94 1118.56 L1039.44 1117.79 L1040.94 1116.98 L1041.85 1116.48 L1043.35 1113.56 L1044.85 1110.64 L1046.35 1107.74 L1047.85 1104.85 L1049.35 1101.99 L1050.85 1099.15 L1052.35 1096.34 L1053.85 1093.57 L1055.35 1090.85 L1056.85 1088.17 L1058.35 1085.53 L1059.85 1082.96 L1061.35 1080.43 L1062.85 1077.97 L1064.35 1075.58 L1065.85 1073.25 L1067.35 1070.99 L1068.85 1068.8 L1070.35 1066.68 L1071.85 1064.64 L1073.35 1062.67 L1074.85 1060.78 L1076.35 1058.98 L1077.85 1057.25 L1079.35 1055.6 L1080.85 1054.04 L1082.35 1052.55 L1083.85 1051.14 L1085.35 1049.81 L1086.85 1048.56 L1088.35 1047.39 L1089.85 1046.29 L1091.35 1045.27 L1092.85 1044.31 L1094.35 1043.42 L1095.85 1042.61 L1097.35 1041.85 L1098.85 1041.16 L1100.35 1040.52 L1101.85 1039.94 L1103.35 1039.41 L1104.85 1038.93 L1106.35 1038.5 L1107.85 1038.11 L1109.35 1037.75 L1110.85 1037.44 L1112.35 1037.15 L1113.85 1036.9 L1115.35 1036.67 L1116.85 1036.46 L1118.35 1036.27 L1119.85 1036.1 L1121.35 1035.95 L1122.85 1035.81 L1124.35 1035.68 L1125.85 1035.55 L1127.35 1035.43 L1128.85 1035.31 L1130.35 1035.19 L1131.85 1035.07 L1133.35 1034.94 L1134.85 1034.81 L1136.35 1034.68 L1137.85 1034.53 L1139.35 1034.37 L1140.85 1034.21 L1142.35 1034.03 L1143.85 1033.83 L1145.35 1033.63 L1146.85 1033.41 L1148.35 1033.19 L1149.85 1032.95 L1151.35 1032.69 L1152.85 1032.43 L1154.35 1032.15 L1155.85 1031.86 L1157.35 1031.56 L1158.85 1031.24 L1160.35 1030.92 L1161.85 1030.58 L1163.35 1030.22 L1164.85 1029.86 L1166.35 1029.48 L1167.85 1029.09 L1169.35 1028.69 L1170.85 1028.28 L1172.35 1027.85 L1173.85 1027.42 L1175.35 1026.97 L1176.85 1026.51 L1178.35 1026.04 L1179.85 1025.57 L1181.35 1025.08 L1182.85 1024.58 L1184.35 1024.07 L1185.85 1023.55 L1187.35 1023.02 L1188.85 1022.49 L1190.35 1021.95 L1191.85 1021.39 L1193.35 1020.83 L1194.85 1020.26 L1196.35 1019.68 L1197.85 1019.1 L1199.35 1018.5 L1200.85 1017.9 L1202.35 1017.29 L1203.85 1016.66 L1205.35 1016.03 L1206.85 1015.39 L1208.35 1014.74 L1209.85 1014.08 L1211.35 1013.42 L1212.85 1012.74 L1214.35 1012.05 L1215.85 1011.35 L1217.35 1010.65 L1218.85 1009.93 L1220.35 1009.2 L1221.85 1008.47 L1223.35 1007.73 L1224.85 1006.98 L1226.35 1006.22 L1227.85 1005.46 L1229.35 1004.69 L1230.85 1003.92 L1232.35 1003.14 L1233.85 1002.35 L1235.35 1001.56 L1236.85 1000.76 L1238.35 999.95 L1239.85 999.14 L1241.35 998.33 L1242.85 997.51 L1244.35 996.68 L1245.85 995.85 L1247.35 995.01 L1248.85 994.17 L1250.35 993.32 L1251.85 992.47 L1253.35 991.61 L1254.85 990.75 L1256.35 989.88 L1257.85 989.01 L1259.35 988.14 L1260.85 987.25 L1262.35 986.37 L1263.85 985.48 L1265.35 984.58 L1266.85 983.68 L1268.35 982.78 L1269.85 981.87 L1271.35 980.95 L1272.85 980.03 L1274.35 979.11 L1275.85 978.18 L1277.35 977.24 L1278.85 976.29 L1280.35 975.35 L1281.85 974.39 L1283.35 973.43 L1284.85 972.46 L1286.35 971.49 L1287.85 970.51 L1289.35 969.52 L1290.85 968.53 L1292.35 967.53 L1293.85 966.52 L1295.35 965.5 L1296.85 964.48 L1298.35 963.45 L1299.85 962.41 L1301.35 961.37 L1302.85 960.32 L1304.35 959.26 L1305.85 958.2 L1307.35 957.13 L1308.85 956.05 L1310.35 954.96 L1311.85 953.87 L1313.35 952.77 L1314.85 951.67 L1316.35 950.56 L1317.85 949.44 L1319.35 948.31 L1320.85 947.18 L1322.35 946.05 L1323.85 944.9 L1325.35 943.75 L1326.85 942.59 L1328.35 941.43 L1329.85 940.26 L1331.35 939.09 L1332.85 937.91 L1334.35 936.72 L1335.85 935.53 L1337.35 934.34 L1338.85 933.14 L1340.35 931.94 L1341.85 930.73 L1343.35 929.53 L1344.85 928.32 L1346.35 927.11 L1347.85 925.89 L1349.35 924.68 L1350.85 923.47 L1352.35 922.25 L1353.85 921.03 L1355.35 919.82 L1356.85 918.61 L1358.35 917.39 L1359.85 916.18 L1361.35 914.97 L1362.85 913.76 L1364.35 912.56 L1365.85 911.35 L1367.35 910.15 L1368.85 908.95 L1370.35 907.75 L1371.85 906.55 L1373.35 905.36 L1374.85 904.16 L1376.35 902.97 L1377.85 901.77 L1379.35 900.58 L1380.85 899.38 L1382.35 898.19 L1383.85 897 L1385.12 895.99 L1385.12 1112.39 L1383.85 1112.3 L1382.35 1112.2 L1380.85 1112.09 L1379.35 1111.99 L1377.85 1111.88 L1376.35 1111.78 L1374.85 1111.68 L1373.35 1111.57 L1371.85 1111.47 L1370.35 1111.36 L1368.85 1111.25 L1367.35 1111.15 L1365.85 1111.04 L1364.35 1110.94 L1362.85 1110.83 L1361.35 1110.72 L1359.85 1110.61 L1358.35 1110.51 L1356.85 1110.4 L1355.35 1110.29 L1353.85 1110.18 L1352.35 1110.07 L1350.85 1109.96 L1349.35 1109.84 L1347.85 1109.73 L1346.35 1109.62 L1344.85 1109.5 L1343.35 1109.39 L1341.85 1109.27 L1340.35 1109.16 L1338.85 1109.04 L1337.35 1108.92 L1335.85 1108.8 L1334.35 1108.68 L1332.85 1108.56 L1331.35 1108.44 L1329.85 1108.32 L1328.35 1108.2 L1326.85 1108.07 L1325.35 1107.95 L1323.85 1107.82 L1322.35 1107.7 L1320.85 1107.57 L1319.35 1107.44 L1317.85 1107.31 L1316.35 1107.18 L1314.85 1107.05 L1313.35 1106.92 L1311.85 1106.79 L1310.35 1106.65 L1308.85 1106.52 L1307.35 1106.38 L1305.85 1106.25 L1304.35 1106.11 L1302.85 1105.97 L1301.35 1105.84 L1299.85 1105.7 L1298.35 1105.56 L1296.85 1105.42 L1295.35 1105.28 L1293.85 1105.13 L1292.35 1104.99 L1290.85 1104.85 L1289.35 1104.71 L1287.85 1104.56 L1286.35 1104.42 L1284.85 1104.27 L1283.35 1104.13 L1281.85 1103.98 L1280.35 1103.83 L1278.85 1103.69 L1277.35 1103.54 L1275.85 1103.4 L1274.35 1103.25 L1272.85 1103.1 L1271.35 1102.95 L1269.85 1102.81 L1268.35 1102.66 L1266.85 1102.51 L1265.35 1102.37 L1263.85 1102.22 L1262.35 1102.07 L1260.85 1101.93 L1259.35 1101.78 L1257.85 1101.64 L1256.35 1101.49 L1254.85 1101.35 L1253.35 1101.2 L1251.85 1101.06 L1250.35 1100.92 L1248.85 1100.78 L1247.35 1100.64 L1245.85 1100.5 L1244.35 1100.36 L1242.85 1100.22 L1241.35 1100.09 L1239.85 1099.95 L1238.35 1099.82 L1236.85 1099.69 L1235.35 1099.56 L1233.85 1099.43 L1232.35 1099.3 L1230.85 1099.18 L1229.35 1099.05 L1227.85 1098.93 L1226.35 1098.81 L1224.85 1098.69 L1223.35 1098.57 L1221.85 1098.46 L1220.35 1098.35 L1218.85 1098.23 L1217.35 1098.13 L1215.85 1098.02 L1214.35 1097.92 L1212.85 1097.82 L1211.35 1097.72 L1209.85 1097.62 L1208.35 1097.53 L1206.85 1097.44 L1205.35 1097.35 L1203.85 1097.26 L1202.35 1097.18 L1200.85 1097.1 L1199.35 1097.03 L1197.85 1096.96 L1196.35 1096.89 L1194.85 1096.82 L1193.35 1096.76 L1191.85 1096.7 L1190.35 1096.64 L1188.85 1096.59 L1187.35 1096.54 L1185.85 1096.5 L1184.35 1096.46 L1182.85 1096.42 L1181.35 1096.39 L1179.85 1096.36 L1178.35 1096.33 L1176.85 1096.31 L1175.35 1096.3 L1173.85 1096.29 L1172.35 1096.28 L1170.85 1096.27 L1169.35 1096.28 L1167.85 1096.28 L1166.35 1096.29 L1164.85 1096.31 L1163.35 1096.33 L1161.85 1096.35 L1160.35 1096.38 L1158.85 1096.41 L1157.35 1096.45 L1155.85 1096.5 L1154.35 1096.54 L1152.85 1096.6 L1151.35 1096.66 L1149.85 1096.72 L1148.35 1096.79 L1146.85 1096.87 L1145.35 1096.95 L1143.85 1097.03 L1142.35 1097.13 L1140.85 1097.22 L1139.35 1097.33 L1137.85 1097.44 L1136.35 1097.55 L1134.85 1097.67 L1133.35 1097.8 L1131.85 1097.93 L1130.35 1098.07 L1128.85 1098.22 L1127.35 1098.37 L1125.85 1098.53 L1124.35 1098.69 L1122.85 1098.86 L1121.35 1099.04 L1119.85 1099.23 L1118.35 1099.42 L1116.85 1099.62 L1115.35 1099.82 L1113.85 1100.04 L1112.35 1100.26 L1110.85 1100.49 L1109.35 1100.73 L1107.85 1100.97 L1106.35 1101.22 L1104.85 1101.48 L1103.35 1101.75 L1101.85 1102.03 L1100.35 1102.31 L1098.85 1102.61 L1097.35 1102.91 L1095.85 1103.22 L1094.35 1103.53 L1092.85 1103.86 L1091.35 1104.19 L1089.85 1104.53 L1088.35 1104.88 L1086.85 1105.24 L1085.35 1105.61 L1083.85 1105.98 L1082.35 1106.36 L1080.85 1106.75 L1079.35 1107.15 L1077.85 1107.55 L1076.35 1107.97 L1074.85 1108.38 L1073.35 1108.81 L1071.85 1109.24 L1070.35 1109.69 L1068.85 1110.13 L1067.35 1110.59 L1065.85 1111.05 L1064.35 1111.51 L1062.85 1111.99 L1061.35 1112.46 L1059.85 1112.95 L1058.35 1113.44 L1056.85 1113.93 L1055.35 1114.43 L1053.85 1114.93 L1052.35 1115.43 L1050.85 1115.94 L1049.35 1116.45 L1047.85 1116.97 L1046.35 1117.48 L1044.85 1118 L1043.35 1118.52 L1041.85 1119.04 L1040.94 1120.41 L1039.44 1122.66 L1037.94 1124.91 L1036.44 1127.16 L1034.94 1129.41 L1033.44 1131.67 L1031.94 1133.95 L1030.44 1136.24 L1028.94 1138.53 L1027.44 1140.79 L1025.94 1143.02 L1024.44 1145.2 L1022.94 1147.32 L1021.44 1149.41 L1019.94 1151.46 L1018.44 1153.49 L1016.94 1155.48 L1015.44 1157.44 L1013.94 1159.36 L1012.44 1161.24Z"/>
<line class="hl" x1="989.67" x2="1407.63" y1="1117.76" y2="1117.76"/>
<path class="cv" d="M1012.44 1146.41 L1013.94 1144.92 L1015.44 1143.42 L1016.94 1141.93 L1018.44 1140.44 L1019.94 1138.94 L1021.44 1137.45 L1022.94 1135.96 L1024.44 1134.47 L1025.94 1132.98 L1027.44 1131.5 L1028.94 1130.01 L1030.44 1128.53 L1031.94 1127.05 L1033.44 1125.58 L1034.94 1124.11 L1036.44 1122.64 L1037.94 1121.18 L1039.44 1119.73 L1040.94 1118.29 L1042.44 1116.85 L1043.94 1115.43 L1045.44 1114.01 L1046.94 1112.61 L1048.44 1111.22 L1049.94 1109.85 L1051.44 1108.49 L1052.94 1107.15 L1054.44 1105.82 L1055.94 1104.52 L1057.44 1103.23 L1058.94 1101.96 L1060.44 1100.72 L1061.94 1099.5 L1063.44 1098.3 L1064.94 1097.12 L1066.44 1095.97 L1067.94 1094.84 L1069.44 1093.74 L1070.94 1092.66 L1072.44 1091.61 L1073.94 1090.58 L1075.44 1089.59 L1076.94 1088.62 L1078.44 1087.68 L1079.94 1086.76 L1081.44 1085.87 L1082.94 1085.01 L1084.44 1084.18 L1085.94 1083.38 L1087.44 1082.6 L1088.94 1081.85 L1090.44 1081.13 L1091.94 1080.43 L1093.44 1079.77 L1094.94 1079.12 L1096.44 1078.51 L1097.94 1077.92 L1099.44 1077.35 L1100.94 1076.81 L1102.44 1076.29 L1103.94 1075.8 L1105.44 1075.33 L1106.94 1074.88 L1108.44 1074.45 L1109.94 1074.04 L1111.44 1073.65 L1112.94 1073.28 L1114.44 1072.93 L1115.94 1072.59 L1117.44 1072.27 L1118.94 1071.97 L1120.44 1071.68 L1121.94 1071.4 L1123.44 1071.14 L1124.94 1070.88 L1126.44 1070.64 L1127.94 1070.41 L1129.44 1070.19 L1130.94 1069.97 L1132.44 1069.77 L1133.94 1069.57 L1135.44 1069.37 L1136.94 1069.18 L1138.44 1069 L1139.94 1068.82 L1141.44 1068.64 L1142.94 1068.47 L1144.44 1068.3 L1145.94 1068.13 L1147.44 1067.97 L1148.94 1067.81 L1150.44 1067.65 L1151.94 1067.49 L1153.44 1067.33 L1154.94 1067.17 L1156.44 1067.02 L1157.94 1066.86 L1159.44 1066.71 L1160.94 1066.55 L1162.44 1066.4 L1163.94 1066.24 L1165.44 1066.08 L1166.94 1065.92 L1168.44 1065.76 L1169.94 1065.6 L1171.44 1065.44 L1172.94 1065.28 L1174.44 1065.12 L1175.94 1064.95 L1177.44 1064.79 L1178.94 1064.62 L1180.44 1064.45 L1181.94 1064.28 L1183.44 1064.11 L1184.94 1063.94 L1186.44 1063.77 L1187.94 1063.59 L1189.44 1063.42 L1190.94 1063.24 L1192.44 1063.06 L1193.94 1062.88 L1195.44 1062.7 L1196.94 1062.52 L1198.44 1062.33 L1199.94 1062.15 L1201.44 1061.96 L1202.94 1061.77 L1204.44 1061.58 L1205.94 1061.39 L1207.44 1061.2 L1208.94 1061.01 L1210.44 1060.81 L1211.94 1060.61 L1213.44 1060.41 L1214.94 1060.21 L1216.44 1060.01 L1217.94 1059.81 L1219.44 1059.6 L1220.94 1059.4 L1222.44 1059.19 L1223.94 1058.98 L1225.44 1058.77 L1226.94 1058.56 L1228.44 1058.34 L1229.94 1058.13 L1231.44 1057.91 L1232.94 1057.7 L1234.44 1057.48 L1235.94 1057.26 L1237.44 1057.04 L1238.94 1056.82 L1240.44 1056.6 L1241.94 1056.38 L1243.44 1056.15 L1244.94 1055.93 L1246.44 1055.7 L1247.94 1055.48 L1249.44 1055.25 L1250.94 1055.03 L1252.44 1054.8 L1253.94 1054.57 L1255.44 1054.35 L1256.94 1054.12 L1258.44 1053.89 L1259.94 1053.66 L1261.44 1053.43 L1262.94 1053.21 L1264.44 1052.98 L1265.94 1052.75 L1267.44 1052.52 L1268.94 1052.29 L1270.44 1052.06 L1271.94 1051.83 L1273.44 1051.6 L1274.94 1051.38 L1276.44 1051.15 L1277.94 1050.92 L1279.44 1050.69 L1280.94 1050.46 L1282.44 1050.24 L1283.94 1050.01 L1285.44 1049.78 L1286.94 1049.55 L1288.44 1049.33 L1289.94 1049.1 L1291.44 1048.87 L1292.94 1048.65 L1294.44 1048.42 L1295.94 1048.2 L1297.44 1047.97 L1298.94 1047.75 L1300.44 1047.52 L1301.94 1047.3 L1303.44 1047.07 L1304.94 1046.85 L1306.44 1046.62 L1307.94 1046.4 L1309.44 1046.18 L1310.94 1045.96 L1312.44 1045.74 L1313.94 1045.51 L1315.44 1045.29 L1316.94 1045.07 L1318.44 1044.85 L1319.94 1044.63 L1321.44 1044.41 L1322.94 1044.2 L1324.44 1043.98 L1325.94 1043.76 L1327.44 1043.54 L1328.94 1043.32 L1330.44 1043.11 L1331.94 1042.89 L1333.44 1042.68 L1334.94 1042.46 L1336.44 1042.25 L1337.94 1042.03 L1339.44 1041.82 L1340.94 1041.6 L1342.44 1041.39 L1343.94 1041.18 L1345.44 1040.96 L1346.94 1040.75 L1348.44 1040.54 L1349.94 1040.33 L1351.44 1040.11 L1352.94 1039.9 L1354.44 1039.69 L1355.94 1039.48 L1357.44 1039.27 L1358.94 1039.06 L1360.44 1038.85 L1361.94 1038.64 L1363.44 1038.43 L1364.94 1038.22 L1366.44 1038.01 L1367.94 1037.8 L1369.44 1037.59 L1370.94 1037.38 L1372.44 1037.17 L1373.94 1036.96 L1375.44 1036.75 L1376.94 1036.54 L1378.44 1036.33 L1379.94 1036.12 L1381.44 1035.91 L1382.94 1035.7 L1384.44 1035.49 L1385.12 1035.4"/>
</g>
<text class="an" transform="translate(1246.48 952.81) scale(1 1.075)" style="font-size:10.8px">P for overall&lt;0.001</text>
<text class="an" transform="translate(1246.48 963.81) scale(1 1.075)" style="font-size:10.8px">P for nonlinear = 0.029</text>
<rect class="fr" x="989.67" y="880.39" width="417.96" height="339.43"/>
<text class="tk" text-anchor="end" transform="translate(986.37 948.76) scale(1 1.075)" style="font-size:10.8px">3</text>
<text class="tk" text-anchor="end" transform="translate(986.37 1035.48) scale(1 1.075)" style="font-size:10.8px">2</text>
<text class="tk" text-anchor="end" transform="translate(986.37 1122.19) scale(1 1.075)" style="font-size:10.8px">1</text>
<text class="tk" text-anchor="end" transform="translate(986.37 1208.64) scale(1 1.075)" style="font-size:10.8px">0</text>
<text class="tk" transform="translate(1410.93 1224.25) scale(1 1.075)" style="font-size:10.8px">0.00</text>
<text class="tk" transform="translate(1410.93 1139.39) scale(1 1.075)" style="font-size:10.8px">0.25</text>
<text class="tk" transform="translate(1410.93 1054.53) scale(1 1.075)" style="font-size:10.8px">0.50</text>
<text class="tk" transform="translate(1410.93 969.68) scale(1 1.075)" style="font-size:10.8px">0.75</text>
<text class="tk" transform="translate(1410.93 884.82) scale(1 1.075)" style="font-size:10.8px">1.00</text>
<text class="tk" text-anchor="middle" transform="translate(1004.76 1232.62) scale(1 1.075)" style="font-size:10.8px">0</text>
<text class="tk" text-anchor="middle" transform="translate(1085.34 1232.62) scale(1 1.075)" style="font-size:10.8px">10</text>
<text class="tk" text-anchor="middle" transform="translate(1165.91 1232.62) scale(1 1.075)" style="font-size:10.8px">20</text>
<text class="tk" text-anchor="middle" transform="translate(1246.48 1232.62) scale(1 1.075)" style="font-size:10.8px">30</text>
<text class="tk" text-anchor="middle" transform="translate(1327.31 1232.62) scale(1 1.075)" style="font-size:10.8px">40</text>
<path class="tm" d="M989.67 944.34H987.67M989.67 1031.05H987.67M989.67 1117.76H987.67M989.67 1204.22H987.67M1407.63 1219.82H1409.63M1407.63 1134.96H1409.63M1407.63 1050.1H1409.63M1407.63 965.25H1409.63M1407.63 880.39H1409.63M1004.76 1219.82V1221.82M1085.34 1219.82V1221.82M1165.91 1219.82V1221.82M1246.48 1219.82V1221.82M1327.31 1219.82V1221.82"/>
<text class="al" text-anchor="middle" transform="translate(1197.37 1243.61) scale(1 1.075)" style="font-size:10.2px">NLR</text>
<text class="al" text-anchor="middle" transform="translate(976.37 1049.98) rotate(-90) scale(1.075 1)" style="font-size:10.2px">HR(95%CI)</text>
<text class="al" text-anchor="middle" transform="translate(1432.16 1049.98) rotate(90) scale(1.075 1)" style="font-size:10.2px">Density</text>
</g>
<g class="panel">
<text class="ttl" transform="translate(1480.81 882.99) scale(1 1.075)" style="font-size:9.03px">The relationship between the variable and the predicted probability</text>
<clipPath id="cb4"><rect x="1480.81" y="888.58" width="407.47" height="332.01"/></clipPath>
<g clip-path="url(#cb4)">
<path class="bar" style="stroke-width:0.6" d="M1499.23 1205.5V1098.52H1502.38V1205.5ZM1502.38 1205.5V1059.29H1505.53V1205.5ZM1505.53 1205.5V1069.63H1508.68V1205.5ZM1508.68 1205.5V1027.76H1511.83V1205.5ZM1511.83 1205.5V990.88H1514.98V1205.5ZM1514.98 1205.5V977.73H1518.12V1205.5ZM1518.12 1205.5V914.21H1521.27V1205.5ZM1521.27 1205.5V903.76H1524.42V1205.5ZM1524.42 1205.5V966.71H1527.57V1205.5ZM1527.57 1205.5V935.35H1530.72V1205.5ZM1530.72 1205.5V935.35H1533.87V1205.5ZM1533.87 1205.5V940.85H1537.02V1205.5ZM1537.02 1205.5V1001H1540.17V1205.5ZM1540.17 1205.5V990.88H1543.32V1205.5ZM1543.32 1205.5V990.88H1546.47V1205.5ZM1546.47 1205.5V1019.89H1549.62V1205.5ZM1549.62 1205.5V1016.97H1552.77V1205.5ZM1552.77 1205.5V1019.89H1555.92V1205.5ZM1555.92 1205.5V1056.65H1559.07V1205.5ZM1559.07 1205.5V1032.82H1562.22V1205.5ZM1562.22 1205.5V1093.58H1565.37V1205.5ZM1565.37 1205.5V1062.1H1568.52V1205.5ZM1568.52 1205.5V1069.63H1571.67V1205.5ZM1571.67 1205.5V1088.18H1574.82V1205.5ZM1574.82 1205.5V1082.9H1577.97V1205.5ZM1577.97 1205.5V1093.58H1581.12V1205.5ZM1581.12 1205.5V1096.05H1584.27V1205.5ZM1584.27 1205.5V1093.58H1587.42V1205.5ZM1587.42 1205.5V1109.32H1590.57V1205.5ZM1590.57 1205.5V1098.86H1593.72V1205.5ZM1593.72 1205.5V1114.94H1596.87V1205.5ZM1596.87 1205.5V1125.28H1600.02V1205.5ZM1600.02 1205.5V1117.41H1603.17V1205.5ZM1603.17 1205.5V1122.47H1606.32V1205.5ZM1606.32 1205.5V1119.88H1609.46V1205.5ZM1609.46 1205.5V1141.02H1612.61V1205.5ZM1612.61 1205.5V1130.34H1615.76V1205.5ZM1615.76 1205.5V1141.02H1618.91V1205.5ZM1618.91 1205.5V1132.93H1622.06V1205.5ZM1622.06 1205.5V1125.06H1625.21V1205.5ZM1625.21 1205.5V1135.4H1628.36V1205.5ZM1628.36 1205.5V1125.06H1631.51V1205.5ZM1631.51 1205.5V1132.93H1634.66V1205.5ZM1634.66 1205.5V1141.02H1637.81V1205.5ZM1637.81 1205.5V1138.43H1640.96V1205.5ZM1640.96 1205.5V1127.53H1644.11V1205.5ZM1644.11 1205.5V1141.02H1647.26V1205.5ZM1647.26 1205.5V1138.43H1650.41V1205.5ZM1650.41 1205.5V1122.69H1653.56V1205.5ZM1653.56 1205.5V1141.02H1656.71V1205.5ZM1656.71 1205.5V1138.43H1659.86V1205.5ZM1659.86 1205.5V1141.02H1663.01V1205.5ZM1663.01 1205.5V1146.3H1666.16V1205.5ZM1666.16 1205.5V1143.61H1669.31V1205.5ZM1669.31 1205.5V1132.93H1672.46V1205.5ZM1672.46 1205.5V1148.66H1675.61V1205.5ZM1675.61 1205.5V1143.61H1678.76V1205.5ZM1678.76 1205.5V1143.61H1681.91V1205.5ZM1681.91 1205.5V1141.02H1685.06V1205.5ZM1685.06 1205.5V1143.61H1688.21V1205.5ZM1688.21 1205.5V1146.42H1691.36V1205.5ZM1691.36 1205.5V1146.42H1694.51V1205.5ZM1694.51 1205.5V1141.02H1697.65V1205.5ZM1697.65 1205.5V1143.61H1700.8V1205.5ZM1700.8 1205.5V1148.66H1703.95V1205.5ZM1703.95 1205.5V1148.66H1707.1V1205.5ZM1707.1 1205.5V1141.02H1710.25V1205.5ZM1710.25 1205.5V1143.61H1713.4V1205.5ZM1713.4 1205.5V1143.61H1716.55V1205.5ZM1716.55 1205.5V1146.42H1719.7V1205.5ZM1719.7 1205.5V1138.43H1722.85V1205.5ZM1722.85 1205.5V1146.42H1726V1205.5ZM1726 1205.5V1148.66H1729.15V1205.5ZM1729.15 1205.5V1146.42H1732.3V1205.5ZM1732.3 1205.5V1141.02H1735.45V1205.5ZM1735.45 1205.5V1148.66H1738.6V1205.5ZM1738.6 1205.5V1146.42H1741.75V1205.5ZM1741.75 1205.5V1148.66H1744.9V1205.5ZM1744.9 1205.5V1148.66H1748.05V1205.5ZM1748.05 1205.5V1141.02H1751.2V1205.5ZM1751.2 1205.5V1146.42H1754.35V1205.5ZM1754.35 1205.5V1146.42H1757.5V1205.5ZM1757.5 1205.5V1146.42H1760.65V1205.5ZM1760.65 1205.5V1143.61H1763.8V1205.5ZM1763.8 1205.5V1143.61H1766.95V1205.5ZM1766.95 1205.5V1148.66H1770.1V1205.5ZM1770.1 1205.5V1148.66H1773.25V1205.5ZM1773.25 1205.5V1146.42H1776.4V1205.5ZM1776.4 1205.5V1143.61H1779.55V1205.5ZM1779.55 1205.5V1148.66H1782.7V1205.5ZM1782.7 1205.5V1141.02H1785.85V1205.5ZM1785.85 1205.5V1148.66H1788.99V1205.5ZM1788.99 1205.5V1146.42H1792.14V1205.5ZM1792.14 1205.5V1146.42H1795.29V1205.5ZM1795.29 1205.5V1148.66H1798.44V1205.5ZM1798.44 1205.5V1148.66H1801.59V1205.5ZM1801.59 1205.5V1148.66H1804.74V1205.5ZM1804.74 1205.5V1148.66H1807.89V1205.5ZM1807.89 1205.5V1146.42H1811.04V1205.5ZM1811.04 1205.5V1148.66H1814.19V1205.5ZM1814.19 1205.5V1148.66H1817.34V1205.5ZM1817.34 1205.5V1148.66H1820.49V1205.5ZM1820.49 1205.5V1146.42H1823.64V1205.5ZM1823.64 1205.5V1148.66H1826.79V1205.5ZM1826.79 1205.5V1146.42H1829.94V1205.5ZM1829.94 1205.5V1143.61H1833.09V1205.5ZM1833.09 1205.5V1148.66H1836.24V1205.5ZM1836.24 1205.5V1148.66H1839.39V1205.5ZM1839.39 1205.5V1146.42H1842.54V1205.5ZM1842.54 1205.5V1148.66H1845.69V1205.5ZM1845.69 1205.5V1148.66H1848.84V1205.5ZM1848.84 1205.5V1148.66H1851.99V1205.5ZM1851.99 1205.5V1148.66H1855.14V1205.5ZM1855.14 1205.5V1148.66H1858.29V1205.5ZM1858.29 1205.5V1148.66H1861.44V1205.5ZM1861.44 1205.5V1148.66H1864.59V1205.5ZM1864.59 1205.5V1146.42H1867.74V1205.5ZM1867.74 1205.5V1103.92H1870.89V1205.5Z"/>
<path class="band" d="M1502.55 1091.41 L1504.05 1092.73 L1505.55 1094.05 L1507.05 1095.36 L1508.55 1096.67 L1510.05 1097.98 L1511.55 1099.28 L1513.05 1100.58 L1514.55 1101.88 L1516.05 1103.17 L1517.55 1104.46 L1519.05 1105.75 L1520.55 1107.03 L1522.05 1108.31 L1523.55 1109.59 L1525.05 1110.86 L1526.55 1112.13 L1528.05 1113.4 L1529.55 1114.67 L1531.05 1115.93 L1532.55 1117.19 L1534.05 1118.44 L1535.55 1119.7 L1537.05 1120.95 L1538.55 1122.19 L1540.05 1123.44 L1540.92 1124.16 L1542.42 1123.41 L1543.92 1122.67 L1545.42 1121.94 L1546.92 1121.2 L1548.42 1120.47 L1549.92 1119.74 L1551.42 1119.02 L1552.92 1118.31 L1554.42 1117.6 L1555.92 1116.91 L1557.42 1116.22 L1558.92 1115.54 L1560.42 1114.88 L1561.92 1114.22 L1563.42 1113.58 L1564.92 1112.96 L1566.42 1112.34 L1567.92 1111.74 L1569.42 1111.15 L1570.92 1110.57 L1572.42 1110 L1573.92 1109.44 L1575.42 1108.89 L1576.92 1108.36 L1578.42 1107.83 L1579.92 1107.32 L1581.42 1106.82 L1582.92 1106.33 L1584.42 1105.84 L1585.92 1105.37 L1587.42 1104.9 L1588.92 1104.44 L1590.42 1103.99 L1591.92 1103.54 L1593.42 1103.1 L1594.92 1102.66 L1596.42 1102.23 L1597.92 1101.8 L1599.42 1101.38 L1600.92 1100.95 L1602.42 1100.54 L1603.92 1100.12 L1605.42 1099.7 L1606.92 1099.28 L1608.42 1098.87 L1609.92 1098.45 L1611.42 1098.03 L1612.92 1097.61 L1614.42 1097.19 L1615.92 1096.77 L1617.42 1096.34 L1618.92 1095.91 L1620.42 1095.47 L1621.92 1095.03 L1623.42 1094.58 L1624.92 1094.13 L1626.42 1093.67 L1627.92 1093.21 L1629.42 1092.74 L1630.92 1092.26 L1632.42 1091.77 L1633.92 1091.28 L1635.42 1090.77 L1636.92 1090.27 L1638.42 1089.75 L1639.92 1089.22 L1641.42 1088.69 L1642.92 1088.15 L1644.42 1087.6 L1645.92 1087.04 L1647.42 1086.47 L1648.92 1085.9 L1650.42 1085.31 L1651.92 1084.71 L1653.42 1084.11 L1654.92 1083.49 L1656.42 1082.87 L1657.92 1082.24 L1659.42 1081.59 L1660.92 1080.94 L1662.42 1080.28 L1663.92 1079.61 L1665.42 1078.93 L1666.92 1078.24 L1668.42 1077.54 L1669.92 1076.83 L1671.42 1076.11 L1672.92 1075.38 L1674.42 1074.64 L1675.92 1073.9 L1677.42 1073.14 L1678.92 1072.38 L1680.42 1071.6 L1681.92 1070.82 L1683.42 1070.02 L1684.92 1069.22 L1686.42 1068.41 L1687.92 1067.59 L1689.42 1066.76 L1690.92 1065.92 L1692.42 1065.07 L1693.92 1064.21 L1695.42 1063.35 L1696.92 1062.47 L1698.42 1061.58 L1699.92 1060.69 L1701.42 1059.79 L1702.92 1058.88 L1704.42 1057.95 L1705.92 1057.03 L1707.42 1056.09 L1708.92 1055.14 L1710.42 1054.18 L1711.92 1053.22 L1713.42 1052.25 L1714.92 1051.27 L1716.42 1050.28 L1717.92 1049.28 L1719.42 1048.27 L1720.92 1047.26 L1722.42 1046.24 L1723.92 1045.21 L1725.42 1044.17 L1726.92 1043.13 L1728.42 1042.07 L1729.92 1041.01 L1731.42 1039.94 L1732.92 1038.87 L1734.42 1037.78 L1735.92 1036.69 L1737.42 1035.6 L1738.92 1034.49 L1740.42 1033.38 L1741.92 1032.27 L1743.42 1031.14 L1744.92 1030.01 L1746.42 1028.88 L1747.92 1027.73 L1749.42 1026.59 L1750.92 1025.43 L1752.42 1024.27 L1753.92 1023.11 L1755.42 1021.94 L1756.92 1020.76 L1758.42 1019.58 L1759.92 1018.39 L1761.42 1017.2 L1762.92 1016 L1764.42 1014.79 L1765.92 1013.58 L1767.42 1012.36 L1768.92 1011.13 L1770.42 1009.9 L1771.92 1008.66 L1773.42 1007.41 L1774.92 1006.15 L1776.42 1004.89 L1777.92 1003.62 L1779.42 1002.34 L1780.92 1001.06 L1782.42 999.76 L1783.92 998.46 L1785.42 997.15 L1786.92 995.83 L1788.42 994.5 L1789.92 993.17 L1791.42 991.82 L1792.92 990.47 L1794.42 989.1 L1795.92 987.73 L1797.42 986.35 L1798.92 984.95 L1800.42 983.55 L1801.92 982.14 L1803.42 980.71 L1804.92 979.28 L1806.42 977.83 L1807.92 976.38 L1809.42 974.91 L1810.92 973.43 L1812.42 971.94 L1813.92 970.44 L1815.42 968.93 L1816.92 967.4 L1818.42 965.86 L1819.92 964.3 L1821.42 962.73 L1822.92 961.15 L1824.42 959.56 L1825.92 957.94 L1827.42 956.32 L1828.92 954.68 L1830.42 953.02 L1831.92 951.35 L1833.42 949.66 L1834.92 947.96 L1836.42 946.25 L1837.92 944.52 L1839.42 942.77 L1840.92 941.01 L1842.42 939.23 L1843.92 937.44 L1845.42 935.64 L1846.92 933.82 L1848.42 931.99 L1849.92 930.14 L1851.42 928.28 L1852.92 926.4 L1854.42 924.52 L1855.92 922.61 L1857.42 920.7 L1858.92 918.77 L1860.42 916.84 L1861.92 914.89 L1863.42 912.94 L1864.92 910.99 L1866.42 909.02 L1867.92 907.06 L1869.42 905.09 L1870.12 904.18 L1870.12 1143.6 L1869.42 1143.57 L1867.92 1143.53 L1866.42 1143.48 L1864.92 1143.44 L1863.42 1143.4 L1861.92 1143.35 L1860.42 1143.31 L1858.92 1143.26 L1857.42 1143.22 L1855.92 1143.17 L1854.42 1143.13 L1852.92 1143.08 L1851.42 1143.04 L1849.92 1142.99 L1848.42 1142.95 L1846.92 1142.9 L1845.42 1142.86 L1843.92 1142.81 L1842.42 1142.76 L1840.92 1142.72 L1839.42 1142.67 L1837.92 1142.63 L1836.42 1142.58 L1834.92 1142.53 L1833.42 1142.49 L1831.92 1142.44 L1830.42 1142.4 L1828.92 1142.35 L1827.42 1142.3 L1825.92 1142.26 L1824.42 1142.21 L1822.92 1142.16 L1821.42 1142.11 L1819.92 1142.07 L1818.42 1142.02 L1816.92 1141.97 L1815.42 1141.92 L1813.92 1141.87 L1812.42 1141.82 L1810.92 1141.77 L1809.42 1141.72 L1807.92 1141.67 L1806.42 1141.62 L1804.92 1141.57 L1803.42 1141.52 L1801.92 1141.46 L1800.42 1141.41 L1798.92 1141.36 L1797.42 1141.3 L1795.92 1141.25 L1794.42 1141.19 L1792.92 1141.14 L1791.42 1141.08 L1789.92 1141.03 L1788.42 1140.97 L1786.92 1140.91 L1785.42 1140.86 L1783.92 1140.8 L1782.42 1140.74 L1780.92 1140.68 L1779.42 1140.62 L1777.92 1140.56 L1776.42 1140.5 L1774.92 1140.44 L1773.42 1140.38 L1771.92 1140.32 L1770.42 1140.26 L1768.92 1140.19 L1767.42 1140.13 L1765.92 1140.07 L1764.42 1140.01 L1762.92 1139.94 L1761.42 1139.88 L1759.92 1139.81 L1758.42 1139.75 L1756.92 1139.68 L1755.42 1139.61 L1753.92 1139.55 L1752.42 1139.48 L1750.92 1139.41 L1749.42 1139.34 L1747.92 1139.27 L1746.42 1139.2 L1744.92 1139.13 L1743.42 1139.06 L1741.92 1138.99 L1740.42 1138.92 L1738.92 1138.84 L1737.42 1138.77 L1735.92 1138.7 L1734.42 1138.63 L1732.92 1138.55 L1731.42 1138.48 L1729.92 1138.4 L1728.42 1138.33 L1726.92 1138.26 L1725.42 1138.18 L1723.92 1138.11 L1722.42 1138.03 L1720.92 1137.95 L1719.42 1137.88 L1717.92 1137.8 L1716.42 1137.73 L1714.92 1137.65 L1713.42 1137.57 L1711.92 1137.5 L1710.42 1137.42 L1708.92 1137.34 L1707.42 1137.27 L1705.92 1137.19 L1704.42 1137.11 L1702.92 1137.04 L1701.42 1136.96 L1699.92 1136.88 L1698.42 1136.81 L1696.92 1136.73 L1695.42 1136.65 L1693.92 1136.58 L1692.42 1136.5 L1690.92 1136.42 L1689.42 1136.35 L1687.92 1136.27 L1686.42 1136.19 L1684.92 1136.12 L1683.42 1136.04 L1681.92 1135.97 L1680.42 1135.89 L1678.92 1135.82 L1677.42 1135.75 L1675.92 1135.67 L1674.42 1135.6 L1672.92 1135.52 L1671.42 1135.45 L1669.92 1135.38 L1668.42 1135.31 L1666.92 1135.24 L1665.42 1135.17 L1663.92 1135.1 L1662.42 1135.03 L1660.92 1134.96 L1659.42 1134.89 L1657.92 1134.82 L1656.42 1134.76 L1654.92 1134.69 L1653.42 1134.63 L1651.92 1134.56 L1650.42 1134.5 L1648.92 1134.44 L1647.42 1134.38 L1645.92 1134.32 L1644.42 1134.26 L1642.92 1134.2 L1641.42 1134.14 L1639.92 1134.09 L1638.42 1134.03 L1636.92 1133.98 L1635.42 1133.92 L1633.92 1133.87 L1632.42 1133.82 L1630.92 1133.77 L1629.42 1133.72 L1627.92 1133.67 L1626.42 1133.62 L1624.92 1133.57 L1623.42 1133.52 L1621.92 1133.47 L1620.42 1133.43 L1618.92 1133.38 L1617.42 1133.33 L1615.92 1133.29 L1614.42 1133.24 L1612.92 1133.19 L1611.42 1133.14 L1609.92 1133.08 L1608.42 1133.03 L1606.92 1132.97 L1605.42 1132.92 L1603.92 1132.85 L1602.42 1132.79 L1600.92 1132.72 L1599.42 1132.65 L1597.92 1132.58 L1596.42 1132.5 L1594.92 1132.42 L1593.42 1132.33 L1591.92 1132.24 L1590.42 1132.14 L1588.92 1132.03 L1587.42 1131.92 L1585.92 1131.8 L1584.42 1131.67 L1582.92 1131.54 L1581.42 1131.4 L1579.92 1131.25 L1578.42 1131.09 L1576.92 1130.92 L1575.42 1130.74 L1573.92 1130.55 L1572.42 1130.35 L1570.92 1130.14 L1569.42 1129.92 L1567.92 1129.69 L1566.42 1129.45 L1564.92 1129.2 L1563.42 1128.94 L1561.92 1128.68 L1560.42 1128.4 L1558.92 1128.11 L1557.42 1127.81 L1555.92 1127.51 L1554.42 1127.19 L1552.92 1126.87 L1551.42 1126.55 L1549.92 1126.22 L1548.42 1125.88 L1546.92 1125.54 L1545.42 1125.2 L1543.92 1124.85 L1542.42 1124.5 L1540.92 1124.16 L1540.05 1124.72 L1538.55 1125.69 L1537.05 1126.66 L1535.55 1127.62 L1534.05 1128.58 L1532.55 1129.53 L1531.05 1130.47 L1529.55 1131.41 L1528.05 1132.34 L1526.55 1133.26 L1525.05 1134.18 L1523.55 1135.08 L1522.05 1135.99 L1520.55 1136.88 L1519.05 1137.78 L1517.55 1138.66 L1516.05 1139.54 L1514.55 1140.41 L1513.05 1141.28 L1511.55 1142.14 L1510.05 1143 L1508.55 1143.84 L1507.05 1144.69 L1505.55 1145.52 L1504.05 1146.35 L1502.55 1147.18Z"/>
<line class="hl" x1="1480.81" x2="1888.28" y1="1124.16" y2="1124.16"/>
<path class="cv" d="M1502.55 1124.67 L1504.05 1124.62 L1505.55 1124.57 L1507.05 1124.52 L1508.55 1124.47 L1510.05 1124.42 L1511.55 1124.37 L1513.05 1124.32 L1514.55 1124.27 L1516.05 1124.22 L1517.55 1124.16 L1519.05 1124.1 L1520.55 1124.04 L1522.05 1123.98 L1523.55 1123.92 L1525.05 1123.85 L1526.55 1123.78 L1528.05 1123.71 L1529.55 1123.64 L1531.05 1123.56 L1532.55 1123.48 L1534.05 1123.4 L1535.55 1123.31 L1537.05 1123.23 L1538.55 1123.13 L1540.05 1123.04 L1541.55 1122.94 L1543.05 1122.84 L1544.55 1122.73 L1546.05 1122.62 L1547.55 1122.51 L1549.05 1122.39 L1550.55 1122.27 L1552.05 1122.15 L1553.55 1122.02 L1555.05 1121.89 L1556.55 1121.75 L1558.05 1121.61 L1559.55 1121.47 L1561.05 1121.32 L1562.55 1121.17 L1564.05 1121.02 L1565.55 1120.86 L1567.05 1120.7 L1568.55 1120.54 L1570.05 1120.37 L1571.55 1120.2 L1573.05 1120.02 L1574.55 1119.84 L1576.05 1119.66 L1577.55 1119.48 L1579.05 1119.29 L1580.55 1119.1 L1582.05 1118.91 L1583.55 1118.71 L1585.05 1118.52 L1586.55 1118.31 L1588.05 1118.11 L1589.55 1117.9 L1591.05 1117.69 L1592.55 1117.48 L1594.05 1117.27 L1595.55 1117.05 L1597.05 1116.83 L1598.55 1116.61 L1600.05 1116.39 L1601.55 1116.16 L1603.05 1115.93 L1604.55 1115.7 L1606.05 1115.47 L1607.55 1115.24 L1609.05 1115 L1610.55 1114.77 L1612.05 1114.53 L1613.55 1114.29 L1615.05 1114.05 L1616.55 1113.8 L1618.05 1113.56 L1619.55 1113.31 L1621.05 1113.07 L1622.55 1112.82 L1624.05 1112.57 L1625.55 1112.32 L1627.05 1112.06 L1628.55 1111.81 L1630.05 1111.55 L1631.55 1111.3 L1633.05 1111.04 L1634.55 1110.78 L1636.05 1110.52 L1637.55 1110.26 L1639.05 1110 L1640.55 1109.74 L1642.05 1109.48 L1643.55 1109.22 L1645.05 1108.95 L1646.55 1108.69 L1648.05 1108.42 L1649.55 1108.16 L1651.05 1107.89 L1652.55 1107.62 L1654.05 1107.35 L1655.55 1107.08 L1657.05 1106.81 L1658.55 1106.54 L1660.05 1106.27 L1661.55 1106 L1663.05 1105.73 L1664.55 1105.46 L1666.05 1105.19 L1667.55 1104.91 L1669.05 1104.64 L1670.55 1104.36 L1672.05 1104.09 L1673.55 1103.81 L1675.05 1103.54 L1676.55 1103.26 L1678.05 1102.99 L1679.55 1102.71 L1681.05 1102.43 L1682.55 1102.15 L1684.05 1101.88 L1685.55 1101.6 L1687.05 1101.32 L1688.55 1101.04 L1690.05 1100.76 L1691.55 1100.48 L1693.05 1100.2 L1694.55 1099.92 L1696.05 1099.64 L1697.55 1099.36 L1699.05 1099.07 L1700.55 1098.79 L1702.05 1098.51 L1703.55 1098.23 L1705.05 1097.94 L1706.55 1097.66 L1708.05 1097.38 L1709.55 1097.1 L1711.05 1096.81 L1712.55 1096.53 L1714.05 1096.24 L1715.55 1095.96 L1717.05 1095.68 L1718.55 1095.39 L1720.05 1095.11 L1721.55 1094.82 L1723.05 1094.54 L1724.55 1094.25 L1726.05 1093.97 L1727.55 1093.68 L1729.05 1093.4 L1730.55 1093.11 L1732.05 1092.83 L1733.55 1092.54 L1735.05 1092.26 L1736.55 1091.97 L1738.05 1091.69 L1739.55 1091.41 L1741.05 1091.12 L1742.55 1090.84 L1744.05 1090.56 L1745.55 1090.27 L1747.05 1089.99 L1748.55 1089.71 L1750.05 1089.43 L1751.55 1089.15 L1753.05 1088.87 L1754.55 1088.59 L1756.05 1088.31 L1757.55 1088.03 L1759.05 1087.75 L1760.55 1087.47 L1762.05 1087.19 L1763.55 1086.91 L1765.05 1086.64 L1766.55 1086.36 L1768.05 1086.08 L1769.55 1085.81 L1771.05 1085.53 L1772.55 1085.26 L1774.05 1084.99 L1775.55 1084.71 L1777.05 1084.44 L1778.55 1084.17 L1780.05 1083.9 L1781.55 1083.63 L1783.05 1083.36 L1784.55 1083.09 L1786.05 1082.82 L1787.55 1082.56 L1789.05 1082.29 L1790.55 1082.02 L1792.05 1081.76 L1793.55 1081.49 L1795.05 1081.23 L1796.55 1080.97 L1798.05 1080.7 L1799.55 1080.44 L1801.05 1080.18 L1802.55 1079.92 L1804.05 1079.66 L1805.55 1079.4 L1807.05 1079.15 L1808.55 1078.89 L1810.05 1078.63 L1811.55 1078.38 L1813.05 1078.12 L1814.55 1077.87 L1816.05 1077.61 L1817.55 1077.36 L1819.05 1077.11 L1820.55 1076.86 L1822.05 1076.61 L1823.55 1076.36 L1825.05 1076.11 L1826.55 1075.86 L1828.05 1075.61 L1829.55 1075.37 L1831.05 1075.12 L1832.55 1074.87 L1834.05 1074.63 L1835.55 1074.38 L1837.05 1074.14 L1838.55 1073.9 L1840.05 1073.66 L1841.55 1073.41 L1843.05 1073.17 L1844.55 1072.93 L1846.05 1072.69 L1847.55 1072.45 L1849.05 1072.22 L1850.55 1071.98 L1852.05 1071.74 L1853.55 1071.5 L1855.05 1071.27 L1856.55 1071.03 L1858.05 1070.8 L1859.55 1070.56 L1861.05 1070.32 L1862.55 1070.09 L1864.05 1069.85 L1865.55 1069.62 L1867.05 1069.38 L1868.55 1069.15 L1870.05 1068.92 L1870.12 1068.91"/>
</g>
<text class="an" transform="translate(1727.13 968.41) scale(1 1.075)" style="font-size:10.54px">P for overall = 0.422</text>
<text class="an" transform="translate(1727.13 979.15) scale(1 1.075)" style="font-size:10.54px">P for nonlinear = 0.774</text>
<rect class="fr" x="1480.81" y="888.58" width="407.47" height="332.01"/>
<text class="tk" text-anchor="end" transform="translate(1477.51 965.28) scale(1 1.075)" style="font-size:10.54px">3</text>
<text class="tk" text-anchor="end" transform="translate(1477.51 1046.88) scale(1 1.075)" style="font-size:10.54px">2</text>
<text class="tk" text-anchor="end" transform="translate(1477.51 1128.48) scale(1 1.075)" style="font-size:10.54px">1</text>
<text class="tk" text-anchor="end" transform="translate(1477.51 1209.82) scale(1 1.075)" style="font-size:10.54px">0</text>
<text class="tk" transform="translate(1891.58 1224.91) scale(1 1.075)" style="font-size:10.54px">0.00</text>
<text class="tk" transform="translate(1891.58 1141.91) scale(1 1.075)" style="font-size:10.54px">0.25</text>
<text class="tk" transform="translate(1891.58 1058.9) scale(1 1.075)" style="font-size:10.54px">0.50</text>
<text class="tk" transform="translate(1891.58 975.9) scale(1 1.075)" style="font-size:10.54px">0.75</text>
<text class="tk" transform="translate(1891.58 892.9) scale(1 1.075)" style="font-size:10.54px">1.00</text>
<text class="tk" text-anchor="middle" transform="translate(1491.3 1233.39) scale(1 1.075)" style="font-size:10.54px">0</text>
<text class="tk" text-anchor="middle" transform="translate(1569.82 1233.39) scale(1 1.075)" style="font-size:10.54px">250</text>
<text class="tk" text-anchor="middle" transform="translate(1648.35 1233.39) scale(1 1.075)" style="font-size:10.54px">500</text>
<text class="tk" text-anchor="middle" transform="translate(1727.13 1233.39) scale(1 1.075)" style="font-size:10.54px">750</text>
<text class="tk" text-anchor="middle" transform="translate(1805.66 1233.39) scale(1 1.075)" style="font-size:10.54px">1000</text>
<text class="tk" text-anchor="middle" transform="translate(1884.19 1233.39) scale(1 1.075)" style="font-size:10.54px">1250</text>
<path class="tm" d="M1480.81 960.96H1478.81M1480.81 1042.56H1478.81M1480.81 1124.16H1478.81M1480.81 1205.5H1478.81M1888.28 1220.59H1890.28M1888.28 1137.58H1890.28M1888.28 1054.58H1890.28M1888.28 971.58H1890.28M1888.28 888.58H1890.28M1491.3 1220.59V1222.59M1569.82 1220.59V1222.59M1648.35 1220.59V1222.59M1727.13 1220.59V1222.59M1805.66 1220.59V1222.59M1884.19 1220.59V1222.59"/>
<text class="al" text-anchor="middle" transform="translate(1684.16 1243.61) scale(1 1.075)" style="font-size:9.96px">PLR</text>
<text class="al" text-anchor="middle" transform="translate(1469.04 1054.33) rotate(-90) scale(1.075 1)" style="font-size:9.96px">HR(95%CI)</text>
<text class="al" text-anchor="middle" transform="translate(1914.6 1054.33) rotate(90) scale(1.075 1)" style="font-size:9.96px">Density</text>
</g>
<g class="panel">
<text class="ttl" transform="translate(23.79 1268.34) scale(1 1.075)" style="font-size:9.25px">The relationship between the variable and the predicted probability</text>
<clipPath id="cb5"><rect x="23.79" y="1273.92" width="417.96" height="338.92"/></clipPath>
<g clip-path="url(#cb5)">
<path class="bar" style="stroke-width:0.6" d="M42.8 1598.01V1504.61H46.6V1598.01ZM46.6 1598.01V1557.53H50.4V1598.01ZM50.4 1598.01V1546.9H54.2V1598.01ZM54.2 1598.01V1515.24H58V1598.01ZM58 1598.01V1490.47H61.8V1598.01ZM61.8 1598.01V1472.59H65.6V1598.01ZM65.6 1598.01V1476.22H69.4V1598.01ZM69.4 1598.01V1493.74H73.2V1598.01ZM73.2 1598.01V1448.06H77V1598.01ZM77 1598.01V1419.96H80.8V1598.01ZM80.8 1598.01V1377.55H84.6V1598.01ZM84.6 1598.01V1409.08H88.4V1598.01ZM88.4 1598.01V1437.72H92.2V1598.01ZM92.2 1598.01V1289.1H96V1598.01ZM96 1598.01V1349.52H99.8V1598.01ZM99.8 1598.01V1402.08H103.6V1598.01ZM103.6 1598.01V1377.55H107.4V1598.01ZM107.4 1598.01V1412.95H111.2V1598.01ZM111.2 1598.01V1405.46H115V1598.01ZM115 1598.01V1398.45H118.8V1598.01ZM118.8 1598.01V1434.1H122.6V1598.01ZM122.6 1598.01V1412.95H126.4V1598.01ZM126.4 1598.01V1405.46H130.2V1598.01ZM130.2 1598.01V1469.38H134V1598.01ZM134 1598.01V1448.23H137.8V1598.01ZM137.8 1598.01V1416.21H141.6V1598.01ZM141.6 1598.01V1444.61H145.4V1598.01ZM145.4 1598.01V1434.1H149.2V1598.01ZM149.2 1598.01V1461.89H153V1598.01ZM153 1598.01V1479.6H156.8V1598.01ZM156.8 1598.01V1493.98H160.6V1598.01ZM160.6 1598.01V1515.24H164.4V1598.01ZM164.4 1598.01V1511.62H168.2V1598.01ZM168.2 1598.01V1511.62H172V1598.01ZM172 1598.01V1529.14H175.8V1598.01ZM175.8 1598.01V1511.62H179.6V1598.01ZM179.6 1598.01V1504.61H183.4V1598.01ZM183.4 1598.01V1522.49H187.2V1598.01ZM187.2 1598.01V1522.49H191V1598.01ZM191 1598.01V1557.53H194.8V1598.01ZM194.8 1598.01V1525.88H198.6V1598.01ZM198.6 1598.01V1536.39H202.4V1598.01ZM202.4 1598.01V1536.39H206.2V1598.01ZM206.2 1598.01V1557.53H210V1598.01ZM210 1598.01V1536.39H213.8V1598.01ZM213.8 1598.01V1571.67H217.6V1598.01ZM217.6 1598.01V1529.14H221.4V1598.01ZM221.4 1598.01V1557.53H225.2V1598.01ZM225.2 1598.01V1564.42H229V1598.01ZM229 1598.01V1564.42H232.8V1598.01ZM232.8 1598.01V1553.91H236.6V1598.01ZM236.6 1598.01V1571.67H240.4V1598.01ZM240.4 1598.01V1564.42H244.2V1598.01ZM244.2 1598.01V1564.42H248V1598.01ZM248 1598.01V1574.93H251.8V1598.01ZM251.8 1598.01V1567.8H255.6V1598.01ZM255.6 1598.01V1567.8H259.4V1598.01ZM259.4 1598.01V1571.67H263.2V1598.01ZM263.2 1598.01V1571.67H267V1598.01ZM267 1598.01V1567.8H270.8V1598.01ZM270.8 1598.01V1553.91H274.6V1598.01ZM274.6 1598.01V1571.67H278.4V1598.01ZM278.4 1598.01V1571.67H282.2V1598.01ZM282.2 1598.01V1578.68H286V1598.01ZM286 1598.01V1571.67H289.8V1598.01ZM289.8 1598.01V1567.8H293.6V1598.01ZM293.6 1598.01V1574.93H297.4V1598.01ZM297.4 1598.01V1567.8H301.2V1598.01ZM301.2 1598.01V1578.68H305V1598.01ZM305 1598.01V1582.18H308.8V1598.01ZM308.8 1598.01V1571.67H312.6V1598.01ZM312.6 1598.01V1574.93H316.4V1598.01ZM316.4 1598.01V1578.68H320.2V1598.01ZM320.2 1598.01V1578.68H324V1598.01ZM324 1598.01V1574.93H327.8V1598.01ZM327.8 1598.01V1571.67H331.6V1598.01ZM331.6 1598.01V1578.68H335.4V1598.01ZM335.4 1598.01V1582.18H339.2V1598.01ZM339.2 1598.01V1578.68H343V1598.01ZM343 1598.01V1574.93H346.8V1598.01ZM346.8 1598.01V1578.68H350.6V1598.01ZM350.6 1598.01V1578.68H354.4V1598.01ZM354.4 1598.01V1574.93H358.2V1598.01ZM358.2 1598.01V1578.68H362V1598.01ZM362 1598.01V1582.18H365.8V1598.01ZM365.8 1598.01V1574.93H369.6V1598.01ZM369.6 1598.01V1582.18H373.4V1598.01ZM373.4 1598.01V1582.18H377.2V1598.01ZM377.2 1598.01V1582.18H381V1598.01ZM381 1598.01V1578.68H384.8V1598.01ZM384.8 1598.01V1582.18H388.6V1598.01ZM388.6 1598.01V1578.68H392.4V1598.01ZM392.4 1598.01V1582.18H396.2V1598.01ZM396.2 1598.01V1564.42H400V1598.01ZM400 1598.01V1582.18H403.8V1598.01ZM403.8 1598.01V1582.18H407.6V1598.01ZM407.6 1598.01V1582.18H411.4V1598.01ZM411.4 1598.01V1582.18H415.2V1598.01ZM415.2 1598.01V1582.18H419V1598.01ZM419 1598.01V1522.13H422.8V1598.01Z"/>
<path class="band" d="M45.53 1548.9 L47.03 1548.71 L48.53 1548.52 L50.03 1548.33 L51.53 1548.13 L53.03 1547.93 L54.53 1547.72 L56.03 1547.51 L57.53 1547.3 L59.03 1547.08 L60.53 1546.86 L62.03 1546.63 L63.53 1546.4 L65.03 1546.17 L66.53 1545.93 L68.03 1545.69 L69.53 1545.45 L71.03 1545.21 L72.53 1544.96 L74.03 1544.71 L75.53 1544.45 L77.03 1544.19 L78.53 1543.92 L80.03 1543.64 L81.53 1543.36 L83.03 1543.07 L84.53 1542.78 L86.03 1542.48 L87.53 1542.16 L89.03 1541.84 L90.53 1541.51 L92.03 1541.17 L93.53 1540.81 L95.03 1540.45 L96.53 1540.07 L98.03 1539.68 L99.53 1539.28 L101.03 1538.87 L102.53 1538.45 L104.03 1538.02 L105.53 1537.58 L107.03 1537.13 L108.53 1536.67 L110.03 1536.2 L111.53 1535.73 L113.03 1535.25 L114.53 1534.76 L115.1 1534.57 L116.6 1533.45 L118.1 1532.32 L119.6 1531.2 L121.1 1530.08 L122.6 1528.96 L124.1 1527.84 L125.6 1526.73 L127.1 1525.62 L128.6 1524.51 L130.1 1523.4 L131.6 1522.3 L133.1 1521.2 L134.6 1520.11 L136.1 1519.02 L137.6 1517.94 L139.1 1516.87 L140.6 1515.8 L142.1 1514.74 L143.6 1513.69 L145.1 1512.64 L146.6 1511.61 L148.1 1510.58 L149.6 1509.57 L151.1 1508.57 L152.6 1507.58 L154.1 1506.61 L155.6 1505.65 L157.1 1504.71 L158.6 1503.79 L160.1 1502.88 L161.6 1501.99 L163.1 1501.12 L164.6 1500.27 L166.1 1499.44 L167.6 1498.62 L169.1 1497.82 L170.6 1497.04 L172.1 1496.27 L173.6 1495.52 L175.1 1494.78 L176.6 1494.06 L178.1 1493.34 L179.6 1492.64 L181.1 1491.95 L182.6 1491.27 L184.1 1490.6 L185.6 1489.94 L187.1 1489.29 L188.6 1488.64 L190.1 1488 L191.6 1487.36 L193.1 1486.73 L194.6 1486.1 L196.1 1485.47 L197.6 1484.84 L199.1 1484.22 L200.6 1483.59 L202.1 1482.97 L203.6 1482.34 L205.1 1481.71 L206.6 1481.07 L208.1 1480.44 L209.6 1479.79 L211.1 1479.15 L212.6 1478.49 L214.1 1477.83 L215.6 1477.16 L217.1 1476.48 L218.6 1475.8 L220.1 1475.11 L221.6 1474.41 L223.1 1473.7 L224.6 1472.98 L226.1 1472.25 L227.6 1471.52 L229.1 1470.77 L230.6 1470.01 L232.1 1469.25 L233.6 1468.47 L235.1 1467.68 L236.6 1466.89 L238.1 1466.08 L239.6 1465.26 L241.1 1464.43 L242.6 1463.6 L244.1 1462.75 L245.6 1461.89 L247.1 1461.02 L248.6 1460.14 L250.1 1459.25 L251.6 1458.36 L253.1 1457.45 L254.6 1456.53 L256.1 1455.6 L257.6 1454.65 L259.1 1453.7 L260.6 1452.74 L262.1 1451.77 L263.6 1450.78 L265.1 1449.79 L266.6 1448.79 L268.1 1447.77 L269.6 1446.75 L271.1 1445.71 L272.6 1444.67 L274.1 1443.61 L275.6 1442.55 L277.1 1441.47 L278.6 1440.39 L280.1 1439.29 L281.6 1438.19 L283.1 1437.08 L284.6 1435.96 L286.1 1434.83 L287.6 1433.69 L289.1 1432.54 L290.6 1431.38 L292.1 1430.21 L293.6 1429.03 L295.1 1427.85 L296.6 1426.65 L298.1 1425.45 L299.6 1424.23 L301.1 1423 L302.6 1421.77 L304.1 1420.52 L305.6 1419.26 L307.1 1417.99 L308.6 1416.71 L310.1 1415.42 L311.6 1414.11 L313.1 1412.8 L314.6 1411.48 L316.1 1410.14 L317.6 1408.8 L319.1 1407.45 L320.6 1406.08 L322.1 1404.71 L323.6 1403.32 L325.1 1401.93 L326.6 1400.53 L328.1 1399.11 L329.6 1397.69 L331.1 1396.26 L332.6 1394.82 L334.1 1393.37 L335.6 1391.9 L337.1 1390.43 L338.6 1388.95 L340.1 1387.46 L341.6 1385.96 L343.1 1384.44 L344.6 1382.92 L346.1 1381.38 L347.6 1379.83 L349.1 1378.27 L350.6 1376.7 L352.1 1375.12 L353.6 1373.52 L355.1 1371.91 L356.6 1370.29 L358.1 1368.66 L359.6 1367.01 L361.1 1365.35 L362.6 1363.68 L364.1 1362 L365.6 1360.3 L367.1 1358.58 L368.6 1356.85 L370.1 1355.11 L371.6 1353.35 L373.1 1351.58 L374.6 1349.79 L376.1 1347.99 L377.6 1346.17 L379.1 1344.33 L380.6 1342.48 L382.1 1340.62 L383.6 1338.73 L385.1 1336.84 L386.6 1334.92 L388.1 1332.99 L389.6 1331.05 L391.1 1329.09 L392.6 1327.12 L394.1 1325.13 L395.6 1323.13 L397.1 1321.11 L398.6 1319.08 L400.1 1317.04 L401.6 1314.98 L403.1 1312.92 L404.6 1310.83 L406.1 1308.74 L407.6 1306.64 L409.1 1304.53 L410.6 1302.42 L412.1 1300.29 L413.6 1298.17 L415.1 1296.03 L416.6 1293.9 L418.1 1291.76 L419.49 1289.78 L419.49 1522.81 L418.1 1522.76 L416.6 1522.71 L415.1 1522.66 L413.6 1522.62 L412.1 1522.57 L410.6 1522.52 L409.1 1522.47 L407.6 1522.42 L406.1 1522.37 L404.6 1522.33 L403.1 1522.28 L401.6 1522.23 L400.1 1522.18 L398.6 1522.13 L397.1 1522.08 L395.6 1522.03 L394.1 1521.99 L392.6 1521.94 L391.1 1521.89 L389.6 1521.84 L388.1 1521.79 L386.6 1521.74 L385.1 1521.69 L383.6 1521.65 L382.1 1521.6 L380.6 1521.55 L379.1 1521.5 L377.6 1521.45 L376.1 1521.4 L374.6 1521.35 L373.1 1521.3 L371.6 1521.26 L370.1 1521.21 L368.6 1521.16 L367.1 1521.11 L365.6 1521.06 L364.1 1521.01 L362.6 1520.97 L361.1 1520.92 L359.6 1520.87 L358.1 1520.82 L356.6 1520.78 L355.1 1520.73 L353.6 1520.68 L352.1 1520.64 L350.6 1520.59 L349.1 1520.54 L347.6 1520.5 L346.1 1520.45 L344.6 1520.41 L343.1 1520.36 L341.6 1520.32 L340.1 1520.28 L338.6 1520.23 L337.1 1520.19 L335.6 1520.15 L334.1 1520.1 L332.6 1520.06 L331.1 1520.02 L329.6 1519.98 L328.1 1519.94 L326.6 1519.9 L325.1 1519.86 L323.6 1519.82 L322.1 1519.78 L320.6 1519.75 L319.1 1519.71 L317.6 1519.67 L316.1 1519.64 L314.6 1519.61 L313.1 1519.57 L311.6 1519.54 L310.1 1519.51 L308.6 1519.48 L307.1 1519.44 L305.6 1519.42 L304.1 1519.39 L302.6 1519.36 L301.1 1519.33 L299.6 1519.31 L298.1 1519.28 L296.6 1519.26 L295.1 1519.24 L293.6 1519.21 L292.1 1519.19 L290.6 1519.17 L289.1 1519.16 L287.6 1519.14 L286.1 1519.12 L284.6 1519.11 L283.1 1519.1 L281.6 1519.08 L280.1 1519.07 L278.6 1519.06 L277.1 1519.06 L275.6 1519.05 L274.1 1519.04 L272.6 1519.04 L271.1 1519.04 L269.6 1519.04 L268.1 1519.04 L266.6 1519.04 L265.1 1519.04 L263.6 1519.05 L262.1 1519.06 L260.6 1519.07 L259.1 1519.08 L257.6 1519.09 L256.1 1519.1 L254.6 1519.12 L253.1 1519.14 L251.6 1519.16 L250.1 1519.18 L248.6 1519.21 L247.1 1519.23 L245.6 1519.26 L244.1 1519.29 L242.6 1519.33 L241.1 1519.36 L239.6 1519.4 L238.1 1519.44 L236.6 1519.49 L235.1 1519.53 L233.6 1519.58 L232.1 1519.63 L230.6 1519.69 L229.1 1519.75 L227.6 1519.81 L226.1 1519.87 L224.6 1519.94 L223.1 1520.01 L221.6 1520.08 L220.1 1520.15 L218.6 1520.23 L217.1 1520.32 L215.6 1520.4 L214.1 1520.49 L212.6 1520.59 L211.1 1520.68 L209.6 1520.79 L208.1 1520.89 L206.6 1521 L205.1 1521.11 L203.6 1521.23 L202.1 1521.35 L200.6 1521.47 L199.1 1521.6 L197.6 1521.73 L196.1 1521.87 L194.6 1522.01 L193.1 1522.16 L191.6 1522.31 L190.1 1522.47 L188.6 1522.63 L187.1 1522.79 L185.6 1522.96 L184.1 1523.13 L182.6 1523.31 L181.1 1523.49 L179.6 1523.68 L178.1 1523.87 L176.6 1524.07 L175.1 1524.27 L173.6 1524.47 L172.1 1524.68 L170.6 1524.9 L169.1 1525.12 L167.6 1525.34 L166.1 1525.57 L164.6 1525.81 L163.1 1526.04 L161.6 1526.29 L160.1 1526.53 L158.6 1526.79 L157.1 1527.04 L155.6 1527.3 L154.1 1527.57 L152.6 1527.84 L151.1 1528.11 L149.6 1528.39 L148.1 1528.67 L146.6 1528.95 L145.1 1529.24 L143.6 1529.54 L142.1 1529.83 L140.6 1530.13 L139.1 1530.44 L137.6 1530.74 L136.1 1531.05 L134.6 1531.36 L133.1 1531.68 L131.6 1532 L130.1 1532.32 L128.6 1532.64 L127.1 1532.96 L125.6 1533.29 L124.1 1533.62 L122.6 1533.94 L121.1 1534.27 L119.6 1534.6 L118.1 1534.93 L116.6 1535.26 L115.1 1535.6 L114.53 1536.22 L113.03 1537.83 L111.53 1539.41 L110.03 1540.98 L108.53 1542.52 L107.03 1544.03 L105.53 1545.52 L104.03 1546.99 L102.53 1548.42 L101.03 1549.83 L99.53 1551.22 L98.03 1552.57 L96.53 1553.89 L95.03 1555.18 L93.53 1556.44 L92.03 1557.67 L90.53 1558.86 L89.03 1560.02 L87.53 1561.17 L86.03 1562.3 L84.53 1563.43 L83.03 1564.54 L81.53 1565.64 L80.03 1566.71 L78.53 1567.76 L77.03 1568.79 L75.53 1569.79 L74.03 1570.75 L72.53 1571.69 L71.03 1572.59 L69.53 1573.45 L68.03 1574.27 L66.53 1575.04 L65.03 1575.77 L63.53 1576.45 L62.03 1577.1 L60.53 1577.74 L59.03 1578.35 L57.53 1578.95 L56.03 1579.51 L54.53 1580.05 L53.03 1580.57 L51.53 1581.05 L50.03 1581.5 L48.53 1581.92 L47.03 1582.31 L45.53 1582.66Z"/>
<line class="hl" x1="23.79" x2="441.74" y1="1535.08" y2="1535.08"/>
<path class="cv" d="M45.53 1570.38 L47.03 1569.75 L48.53 1569.13 L50.03 1568.5 L51.53 1567.86 L53.03 1567.23 L54.53 1566.59 L56.03 1565.95 L57.53 1565.3 L59.03 1564.65 L60.53 1563.99 L62.03 1563.33 L63.53 1562.66 L65.03 1561.98 L66.53 1561.29 L68.03 1560.59 L69.53 1559.89 L71.03 1559.18 L72.53 1558.46 L74.03 1557.73 L75.53 1556.99 L77.03 1556.25 L78.53 1555.5 L80.03 1554.74 L81.53 1553.98 L83.03 1553.21 L84.53 1552.43 L86.03 1551.64 L87.53 1550.85 L89.03 1550.05 L90.53 1549.24 L92.03 1548.43 L93.53 1547.61 L95.03 1546.79 L96.53 1545.96 L98.03 1545.13 L99.53 1544.3 L101.03 1543.47 L102.53 1542.64 L104.03 1541.8 L105.53 1540.97 L107.03 1540.14 L108.53 1539.31 L110.03 1538.48 L111.53 1537.66 L113.03 1536.85 L114.53 1536.03 L116.03 1535.23 L117.53 1534.43 L119.03 1533.64 L120.53 1532.86 L122.03 1532.08 L123.53 1531.31 L125.03 1530.55 L126.53 1529.8 L128.03 1529.05 L129.53 1528.32 L131.03 1527.59 L132.53 1526.88 L134.03 1526.17 L135.53 1525.48 L137.03 1524.79 L138.53 1524.11 L140.03 1523.45 L141.53 1522.8 L143.03 1522.15 L144.53 1521.52 L146.03 1520.9 L147.53 1520.29 L149.03 1519.69 L150.53 1519.1 L152.03 1518.52 L153.53 1517.94 L155.03 1517.38 L156.53 1516.83 L158.03 1516.28 L159.53 1515.75 L161.03 1515.22 L162.53 1514.7 L164.03 1514.19 L165.53 1513.69 L167.03 1513.19 L168.53 1512.7 L170.03 1512.22 L171.53 1511.75 L173.03 1511.28 L174.53 1510.82 L176.03 1510.36 L177.53 1509.92 L179.03 1509.48 L180.53 1509.04 L182.03 1508.61 L183.53 1508.19 L185.03 1507.77 L186.53 1507.36 L188.03 1506.95 L189.53 1506.54 L191.03 1506.15 L192.53 1505.75 L194.03 1505.36 L195.53 1504.98 L197.03 1504.6 L198.53 1504.22 L200.03 1503.85 L201.53 1503.48 L203.03 1503.11 L204.53 1502.75 L206.03 1502.39 L207.53 1502.03 L209.03 1501.68 L210.53 1501.32 L212.03 1500.97 L213.53 1500.63 L215.03 1500.28 L216.53 1499.94 L218.03 1499.59 L219.53 1499.25 L221.03 1498.91 L222.53 1498.57 L224.03 1498.23 L225.53 1497.89 L227.03 1497.56 L228.53 1497.22 L230.03 1496.88 L231.53 1496.54 L233.03 1496.2 L234.53 1495.86 L236.03 1495.53 L237.53 1495.19 L239.03 1494.85 L240.53 1494.51 L242.03 1494.16 L243.53 1493.82 L245.03 1493.48 L246.53 1493.13 L248.03 1492.79 L249.53 1492.44 L251.03 1492.09 L252.53 1491.74 L254.03 1491.39 L255.53 1491.04 L257.03 1490.69 L258.53 1490.33 L260.03 1489.97 L261.53 1489.61 L263.03 1489.25 L264.53 1488.89 L266.03 1488.52 L267.53 1488.16 L269.03 1487.79 L270.53 1487.42 L272.03 1487.04 L273.53 1486.66 L275.03 1486.28 L276.53 1485.9 L278.03 1485.52 L279.53 1485.13 L281.03 1484.75 L282.53 1484.35 L284.03 1483.96 L285.53 1483.57 L287.03 1483.17 L288.53 1482.77 L290.03 1482.37 L291.53 1481.96 L293.03 1481.56 L294.53 1481.15 L296.03 1480.74 L297.53 1480.33 L299.03 1479.91 L300.53 1479.49 L302.03 1479.08 L303.53 1478.65 L305.03 1478.23 L306.53 1477.8 L308.03 1477.38 L309.53 1476.95 L311.03 1476.52 L312.53 1476.08 L314.03 1475.65 L315.53 1475.21 L317.03 1474.77 L318.53 1474.33 L320.03 1473.89 L321.53 1473.44 L323.03 1473 L324.53 1472.56 L326.03 1472.11 L327.53 1471.66 L329.03 1471.21 L330.53 1470.76 L332.03 1470.31 L333.53 1469.86 L335.03 1469.41 L336.53 1468.96 L338.03 1468.51 L339.53 1468.05 L341.03 1467.6 L342.53 1467.15 L344.03 1466.7 L345.53 1466.24 L347.03 1465.79 L348.53 1465.34 L350.03 1464.89 L351.53 1464.43 L353.03 1463.98 L354.53 1463.53 L356.03 1463.08 L357.53 1462.63 L359.03 1462.18 L360.53 1461.73 L362.03 1461.28 L363.53 1460.84 L365.03 1460.39 L366.53 1459.95 L368.03 1459.5 L369.53 1459.06 L371.03 1458.62 L372.53 1458.18 L374.03 1457.74 L375.53 1457.3 L377.03 1456.86 L378.53 1456.43 L380.03 1455.99 L381.53 1455.56 L383.03 1455.13 L384.53 1454.7 L386.03 1454.28 L387.53 1453.85 L389.03 1453.43 L390.53 1453.01 L392.03 1452.58 L393.53 1452.17 L395.03 1451.75 L396.53 1451.33 L398.03 1450.91 L399.53 1450.5 L401.03 1450.09 L402.53 1449.67 L404.03 1449.26 L405.53 1448.85 L407.03 1448.44 L408.53 1448.03 L410.03 1447.62 L411.53 1447.21 L413.03 1446.8 L414.53 1446.4 L416.03 1445.99 L417.53 1445.58 L419.03 1445.17 L419.49 1445.05"/>
</g>
<text class="an" transform="translate(238.39 1354.53) scale(1 1.075)" style="font-size:10.8px">P for overall&lt;0.001</text>
<text class="an" transform="translate(238.39 1365.53) scale(1 1.075)" style="font-size:10.8px">P for nonlinear = 0.062</text>
<rect class="fr" x="23.79" y="1273.92" width="417.96" height="338.92"/>
<text class="tk" text-anchor="end" transform="translate(20.49 1287.82) scale(1 1.075)" style="font-size:10.8px">5</text>
<text class="tk" text-anchor="end" transform="translate(20.49 1350.74) scale(1 1.075)" style="font-size:10.8px">4</text>
<text class="tk" text-anchor="end" transform="translate(20.49 1413.66) scale(1 1.075)" style="font-size:10.8px">3</text>
<text class="tk" text-anchor="end" transform="translate(20.49 1476.59) scale(1 1.075)" style="font-size:10.8px">2</text>
<text class="tk" text-anchor="end" transform="translate(20.49 1539.51) scale(1 1.075)" style="font-size:10.8px">1</text>
<text class="tk" text-anchor="end" transform="translate(20.49 1602.44) scale(1 1.075)" style="font-size:10.8px">0</text>
<text class="tk" transform="translate(445.04 1617.27) scale(1 1.075)" style="font-size:10.8px">0.00</text>
<text class="tk" transform="translate(445.04 1532.54) scale(1 1.075)" style="font-size:10.8px">0.25</text>
<text class="tk" transform="translate(445.04 1447.81) scale(1 1.075)" style="font-size:10.8px">0.50</text>
<text class="tk" transform="translate(445.04 1363.08) scale(1 1.075)" style="font-size:10.8px">0.75</text>
<text class="tk" transform="translate(445.04 1278.35) scale(1 1.075)" style="font-size:10.8px">1.00</text>
<text class="tk" text-anchor="middle" transform="translate(67.78 1625.64) scale(1 1.075)" style="font-size:10.8px">12.5</text>
<text class="tk" text-anchor="middle" transform="translate(162.94 1625.64) scale(1 1.075)" style="font-size:10.8px">15.0</text>
<text class="tk" text-anchor="middle" transform="translate(257.83 1625.64) scale(1 1.075)" style="font-size:10.8px">17.5</text>
<text class="tk" text-anchor="middle" transform="translate(352.99 1625.64) scale(1 1.075)" style="font-size:10.8px">20.0</text>
<path class="tm" d="M23.79 1283.39H21.79M23.79 1346.31H21.79M23.79 1409.24H21.79M23.79 1472.16H21.79M23.79 1535.08H21.79M23.79 1598.01H21.79M441.74 1612.84H443.74M441.74 1528.11H443.74M441.74 1443.38H443.74M441.74 1358.65H443.74M441.74 1273.92H443.74M67.78 1612.84V1614.84M162.94 1612.84V1614.84M257.83 1612.84V1614.84M352.99 1612.84V1614.84"/>
<text class="al" text-anchor="middle" transform="translate(232.25 1636.89) scale(1 1.075)" style="font-size:10.2px">rdw</text>
<text class="al" text-anchor="middle" transform="translate(11.25 1443.26) rotate(-90) scale(1.075 1)" style="font-size:10.2px">HR(95%CI)</text>
<text class="al" text-anchor="middle" transform="translate(468.07 1443.26) rotate(90) scale(1.075 1)" style="font-size:10.2px">Density</text>
</g>
<g class="panel">
<text class="ttl" transform="translate(505.07 1268.34) scale(1 1.075)" style="font-size:9.25px">The relationship between the variable and the predicted probability</text>
<clipPath id="cb6"><rect x="505.07" y="1273.92" width="417.7" height="339.94"/></clipPath>
<g clip-path="url(#cb6)">
<path class="bar" style="stroke-width:0.6" d="M523.74 1598.77V1511.09H526.37V1598.77ZM526.37 1598.77V1426.38H528.99V1598.77ZM528.99 1598.77V1357.45H531.62V1598.77ZM531.62 1598.77V1288.98H534.25V1598.77ZM534.25 1598.77V1302.26H536.87V1598.77ZM536.87 1598.77V1322.23H539.5V1598.77ZM539.5 1598.77V1337.47H542.13V1598.77ZM542.13 1598.77V1346.71H544.75V1598.77ZM544.75 1598.77V1379.85H547.38V1598.77ZM547.38 1598.77V1390.59H550.01V1598.77ZM550.01 1598.77V1395.21H552.63V1598.77ZM552.63 1598.77V1439.89H555.26V1598.77ZM555.26 1598.77V1450.98H557.89V1598.77ZM557.89 1598.77V1437.7H560.51V1598.77ZM560.51 1598.77V1442.2H563.14V1598.77ZM563.14 1598.77V1489.15H565.77V1598.77ZM565.77 1598.77V1475.64H568.39V1598.77ZM568.39 1598.77V1484.77H571.02V1598.77ZM571.02 1598.77V1482.46H573.65V1598.77ZM573.65 1598.77V1477.84H576.27V1598.77ZM576.27 1598.77V1473.22H578.9V1598.77ZM578.9 1598.77V1499.55H581.53V1598.77ZM581.53 1598.77V1519.52H584.15V1598.77ZM584.15 1598.77V1497.47H586.78V1598.77ZM586.78 1598.77V1513.06H589.41V1598.77ZM589.41 1598.77V1517.44H592.03V1598.77ZM592.03 1598.77V1539.61H594.66V1598.77ZM594.66 1598.77V1517.44H597.29V1598.77ZM597.29 1598.77V1530.72H599.91V1598.77ZM599.91 1598.77V1530.72H602.54V1598.77ZM602.54 1598.77V1535.11H605.17V1598.77ZM605.17 1598.77V1539.61H607.79V1598.77ZM607.79 1598.77V1537.42H610.42V1598.77ZM610.42 1598.77V1530.72H613.05V1598.77ZM613.05 1598.77V1533.03H615.67V1598.77ZM615.67 1598.77V1524.14H618.3V1598.77ZM618.3 1598.77V1530.72H620.93V1598.77ZM620.93 1598.77V1537.42H623.55V1598.77ZM623.55 1598.77V1544H626.18V1598.77ZM626.18 1598.77V1537.42H628.81V1598.77ZM628.81 1598.77V1537.42H631.43V1598.77ZM631.43 1598.77V1537.42H634.06V1598.77ZM634.06 1598.77V1528.41H636.69V1598.77ZM636.69 1598.77V1533.03H639.31V1598.77ZM639.31 1598.77V1539.61H641.94V1598.77ZM641.94 1598.77V1539.61H644.57V1598.77ZM644.57 1598.77V1535.11H647.19V1598.77ZM647.19 1598.77V1533.03H649.82V1598.77ZM649.82 1598.77V1539.61H652.45V1598.77ZM652.45 1598.77V1539.61H655.07V1598.77ZM655.07 1598.77V1546.31H657.7V1598.77ZM657.7 1598.77V1541.69H660.33V1598.77ZM660.33 1598.77V1539.61H662.95V1598.77ZM662.95 1598.77V1539.61H665.58V1598.77ZM665.58 1598.77V1546.31H668.21V1598.77ZM668.21 1598.77V1541.69H670.83V1598.77ZM670.83 1598.77V1544H673.46V1598.77ZM673.46 1598.77V1539.61H676.09V1598.77ZM676.09 1598.77V1546.31H678.71V1598.77ZM678.71 1598.77V1541.69H681.34V1598.77ZM681.34 1598.77V1541.69H683.97V1598.77ZM683.97 1598.77V1546.31H686.59V1598.77ZM686.59 1598.77V1544H689.22V1598.77ZM689.22 1598.77V1546.31H691.85V1598.77ZM691.85 1598.77V1539.61H694.47V1598.77ZM694.47 1598.77V1541.69H697.1V1598.77ZM697.1 1598.77V1544H699.73V1598.77ZM699.73 1598.77V1546.31H702.35V1598.77ZM702.35 1598.77V1539.61H704.98V1598.77ZM704.98 1598.77V1548.62H707.61V1598.77ZM707.61 1598.77V1546.31H710.23V1598.77ZM710.23 1598.77V1546.31H712.86V1598.77ZM712.86 1598.77V1548.62H715.49V1598.77ZM715.49 1598.77V1546.31H718.11V1598.77ZM718.11 1598.77V1546.31H720.74V1598.77ZM720.74 1598.77V1548.62H723.37V1598.77ZM723.37 1598.77V1546.31H725.99V1598.77ZM725.99 1598.77V1548.62H728.62V1598.77ZM728.62 1598.77V1548.62H731.25V1598.77ZM731.25 1598.77V1544H733.87V1598.77ZM733.87 1598.77V1544H736.5V1598.77ZM736.5 1598.77V1541.69H739.13V1598.77ZM739.13 1598.77V1546.89H741.75V1598.77ZM741.75 1598.77V1546.89H744.38V1598.77ZM744.38 1598.77V1546.89H747.01V1598.77ZM747.01 1598.77V1546.89H749.63V1598.77ZM749.63 1598.77V1544H752.26V1598.77ZM752.26 1598.77V1544H754.89V1598.77ZM754.89 1598.77V1548.62H757.51V1598.77ZM757.51 1598.77V1548.62H760.14V1598.77ZM760.14 1598.77V1548.62H762.77V1598.77ZM762.77 1598.77V1548.62H765.39V1598.77ZM765.39 1598.77V1544H768.02V1598.77ZM768.02 1598.77V1548.62H770.65V1598.77ZM770.65 1598.77V1546.31H773.27V1598.77ZM773.27 1598.77V1548.62H775.9V1598.77ZM775.9 1598.77V1548.62H778.53V1598.77ZM778.53 1598.77V1548.62H781.15V1598.77ZM781.15 1598.77V1548.62H783.78V1598.77ZM783.78 1598.77V1546.31H786.41V1598.77ZM786.41 1598.77V1546.31H789.03V1598.77ZM789.03 1598.77V1548.62H791.66V1598.77ZM791.66 1598.77V1546.31H794.29V1598.77ZM794.29 1598.77V1546.31H796.91V1598.77ZM796.91 1598.77V1548.62H799.54V1598.77ZM799.54 1598.77V1546.31H802.17V1598.77ZM802.17 1598.77V1548.62H804.79V1598.77ZM804.79 1598.77V1541.69H807.42V1598.77ZM807.42 1598.77V1548.62H810.05V1598.77ZM810.05 1598.77V1548.62H812.67V1598.77ZM812.67 1598.77V1548.62H815.3V1598.77ZM815.3 1598.77V1546.31H817.93V1598.77ZM817.93 1598.77V1548.62H820.55V1598.77ZM820.55 1598.77V1548.62H823.18V1598.77ZM823.18 1598.77V1548.62H825.81V1598.77ZM825.81 1598.77V1548.62H828.43V1598.77ZM828.43 1598.77V1548.62H831.06V1598.77ZM831.06 1598.77V1548.62H833.69V1598.77ZM833.69 1598.77V1548.62H836.31V1598.77ZM836.31 1598.77V1548.62H838.94V1598.77ZM838.94 1598.77V1546.31H841.57V1598.77ZM841.57 1598.77V1548.62H844.19V1598.77ZM844.19 1598.77V1546.31H846.82V1598.77ZM846.82 1598.77V1548.62H849.45V1598.77ZM849.45 1598.77V1548.62H852.07V1598.77ZM852.07 1598.77V1546.31H854.7V1598.77ZM854.7 1598.77V1548.62H857.33V1598.77ZM857.33 1598.77V1548.62H859.95V1598.77ZM859.95 1598.77V1548.62H862.58V1598.77ZM862.58 1598.77V1546.31H865.21V1598.77ZM865.21 1598.77V1548.62H867.83V1598.77ZM867.83 1598.77V1548.62H870.46V1598.77ZM870.46 1598.77V1546.31H873.09V1598.77ZM873.09 1598.77V1548.62H875.71V1598.77ZM875.71 1598.77V1548.62H878.34V1598.77ZM878.34 1598.77V1548.62H880.97V1598.77ZM880.97 1598.77V1546.31H883.59V1598.77ZM883.59 1598.77V1546.31H886.22V1598.77ZM886.22 1598.77V1548.62H888.85V1598.77ZM888.85 1598.77V1548.62H891.47V1598.77ZM891.47 1598.77V1548.62H894.1V1598.77ZM894.1 1598.77V1548.62H896.73V1598.77ZM896.73 1598.77V1546.31H899.35V1598.77ZM899.35 1598.77V1548.62H901.98V1598.77ZM901.98 1598.77V1511.09H904.61V1598.77Z"/>
<path class="band" d="M526.04 1519.99 L527.54 1519.82 L529.04 1519.6 L530.54 1519.35 L532.04 1519.06 L533.54 1518.74 L535.04 1518.4 L536.54 1518.03 L538.04 1517.64 L539.54 1517.24 L541.04 1516.78 L542.54 1516.28 L544.04 1515.72 L545.54 1515.12 L547.04 1514.48 L548.54 1513.8 L550.04 1513.09 L551.54 1512.36 L551.62 1512.32 L553.12 1509.97 L554.62 1507.62 L556.12 1505.28 L557.62 1502.95 L559.12 1500.64 L560.62 1498.35 L562.12 1496.08 L563.62 1493.83 L565.12 1491.62 L566.62 1489.44 L568.12 1487.3 L569.62 1485.21 L571.12 1483.17 L572.62 1481.19 L574.12 1479.28 L575.62 1477.43 L577.12 1475.66 L578.62 1473.97 L580.12 1472.36 L581.62 1470.83 L583.12 1469.38 L584.62 1468.02 L586.12 1466.73 L587.62 1465.52 L589.12 1464.38 L590.62 1463.33 L592.12 1462.35 L593.62 1461.44 L595.12 1460.6 L596.62 1459.82 L598.12 1459.11 L599.62 1458.46 L601.12 1457.86 L602.62 1457.31 L604.12 1456.81 L605.62 1456.35 L607.12 1455.93 L608.62 1455.55 L610.12 1455.2 L611.62 1454.88 L613.12 1454.58 L614.62 1454.3 L616.12 1454.04 L617.62 1453.79 L619.12 1453.56 L620.62 1453.33 L622.12 1453.11 L623.62 1452.9 L625.12 1452.69 L626.62 1452.48 L628.12 1452.27 L629.62 1452.06 L631.12 1451.84 L632.62 1451.62 L634.12 1451.39 L635.62 1451.15 L637.12 1450.9 L638.62 1450.65 L640.12 1450.39 L641.62 1450.12 L643.12 1449.84 L644.62 1449.55 L646.12 1449.25 L647.62 1448.95 L649.12 1448.63 L650.62 1448.31 L652.12 1447.97 L653.62 1447.63 L655.12 1447.28 L656.62 1446.92 L658.12 1446.55 L659.62 1446.17 L661.12 1445.78 L662.62 1445.39 L664.12 1444.98 L665.62 1444.57 L667.12 1444.15 L668.62 1443.72 L670.12 1443.29 L671.62 1442.84 L673.12 1442.39 L674.62 1441.93 L676.12 1441.46 L677.62 1440.98 L679.12 1440.49 L680.62 1440 L682.12 1439.49 L683.62 1438.98 L685.12 1438.45 L686.62 1437.92 L688.12 1437.38 L689.62 1436.83 L691.12 1436.27 L692.62 1435.71 L694.12 1435.13 L695.62 1434.55 L697.12 1433.96 L698.62 1433.36 L700.12 1432.75 L701.62 1432.13 L703.12 1431.51 L704.62 1430.87 L706.12 1430.23 L707.62 1429.58 L709.12 1428.91 L710.62 1428.24 L712.12 1427.56 L713.62 1426.87 L715.12 1426.17 L716.62 1425.46 L718.12 1424.74 L719.62 1424.01 L721.12 1423.27 L722.62 1422.52 L724.12 1421.76 L725.62 1420.99 L727.12 1420.21 L728.62 1419.42 L730.12 1418.63 L731.62 1417.83 L733.12 1417.01 L734.62 1416.19 L736.12 1415.37 L737.62 1414.53 L739.12 1413.7 L740.62 1412.85 L742.12 1412.01 L743.62 1411.16 L745.12 1410.31 L746.62 1409.45 L748.12 1408.59 L749.62 1407.73 L751.12 1406.86 L752.62 1406 L754.12 1405.12 L755.62 1404.25 L757.12 1403.36 L758.62 1402.48 L760.12 1401.59 L761.62 1400.69 L763.12 1399.79 L764.62 1398.89 L766.12 1397.98 L767.62 1397.06 L769.12 1396.14 L770.62 1395.21 L772.12 1394.27 L773.62 1393.33 L775.12 1392.38 L776.62 1391.43 L778.12 1390.47 L779.62 1389.5 L781.12 1388.52 L782.62 1387.54 L784.12 1386.55 L785.62 1385.56 L787.12 1384.56 L788.62 1383.55 L790.12 1382.53 L791.62 1381.51 L793.12 1380.49 L794.62 1379.45 L796.12 1378.42 L797.62 1377.37 L799.12 1376.32 L800.62 1375.27 L802.12 1374.21 L803.62 1373.14 L805.12 1372.07 L806.62 1371 L808.12 1369.92 L809.62 1368.83 L811.12 1367.74 L812.62 1366.64 L814.12 1365.54 L815.62 1364.44 L817.12 1363.33 L818.62 1362.21 L820.12 1361.09 L821.62 1359.96 L823.12 1358.83 L824.62 1357.7 L826.12 1356.55 L827.62 1355.41 L829.12 1354.25 L830.62 1353.09 L832.12 1351.93 L833.62 1350.76 L835.12 1349.58 L836.62 1348.4 L838.12 1347.21 L839.62 1346.01 L841.12 1344.81 L842.62 1343.61 L844.12 1342.39 L845.62 1341.17 L847.12 1339.95 L848.62 1338.72 L850.12 1337.48 L851.62 1336.24 L853.12 1334.99 L854.62 1333.73 L856.12 1332.47 L857.62 1331.2 L859.12 1329.93 L860.62 1328.65 L862.12 1327.36 L863.62 1326.07 L865.12 1324.77 L866.62 1323.47 L868.12 1322.16 L869.62 1320.85 L871.12 1319.53 L872.62 1318.2 L874.12 1316.87 L875.62 1315.53 L877.12 1314.19 L878.62 1312.84 L880.12 1311.48 L881.62 1310.12 L883.12 1308.76 L884.62 1307.39 L886.12 1306.02 L887.62 1304.65 L889.12 1303.27 L890.62 1301.89 L892.12 1300.51 L893.62 1299.12 L895.12 1297.73 L896.62 1296.34 L898.12 1294.95 L899.62 1293.56 L901.12 1292.17 L902.62 1290.77 L903.17 1290.26 L903.33 1525.11 L902.62 1525.06 L901.12 1524.96 L899.62 1524.85 L898.12 1524.75 L896.62 1524.65 L895.12 1524.54 L893.62 1524.44 L892.12 1524.34 L890.62 1524.23 L889.12 1524.13 L887.62 1524.02 L886.12 1523.92 L884.62 1523.81 L883.12 1523.71 L881.62 1523.6 L880.12 1523.49 L878.62 1523.39 L877.12 1523.28 L875.62 1523.17 L874.12 1523.06 L872.62 1522.95 L871.12 1522.84 L869.62 1522.73 L868.12 1522.62 L866.62 1522.5 L865.12 1522.39 L863.62 1522.27 L862.12 1522.16 L860.62 1522.04 L859.12 1521.92 L857.62 1521.8 L856.12 1521.68 L854.62 1521.56 L853.12 1521.44 L851.62 1521.32 L850.12 1521.19 L848.62 1521.07 L847.12 1520.94 L845.62 1520.81 L844.12 1520.68 L842.62 1520.55 L841.12 1520.42 L839.62 1520.29 L838.12 1520.16 L836.62 1520.02 L835.12 1519.88 L833.62 1519.75 L832.12 1519.61 L830.62 1519.47 L829.12 1519.33 L827.62 1519.19 L826.12 1519.04 L824.62 1518.9 L823.12 1518.75 L821.62 1518.61 L820.12 1518.46 L818.62 1518.31 L817.12 1518.16 L815.62 1518.01 L814.12 1517.86 L812.62 1517.7 L811.12 1517.55 L809.62 1517.4 L808.12 1517.24 L806.62 1517.08 L805.12 1516.92 L803.62 1516.77 L802.12 1516.61 L800.62 1516.45 L799.12 1516.28 L797.62 1516.12 L796.12 1515.96 L794.62 1515.8 L793.12 1515.63 L791.62 1515.47 L790.12 1515.3 L788.62 1515.14 L787.12 1514.97 L785.62 1514.8 L784.12 1514.63 L782.62 1514.47 L781.12 1514.3 L779.62 1514.13 L778.12 1513.96 L776.62 1513.79 L775.12 1513.62 L773.62 1513.45 L772.12 1513.28 L770.62 1513.11 L769.12 1512.94 L767.62 1512.77 L766.12 1512.6 L764.62 1512.43 L763.12 1512.26 L761.62 1512.09 L760.12 1511.92 L758.62 1511.75 L757.12 1511.58 L755.62 1511.41 L754.12 1511.25 L752.62 1511.08 L751.12 1510.91 L749.62 1510.75 L748.12 1510.58 L746.62 1510.42 L745.12 1510.25 L743.62 1510.09 L742.12 1509.93 L740.62 1509.77 L739.12 1509.61 L737.62 1509.45 L736.12 1509.29 L734.62 1509.14 L733.12 1508.98 L731.62 1508.83 L730.12 1508.68 L728.62 1508.53 L727.12 1508.38 L725.62 1508.23 L724.12 1508.09 L722.62 1507.94 L721.12 1507.8 L719.62 1507.66 L718.12 1507.53 L716.62 1507.39 L715.12 1507.26 L713.62 1507.13 L712.12 1507 L710.62 1506.87 L709.12 1506.75 L707.62 1506.63 L706.12 1506.51 L704.62 1506.39 L703.12 1506.28 L701.62 1506.17 L700.12 1506.06 L698.62 1505.95 L697.12 1505.85 L695.62 1505.75 L694.12 1505.65 L692.62 1505.56 L691.12 1505.47 L689.62 1505.38 L688.12 1505.3 L686.62 1505.22 L685.12 1505.14 L683.62 1505.06 L682.12 1504.99 L680.62 1504.92 L679.12 1504.86 L677.62 1504.8 L676.12 1504.74 L674.62 1504.69 L673.12 1504.63 L671.62 1504.59 L670.12 1504.54 L668.62 1504.51 L667.12 1504.47 L665.62 1504.44 L664.12 1504.41 L662.62 1504.39 L661.12 1504.37 L659.62 1504.35 L658.12 1504.34 L656.62 1504.33 L655.12 1504.32 L653.62 1504.32 L652.12 1504.33 L650.62 1504.33 L649.12 1504.35 L647.62 1504.36 L646.12 1504.38 L644.62 1504.41 L643.12 1504.44 L641.62 1504.47 L640.12 1504.51 L638.62 1504.55 L637.12 1504.59 L635.62 1504.64 L634.12 1504.7 L632.62 1504.76 L631.12 1504.82 L629.62 1504.89 L628.12 1504.96 L626.62 1505.04 L625.12 1505.12 L623.62 1505.21 L622.12 1505.3 L620.62 1505.39 L619.12 1505.49 L617.62 1505.59 L616.12 1505.7 L614.62 1505.82 L613.12 1505.93 L611.62 1506.06 L610.12 1506.19 L608.62 1506.32 L607.12 1506.45 L605.62 1506.6 L604.12 1506.74 L602.62 1506.89 L601.12 1507.05 L599.62 1507.21 L598.12 1507.37 L596.62 1507.54 L595.12 1507.72 L593.62 1507.9 L592.12 1508.08 L590.62 1508.27 L589.12 1508.46 L587.62 1508.65 L586.12 1508.85 L584.62 1509.06 L583.12 1509.27 L581.62 1509.48 L580.12 1509.7 L578.62 1509.92 L577.12 1510.14 L575.62 1510.37 L574.12 1510.6 L572.62 1510.84 L571.12 1511.07 L569.62 1511.32 L568.12 1511.56 L566.62 1511.81 L565.12 1512.05 L563.62 1512.3 L562.12 1512.56 L560.62 1512.81 L559.12 1513.07 L557.62 1513.33 L556.12 1513.59 L554.62 1513.84 L553.12 1514.1 L551.62 1514.36 L551.54 1514.46 L550.04 1516.25 L548.54 1518.07 L547.04 1519.9 L545.54 1521.75 L544.04 1523.61 L542.54 1525.49 L541.04 1527.39 L539.54 1529.31 L538.04 1531.24 L536.54 1533.19 L535.04 1535.16 L533.54 1537.15 L532.04 1539.16 L530.54 1541.18 L529.04 1543.23 L527.54 1545.28 L526.04 1547.36Z"/>
<line class="hl" x1="505.07" x2="922.77" y1="1513.34" y2="1513.34"/>
<path class="cv" d="M526.04 1533.29 L527.54 1532.11 L529.04 1530.94 L530.54 1529.76 L532.04 1528.59 L533.54 1527.41 L535.04 1526.25 L536.54 1525.08 L538.04 1523.93 L539.54 1522.77 L541.04 1521.63 L542.54 1520.49 L544.04 1519.36 L545.54 1518.24 L547.04 1517.12 L548.54 1516.02 L550.04 1514.93 L551.54 1513.85 L553.04 1512.78 L554.54 1511.73 L556.04 1510.69 L557.54 1509.67 L559.04 1508.65 L560.54 1507.66 L562.04 1506.68 L563.54 1505.72 L565.04 1504.77 L566.54 1503.84 L568.04 1502.93 L569.54 1502.04 L571.04 1501.17 L572.54 1500.31 L574.04 1499.48 L575.54 1498.67 L577.04 1497.87 L578.54 1497.1 L580.04 1496.34 L581.54 1495.61 L583.04 1494.9 L584.54 1494.21 L586.04 1493.54 L587.54 1492.89 L589.04 1492.26 L590.54 1491.65 L592.04 1491.07 L593.54 1490.5 L595.04 1489.95 L596.54 1489.43 L598.04 1488.92 L599.54 1488.43 L601.04 1487.96 L602.54 1487.51 L604.04 1487.08 L605.54 1486.67 L607.04 1486.27 L608.54 1485.9 L610.04 1485.53 L611.54 1485.19 L613.04 1484.85 L614.54 1484.54 L616.04 1484.23 L617.54 1483.94 L619.04 1483.66 L620.54 1483.4 L622.04 1483.14 L623.54 1482.9 L625.04 1482.66 L626.54 1482.44 L628.04 1482.22 L629.54 1482.01 L631.04 1481.81 L632.54 1481.62 L634.04 1481.43 L635.54 1481.25 L637.04 1481.08 L638.54 1480.91 L640.04 1480.74 L641.54 1480.58 L643.04 1480.42 L644.54 1480.26 L646.04 1480.11 L647.54 1479.96 L649.04 1479.82 L650.54 1479.67 L652.04 1479.53 L653.54 1479.39 L655.04 1479.25 L656.54 1479.11 L658.04 1478.97 L659.54 1478.84 L661.04 1478.7 L662.54 1478.56 L664.04 1478.42 L665.54 1478.28 L667.04 1478.14 L668.54 1478 L670.04 1477.86 L671.54 1477.72 L673.04 1477.57 L674.54 1477.43 L676.04 1477.29 L677.54 1477.14 L679.04 1476.99 L680.54 1476.85 L682.04 1476.7 L683.54 1476.55 L685.04 1476.4 L686.54 1476.25 L688.04 1476.1 L689.54 1475.94 L691.04 1475.79 L692.54 1475.63 L694.04 1475.48 L695.54 1475.32 L697.04 1475.16 L698.54 1475 L700.04 1474.83 L701.54 1474.67 L703.04 1474.5 L704.54 1474.33 L706.04 1474.16 L707.54 1473.99 L709.04 1473.82 L710.54 1473.64 L712.04 1473.47 L713.54 1473.29 L715.04 1473.11 L716.54 1472.93 L718.04 1472.75 L719.54 1472.56 L721.04 1472.38 L722.54 1472.19 L724.04 1472 L725.54 1471.81 L727.04 1471.62 L728.54 1471.43 L730.04 1471.23 L731.54 1471.04 L733.04 1470.84 L734.54 1470.64 L736.04 1470.44 L737.54 1470.23 L739.04 1470.03 L740.54 1469.82 L742.04 1469.62 L743.54 1469.41 L745.04 1469.2 L746.54 1468.99 L748.04 1468.78 L749.54 1468.56 L751.04 1468.35 L752.54 1468.13 L754.04 1467.92 L755.54 1467.7 L757.04 1467.48 L758.54 1467.27 L760.04 1467.05 L761.54 1466.83 L763.04 1466.61 L764.54 1466.39 L766.04 1466.17 L767.54 1465.95 L769.04 1465.73 L770.54 1465.51 L772.04 1465.29 L773.54 1465.07 L775.04 1464.84 L776.54 1464.62 L778.04 1464.4 L779.54 1464.18 L781.04 1463.96 L782.54 1463.74 L784.04 1463.53 L785.54 1463.31 L787.04 1463.09 L788.54 1462.87 L790.04 1462.66 L791.54 1462.44 L793.04 1462.23 L794.54 1462.01 L796.04 1461.8 L797.54 1461.58 L799.04 1461.37 L800.54 1461.16 L802.04 1460.95 L803.54 1460.74 L805.04 1460.53 L806.54 1460.32 L808.04 1460.11 L809.54 1459.9 L811.04 1459.7 L812.54 1459.49 L814.04 1459.29 L815.54 1459.08 L817.04 1458.88 L818.54 1458.67 L820.04 1458.47 L821.54 1458.27 L823.04 1458.07 L824.54 1457.87 L826.04 1457.67 L827.54 1457.47 L829.04 1457.27 L830.54 1457.07 L832.04 1456.88 L833.54 1456.68 L835.04 1456.48 L836.54 1456.29 L838.04 1456.1 L839.54 1455.9 L841.04 1455.71 L842.54 1455.52 L844.04 1455.33 L845.54 1455.14 L847.04 1454.95 L848.54 1454.76 L850.04 1454.57 L851.54 1454.38 L853.04 1454.19 L854.54 1454 L856.04 1453.82 L857.54 1453.63 L859.04 1453.45 L860.54 1453.26 L862.04 1453.08 L863.54 1452.89 L865.04 1452.71 L866.54 1452.52 L868.04 1452.34 L869.54 1452.16 L871.04 1451.98 L872.54 1451.8 L874.04 1451.61 L875.54 1451.43 L877.04 1451.25 L878.54 1451.07 L880.04 1450.89 L881.54 1450.71 L883.04 1450.53 L884.54 1450.35 L886.04 1450.17 L887.54 1449.99 L889.04 1449.81 L890.54 1449.64 L892.04 1449.46 L893.54 1449.28 L895.04 1449.1 L896.54 1448.92 L898.04 1448.74 L899.54 1448.57 L901.04 1448.39 L902.54 1448.21 L903.33 1448.12"/>
</g>
<text class="an" transform="translate(784.9 1349.93) scale(1 1.075)" style="font-size:10.8px">P for overall = 0.024</text>
<text class="an" transform="translate(784.9 1360.93) scale(1 1.075)" style="font-size:10.8px">P for nonlinear = 0.119</text>
<rect class="fr" x="505.07" y="1273.92" width="417.7" height="339.94"/>
<text class="tk" text-anchor="end" transform="translate(501.77 1346.14) scale(1 1.075)" style="font-size:10.8px">3</text>
<text class="tk" text-anchor="end" transform="translate(501.77 1431.83) scale(1 1.075)" style="font-size:10.8px">2</text>
<text class="tk" text-anchor="end" transform="translate(501.77 1517.77) scale(1 1.075)" style="font-size:10.8px">1</text>
<text class="tk" text-anchor="end" transform="translate(501.77 1603.2) scale(1 1.075)" style="font-size:10.8px">0</text>
<text class="tk" transform="translate(926.07 1618.29) scale(1 1.075)" style="font-size:10.8px">0.00</text>
<text class="tk" transform="translate(926.07 1533.31) scale(1 1.075)" style="font-size:10.8px">0.25</text>
<text class="tk" transform="translate(926.07 1448.32) scale(1 1.075)" style="font-size:10.8px">0.50</text>
<text class="tk" transform="translate(926.07 1363.34) scale(1 1.075)" style="font-size:10.8px">0.75</text>
<text class="tk" transform="translate(926.07 1278.35) scale(1 1.075)" style="font-size:10.8px">1.00</text>
<text class="tk" text-anchor="middle" transform="translate(522.46 1626.67) scale(1 1.075)" style="font-size:10.8px">0</text>
<text class="tk" text-anchor="middle" transform="translate(653.94 1626.67) scale(1 1.075)" style="font-size:10.8px">5000</text>
<text class="tk" text-anchor="middle" transform="translate(785.41 1626.67) scale(1 1.075)" style="font-size:10.8px">10000</text>
<text class="tk" text-anchor="middle" transform="translate(916.63 1626.67) scale(1 1.075)" style="font-size:10.8px">15000</text>
<path class="tm" d="M505.07 1341.71H503.07M505.07 1427.4H503.07M505.07 1513.34H503.07M505.07 1598.77H503.07M922.77 1613.87H924.77M922.77 1528.88H924.77M922.77 1443.9H924.77M922.77 1358.91H924.77M922.77 1273.92H924.77M522.46 1613.87V1615.87M653.94 1613.87V1615.87M785.41 1613.87V1615.87M916.63 1613.87V1615.87"/>
<text class="al" text-anchor="middle" transform="translate(714.05 1637.4) scale(1 1.075)" style="font-size:10.2px">SII</text>
<text class="al" text-anchor="middle" transform="translate(492.79 1443.77) rotate(-90) scale(1.075 1)" style="font-size:10.2px">HR(95%CI)</text>
<text class="al" text-anchor="middle" transform="translate(949.09 1443.77) rotate(90) scale(1.075 1)" style="font-size:10.2px">Density</text>
</g>
<g class="panel">
<text class="ttl" transform="translate(989.67 1268.34) scale(1 1.075)" style="font-size:9.25px">The relationship between the variable and the predicted probability</text>
<clipPath id="cb7"><rect x="989.67" y="1273.92" width="420.51" height="341.22"/></clipPath>
<g clip-path="url(#cb7)">
<path class="bar" style="stroke-width:0.6" d="M1008.6 1600.31V1399.77H1012.8V1600.31ZM1012.8 1600.31V1311.53H1017V1600.31ZM1017 1600.31V1289.27H1021.2V1600.31ZM1021.2 1600.31V1333.27H1025.4V1600.31ZM1025.4 1600.31V1367.03H1029.6V1600.31ZM1029.6 1600.31V1387.24H1033.8V1600.31ZM1033.8 1600.31V1446.58H1038V1600.31ZM1038 1600.31V1469.35H1042.19V1600.31ZM1042.19 1600.31V1449.65H1046.39V1600.31ZM1046.39 1600.31V1497.48H1050.59V1600.31ZM1050.59 1600.31V1500.3H1054.79V1600.31ZM1054.79 1600.31V1494.92H1058.99V1600.31ZM1058.99 1600.31V1504.39H1063.19V1600.31ZM1063.19 1600.31V1514.11H1067.39V1600.31ZM1067.39 1600.31V1504.39H1071.59V1600.31ZM1071.59 1600.31V1509.76H1075.79V1600.31ZM1075.79 1600.31V1520.25H1079.99V1600.31ZM1079.99 1600.31V1520.25H1084.19V1600.31ZM1084.19 1600.31V1525.11H1088.39V1600.31ZM1088.39 1600.31V1528.94H1092.59V1600.31ZM1092.59 1600.31V1534.06H1096.79V1600.31ZM1096.79 1600.31V1520.25H1100.99V1600.31ZM1100.99 1600.31V1538.41H1105.19V1600.31ZM1105.19 1600.31V1535.34H1109.39V1600.31ZM1109.39 1600.31V1534.32H1113.58V1600.31ZM1113.58 1600.31V1540.71H1117.78V1600.31ZM1117.78 1600.31V1536.87H1121.98V1600.31ZM1121.98 1600.31V1543.52H1126.18V1600.31ZM1126.18 1600.31V1543.52H1130.38V1600.31ZM1130.38 1600.31V1540.71H1134.58V1600.31ZM1134.58 1600.31V1538.15H1138.78V1600.31ZM1138.78 1600.31V1540.71H1142.98V1600.31ZM1142.98 1600.31V1536.87H1147.18V1600.31ZM1147.18 1600.31V1542.25H1151.38V1600.31ZM1151.38 1600.31V1544.8H1155.58V1600.31ZM1155.58 1600.31V1540.71H1159.78V1600.31ZM1159.78 1600.31V1545.32H1163.98V1600.31ZM1163.98 1600.31V1545.32H1168.18V1600.31ZM1168.18 1600.31V1540.71H1172.38V1600.31ZM1172.38 1600.31V1546.34H1176.58V1600.31ZM1176.58 1600.31V1546.34H1180.78V1600.31ZM1180.78 1600.31V1543.52H1184.97V1600.31ZM1184.97 1600.31V1538.15H1189.17V1600.31ZM1189.17 1600.31V1542.25H1193.37V1600.31ZM1193.37 1600.31V1540.71H1197.57V1600.31ZM1197.57 1600.31V1543.52H1201.77V1600.31ZM1201.77 1600.31V1540.71H1205.97V1600.31ZM1205.97 1600.31V1546.34H1210.17V1600.31ZM1210.17 1600.31V1540.71H1214.37V1600.31ZM1214.37 1600.31V1547.36H1218.57V1600.31ZM1218.57 1600.31V1543.52H1222.77V1600.31ZM1222.77 1600.31V1546.34H1226.97V1600.31ZM1226.97 1600.31V1546.34H1231.17V1600.31ZM1231.17 1600.31V1547.36H1235.37V1600.31ZM1235.37 1600.31V1547.36H1239.57V1600.31ZM1239.57 1600.31V1542.25H1243.77V1600.31ZM1243.77 1600.31V1545.32H1247.97V1600.31ZM1247.97 1600.31V1545.32H1252.17V1600.31ZM1252.17 1600.31V1545.32H1256.36V1600.31ZM1256.36 1600.31V1545.32H1260.56V1600.31ZM1260.56 1600.31V1546.34H1264.76V1600.31ZM1264.76 1600.31V1547.36H1268.96V1600.31ZM1268.96 1600.31V1545.32H1273.16V1600.31ZM1273.16 1600.31V1547.36H1277.36V1600.31ZM1277.36 1600.31V1547.36H1281.56V1600.31ZM1281.56 1600.31V1546.34H1285.76V1600.31ZM1285.76 1600.31V1546.34H1289.96V1600.31ZM1289.96 1600.31V1547.36H1294.16V1600.31ZM1294.16 1600.31V1545.32H1298.36V1600.31ZM1298.36 1600.31V1546.34H1302.56V1600.31ZM1302.56 1600.31V1545.32H1306.76V1600.31ZM1306.76 1600.31V1545.32H1310.96V1600.31ZM1310.96 1600.31V1547.36H1315.16V1600.31ZM1315.16 1600.31V1546.34H1319.36V1600.31ZM1319.36 1600.31V1543.52H1323.56V1600.31ZM1323.56 1600.31V1546.34H1327.75V1600.31ZM1327.75 1600.31V1546.34H1331.95V1600.31ZM1331.95 1600.31V1547.36H1336.15V1600.31ZM1336.15 1600.31V1545.32H1340.35V1600.31ZM1340.35 1600.31V1547.36H1344.55V1600.31ZM1344.55 1600.31V1545.32H1348.75V1600.31ZM1348.75 1600.31V1547.36H1352.95V1600.31ZM1352.95 1600.31V1546.34H1357.15V1600.31ZM1357.15 1600.31V1547.36H1361.35V1600.31ZM1361.35 1600.31V1547.36H1365.55V1600.31ZM1365.55 1600.31V1547.36H1369.75V1600.31ZM1369.75 1600.31V1547.36H1373.95V1600.31ZM1373.95 1600.31V1547.36H1378.15V1600.31ZM1378.15 1600.31V1547.36H1382.35V1600.31ZM1382.35 1600.31V1546.34H1386.55V1600.31ZM1386.55 1600.31V1524.6H1390.75V1600.31Z"/>
<path class="band" d="M1009.88 1511.04 L1011.38 1510.72 L1012.88 1510.38 L1014.38 1510.01 L1015.88 1509.61 L1017.38 1509.19 L1018.88 1508.75 L1020.38 1508.29 L1021.88 1507.81 L1023.38 1507.3 L1024.88 1506.76 L1026.38 1506.18 L1027.88 1505.58 L1029.38 1504.95 L1030.88 1504.29 L1032.38 1503.61 L1032.9 1503.37 L1034.4 1499.68 L1035.9 1496 L1037.4 1492.35 L1038.9 1488.72 L1040.4 1485.14 L1041.9 1481.61 L1043.4 1478.15 L1044.9 1474.76 L1046.4 1471.45 L1047.9 1468.23 L1049.4 1465.12 L1050.9 1462.1 L1052.4 1459.21 L1053.9 1456.43 L1055.4 1453.78 L1056.9 1451.27 L1058.4 1448.88 L1059.9 1446.63 L1061.4 1444.5 L1062.9 1442.51 L1064.4 1440.64 L1065.9 1438.9 L1067.4 1437.28 L1068.9 1435.79 L1070.4 1434.41 L1071.9 1433.14 L1073.4 1431.98 L1074.9 1430.92 L1076.4 1429.97 L1077.9 1429.1 L1079.4 1428.33 L1080.9 1427.64 L1082.4 1427.03 L1083.9 1426.48 L1085.4 1426.01 L1086.9 1425.59 L1088.4 1425.24 L1089.9 1424.93 L1091.4 1424.67 L1092.9 1424.45 L1094.4 1424.27 L1095.9 1424.12 L1097.4 1423.99 L1098.9 1423.89 L1100.4 1423.81 L1101.9 1423.75 L1103.4 1423.7 L1104.9 1423.66 L1106.4 1423.62 L1107.9 1423.58 L1109.4 1423.54 L1110.9 1423.5 L1112.4 1423.45 L1113.9 1423.4 L1115.4 1423.34 L1116.9 1423.27 L1118.4 1423.19 L1119.9 1423.11 L1121.4 1423.02 L1122.9 1422.91 L1124.4 1422.79 L1125.9 1422.67 L1127.4 1422.52 L1128.9 1422.37 L1130.4 1422.2 L1131.9 1422.02 L1133.4 1421.82 L1134.9 1421.62 L1136.4 1421.4 L1137.9 1421.17 L1139.4 1420.93 L1140.9 1420.67 L1142.4 1420.41 L1143.9 1420.13 L1145.4 1419.84 L1146.9 1419.54 L1148.4 1419.23 L1149.9 1418.9 L1151.4 1418.57 L1152.9 1418.23 L1154.4 1417.87 L1155.9 1417.51 L1157.4 1417.14 L1158.9 1416.75 L1160.4 1416.36 L1161.9 1415.95 L1163.4 1415.54 L1164.9 1415.12 L1166.4 1414.68 L1167.9 1414.24 L1169.4 1413.79 L1170.9 1413.33 L1172.4 1412.86 L1173.9 1412.38 L1175.4 1411.89 L1176.9 1411.4 L1178.4 1410.89 L1179.9 1410.38 L1181.4 1409.86 L1182.9 1409.33 L1184.4 1408.79 L1185.9 1408.25 L1187.4 1407.7 L1188.9 1407.15 L1190.4 1406.59 L1191.9 1406.03 L1193.4 1405.46 L1194.9 1404.89 L1196.4 1404.32 L1197.9 1403.74 L1199.4 1403.17 L1200.9 1402.59 L1202.4 1402.01 L1203.9 1401.43 L1205.4 1400.84 L1206.9 1400.26 L1208.4 1399.67 L1209.9 1399.09 L1211.4 1398.49 L1212.9 1397.9 L1214.4 1397.3 L1215.9 1396.69 L1217.4 1396.08 L1218.9 1395.46 L1220.4 1394.83 L1221.9 1394.2 L1223.4 1393.56 L1224.9 1392.91 L1226.4 1392.24 L1227.9 1391.57 L1229.4 1390.89 L1230.9 1390.2 L1232.4 1389.5 L1233.9 1388.79 L1235.4 1388.07 L1236.9 1387.34 L1238.4 1386.6 L1239.9 1385.85 L1241.4 1385.1 L1242.9 1384.33 L1244.4 1383.56 L1245.9 1382.78 L1247.4 1381.99 L1248.9 1381.2 L1250.4 1380.4 L1251.9 1379.58 L1253.4 1378.77 L1254.9 1377.94 L1256.4 1377.11 L1257.9 1376.27 L1259.4 1375.43 L1260.9 1374.58 L1262.4 1373.72 L1263.9 1372.86 L1265.4 1371.99 L1266.9 1371.12 L1268.4 1370.24 L1269.9 1369.35 L1271.4 1368.47 L1272.9 1367.58 L1274.4 1366.68 L1275.9 1365.78 L1277.4 1364.88 L1278.9 1363.98 L1280.4 1363.07 L1281.9 1362.16 L1283.4 1361.25 L1284.9 1360.33 L1286.4 1359.42 L1287.9 1358.5 L1289.4 1357.58 L1290.9 1356.67 L1292.4 1355.75 L1293.9 1354.83 L1295.4 1353.91 L1296.9 1352.99 L1298.4 1352.07 L1299.9 1351.15 L1301.4 1350.22 L1302.9 1349.29 L1304.4 1348.37 L1305.9 1347.44 L1307.4 1346.5 L1308.9 1345.56 L1310.4 1344.62 L1311.9 1343.68 L1313.4 1342.73 L1314.9 1341.78 L1316.4 1340.82 L1317.9 1339.86 L1319.4 1338.89 L1320.9 1337.92 L1322.4 1336.94 L1323.9 1335.95 L1325.4 1334.96 L1326.9 1333.96 L1328.4 1332.96 L1329.9 1331.94 L1331.4 1330.92 L1332.9 1329.9 L1334.4 1328.87 L1335.9 1327.83 L1337.4 1326.78 L1338.9 1325.73 L1340.4 1324.67 L1341.9 1323.61 L1343.4 1322.54 L1344.9 1321.46 L1346.4 1320.38 L1347.9 1319.29 L1349.4 1318.2 L1350.9 1317.1 L1352.4 1315.99 L1353.9 1314.88 L1355.4 1313.77 L1356.9 1312.64 L1358.4 1311.52 L1359.9 1310.38 L1361.4 1309.25 L1362.9 1308.1 L1364.4 1306.96 L1365.9 1305.81 L1367.4 1304.65 L1368.9 1303.49 L1370.4 1302.33 L1371.9 1301.17 L1373.4 1300 L1374.9 1298.83 L1376.4 1297.65 L1377.9 1296.48 L1379.4 1295.3 L1380.9 1294.13 L1382.4 1292.95 L1383.9 1291.77 L1385.4 1290.59 L1386.08 1290.05 L1386.14 1519.22 L1385.4 1519.15 L1383.9 1518.99 L1382.4 1518.83 L1380.9 1518.67 L1379.4 1518.51 L1377.9 1518.35 L1376.4 1518.19 L1374.9 1518.03 L1373.4 1517.87 L1371.9 1517.7 L1370.4 1517.54 L1368.9 1517.38 L1367.4 1517.22 L1365.9 1517.05 L1364.4 1516.89 L1362.9 1516.73 L1361.4 1516.56 L1359.9 1516.39 L1358.4 1516.23 L1356.9 1516.06 L1355.4 1515.89 L1353.9 1515.72 L1352.4 1515.55 L1350.9 1515.38 L1349.4 1515.2 L1347.9 1515.03 L1346.4 1514.86 L1344.9 1514.68 L1343.4 1514.5 L1341.9 1514.32 L1340.4 1514.14 L1338.9 1513.96 L1337.4 1513.78 L1335.9 1513.6 L1334.4 1513.42 L1332.9 1513.23 L1331.4 1513.04 L1329.9 1512.86 L1328.4 1512.67 L1326.9 1512.48 L1325.4 1512.28 L1323.9 1512.09 L1322.4 1511.9 L1320.9 1511.7 L1319.4 1511.51 L1317.9 1511.31 L1316.4 1511.11 L1314.9 1510.91 L1313.4 1510.71 L1311.9 1510.5 L1310.4 1510.3 L1308.9 1510.09 L1307.4 1509.89 L1305.9 1509.68 L1304.4 1509.47 L1302.9 1509.26 L1301.4 1509.05 L1299.9 1508.84 L1298.4 1508.62 L1296.9 1508.41 L1295.4 1508.19 L1293.9 1507.97 L1292.4 1507.76 L1290.9 1507.54 L1289.4 1507.32 L1287.9 1507.1 L1286.4 1506.88 L1284.9 1506.65 L1283.4 1506.43 L1281.9 1506.21 L1280.4 1505.98 L1278.9 1505.76 L1277.4 1505.53 L1275.9 1505.31 L1274.4 1505.08 L1272.9 1504.85 L1271.4 1504.63 L1269.9 1504.4 L1268.4 1504.17 L1266.9 1503.94 L1265.4 1503.71 L1263.9 1503.49 L1262.4 1503.26 L1260.9 1503.03 L1259.4 1502.8 L1257.9 1502.57 L1256.4 1502.34 L1254.9 1502.11 L1253.4 1501.88 L1251.9 1501.65 L1250.4 1501.42 L1248.9 1501.2 L1247.4 1500.97 L1245.9 1500.74 L1244.4 1500.51 L1242.9 1500.29 L1241.4 1500.06 L1239.9 1499.83 L1238.4 1499.61 L1236.9 1499.39 L1235.4 1499.16 L1233.9 1498.94 L1232.4 1498.72 L1230.9 1498.5 L1229.4 1498.28 L1227.9 1498.06 L1226.4 1497.84 L1224.9 1497.63 L1223.4 1497.42 L1221.9 1497.2 L1220.4 1496.99 L1218.9 1496.78 L1217.4 1496.57 L1215.9 1496.37 L1214.4 1496.16 L1212.9 1495.96 L1211.4 1495.76 L1209.9 1495.57 L1208.4 1495.37 L1206.9 1495.18 L1205.4 1494.99 L1203.9 1494.8 L1202.4 1494.61 L1200.9 1494.43 L1199.4 1494.25 L1197.9 1494.07 L1196.4 1493.89 L1194.9 1493.72 L1193.4 1493.55 L1191.9 1493.39 L1190.4 1493.22 L1188.9 1493.07 L1187.4 1492.91 L1185.9 1492.76 L1184.4 1492.61 L1182.9 1492.46 L1181.4 1492.32 L1179.9 1492.18 L1178.4 1492.05 L1176.9 1491.92 L1175.4 1491.79 L1173.9 1491.67 L1172.4 1491.55 L1170.9 1491.44 L1169.4 1491.33 L1167.9 1491.22 L1166.4 1491.12 L1164.9 1491.03 L1163.4 1490.93 L1161.9 1490.85 L1160.4 1490.76 L1158.9 1490.69 L1157.4 1490.61 L1155.9 1490.54 L1154.4 1490.48 L1152.9 1490.42 L1151.4 1490.37 L1149.9 1490.32 L1148.4 1490.27 L1146.9 1490.24 L1145.4 1490.2 L1143.9 1490.17 L1142.4 1490.15 L1140.9 1490.13 L1139.4 1490.12 L1137.9 1490.12 L1136.4 1490.12 L1134.9 1490.12 L1133.4 1490.13 L1131.9 1490.15 L1130.4 1490.17 L1128.9 1490.2 L1127.4 1490.23 L1125.9 1490.27 L1124.4 1490.31 L1122.9 1490.37 L1121.4 1490.42 L1119.9 1490.49 L1118.4 1490.56 L1116.9 1490.63 L1115.4 1490.72 L1113.9 1490.8 L1112.4 1490.9 L1110.9 1491 L1109.4 1491.11 L1107.9 1491.23 L1106.4 1491.35 L1104.9 1491.48 L1103.4 1491.62 L1101.9 1491.76 L1100.4 1491.91 L1098.9 1492.07 L1097.4 1492.24 L1095.9 1492.41 L1094.4 1492.6 L1092.9 1492.79 L1091.4 1492.98 L1089.9 1493.19 L1088.4 1493.4 L1086.9 1493.63 L1085.4 1493.86 L1083.9 1494.1 L1082.4 1494.35 L1080.9 1494.61 L1079.4 1494.87 L1077.9 1495.15 L1076.4 1495.43 L1074.9 1495.72 L1073.4 1496.03 L1071.9 1496.34 L1070.4 1496.66 L1068.9 1496.99 L1067.4 1497.33 L1065.9 1497.68 L1064.4 1498.03 L1062.9 1498.4 L1061.4 1498.77 L1059.9 1499.16 L1058.4 1499.55 L1056.9 1499.95 L1055.4 1500.36 L1053.9 1500.77 L1052.4 1501.2 L1050.9 1501.63 L1049.4 1502.07 L1047.9 1502.51 L1046.4 1502.96 L1044.9 1503.42 L1043.4 1503.88 L1041.9 1504.34 L1040.4 1504.81 L1038.9 1505.29 L1037.4 1505.76 L1035.9 1506.24 L1034.4 1506.72 L1032.9 1507.2 L1032.38 1508.17 L1030.88 1510.93 L1029.38 1513.65 L1027.88 1516.35 L1026.38 1519.02 L1024.88 1521.66 L1023.38 1524.26 L1021.88 1526.83 L1020.38 1529.37 L1018.88 1531.89 L1017.38 1534.37 L1015.88 1536.82 L1014.38 1539.25 L1012.88 1541.64 L1011.38 1544.01 L1009.88 1546.34Z"/>
<line class="hl" x1="989.67" x2="1410.19" y1="1505.41" y2="1505.41"/>
<path class="cv" d="M1009.88 1531.5 L1011.38 1529.74 L1012.88 1527.99 L1014.38 1526.23 L1015.88 1524.47 L1017.38 1522.72 L1018.88 1520.96 L1020.38 1519.21 L1021.88 1517.46 L1023.38 1515.71 L1024.88 1513.96 L1026.38 1512.22 L1027.88 1510.48 L1029.38 1508.75 L1030.88 1507.04 L1032.38 1505.33 L1033.88 1503.63 L1035.38 1501.94 L1036.88 1500.27 L1038.38 1498.62 L1039.88 1496.99 L1041.38 1495.38 L1042.88 1493.79 L1044.38 1492.23 L1045.88 1490.7 L1047.38 1489.2 L1048.88 1487.74 L1050.38 1486.31 L1051.88 1484.91 L1053.38 1483.55 L1054.88 1482.23 L1056.38 1480.96 L1057.88 1479.72 L1059.38 1478.53 L1060.88 1477.38 L1062.38 1476.28 L1063.88 1475.21 L1065.38 1474.2 L1066.88 1473.23 L1068.38 1472.3 L1069.88 1471.42 L1071.38 1470.58 L1072.88 1469.79 L1074.38 1469.03 L1075.88 1468.33 L1077.38 1467.66 L1078.88 1467.04 L1080.38 1466.45 L1081.88 1465.91 L1083.38 1465.4 L1084.88 1464.93 L1086.38 1464.49 L1087.88 1464.09 L1089.38 1463.72 L1090.88 1463.38 L1092.38 1463.06 L1093.88 1462.78 L1095.38 1462.52 L1096.88 1462.28 L1098.38 1462.07 L1099.88 1461.87 L1101.38 1461.69 L1102.88 1461.53 L1104.38 1461.39 L1105.88 1461.25 L1107.38 1461.13 L1108.88 1461.02 L1110.38 1460.91 L1111.88 1460.81 L1113.38 1460.72 L1114.88 1460.64 L1116.38 1460.56 L1117.88 1460.48 L1119.38 1460.41 L1120.88 1460.33 L1122.38 1460.26 L1123.88 1460.19 L1125.38 1460.13 L1126.88 1460.05 L1128.38 1459.98 L1129.88 1459.91 L1131.38 1459.83 L1132.88 1459.76 L1134.38 1459.68 L1135.88 1459.6 L1137.38 1459.52 L1138.88 1459.44 L1140.38 1459.35 L1141.88 1459.27 L1143.38 1459.18 L1144.88 1459.1 L1146.38 1459.01 L1147.88 1458.92 L1149.38 1458.83 L1150.88 1458.74 L1152.38 1458.64 L1153.88 1458.55 L1155.38 1458.45 L1156.88 1458.36 L1158.38 1458.26 L1159.88 1458.16 L1161.38 1458.07 L1162.88 1457.97 L1164.38 1457.87 L1165.88 1457.76 L1167.38 1457.66 L1168.88 1457.56 L1170.38 1457.46 L1171.88 1457.35 L1173.38 1457.25 L1174.88 1457.14 L1176.38 1457.03 L1177.88 1456.93 L1179.38 1456.82 L1180.88 1456.71 L1182.38 1456.6 L1183.88 1456.49 L1185.38 1456.38 L1186.88 1456.26 L1188.38 1456.15 L1189.88 1456.04 L1191.38 1455.92 L1192.88 1455.81 L1194.38 1455.7 L1195.88 1455.58 L1197.38 1455.46 L1198.88 1455.35 L1200.38 1455.23 L1201.88 1455.11 L1203.38 1454.99 L1204.88 1454.87 L1206.38 1454.75 L1207.88 1454.63 L1209.38 1454.51 L1210.88 1454.39 L1212.38 1454.26 L1213.88 1454.14 L1215.38 1454.02 L1216.88 1453.89 L1218.38 1453.77 L1219.88 1453.64 L1221.38 1453.52 L1222.88 1453.39 L1224.38 1453.27 L1225.88 1453.14 L1227.38 1453.01 L1228.88 1452.89 L1230.38 1452.76 L1231.88 1452.63 L1233.38 1452.5 L1234.88 1452.38 L1236.38 1452.25 L1237.88 1452.12 L1239.38 1451.99 L1240.88 1451.86 L1242.38 1451.74 L1243.88 1451.61 L1245.38 1451.48 L1246.88 1451.35 L1248.38 1451.23 L1249.88 1451.1 L1251.38 1450.97 L1252.88 1450.84 L1254.38 1450.72 L1255.88 1450.59 L1257.38 1450.47 L1258.88 1450.34 L1260.38 1450.22 L1261.88 1450.09 L1263.38 1449.97 L1264.88 1449.84 L1266.38 1449.72 L1267.88 1449.6 L1269.38 1449.48 L1270.88 1449.35 L1272.38 1449.23 L1273.88 1449.11 L1275.38 1448.99 L1276.88 1448.87 L1278.38 1448.76 L1279.88 1448.64 L1281.38 1448.52 L1282.88 1448.4 L1284.38 1448.29 L1285.88 1448.17 L1287.38 1448.06 L1288.88 1447.94 L1290.38 1447.83 L1291.88 1447.72 L1293.38 1447.6 L1294.88 1447.49 L1296.38 1447.38 L1297.88 1447.27 L1299.38 1447.16 L1300.88 1447.05 L1302.38 1446.94 L1303.88 1446.83 L1305.38 1446.72 L1306.88 1446.61 L1308.38 1446.5 L1309.88 1446.4 L1311.38 1446.29 L1312.88 1446.18 L1314.38 1446.08 L1315.88 1445.97 L1317.38 1445.87 L1318.88 1445.77 L1320.38 1445.66 L1321.88 1445.56 L1323.38 1445.46 L1324.88 1445.36 L1326.38 1445.25 L1327.88 1445.15 L1329.38 1445.05 L1330.88 1444.95 L1332.38 1444.85 L1333.88 1444.75 L1335.38 1444.66 L1336.88 1444.56 L1338.38 1444.46 L1339.88 1444.36 L1341.38 1444.26 L1342.88 1444.17 L1344.38 1444.07 L1345.88 1443.97 L1347.38 1443.88 L1348.88 1443.78 L1350.38 1443.69 L1351.88 1443.59 L1353.38 1443.5 L1354.88 1443.4 L1356.38 1443.31 L1357.88 1443.21 L1359.38 1443.12 L1360.88 1443.03 L1362.38 1442.93 L1363.88 1442.84 L1365.38 1442.75 L1366.88 1442.65 L1368.38 1442.56 L1369.88 1442.47 L1371.38 1442.37 L1372.88 1442.28 L1374.38 1442.19 L1375.88 1442.1 L1377.38 1442 L1378.88 1441.91 L1380.38 1441.82 L1381.88 1441.73 L1383.38 1441.64 L1384.88 1441.54 L1386.14 1441.47"/>
</g>
<text class="an" transform="translate(1258.25 1323.32) scale(1 1.075)" style="font-size:10.8px">P for overall = 0.007</text>
<text class="an" transform="translate(1258.25 1334.32) scale(1 1.075)" style="font-size:10.8px">P for nonlinear = 0.036</text>
<rect class="fr" x="989.67" y="1273.92" width="420.51" height="341.22"/>
<text class="tk" text-anchor="end" transform="translate(986.37 1319.79) scale(1 1.075)" style="font-size:10.8px">3</text>
<text class="tk" text-anchor="end" transform="translate(986.37 1414.94) scale(1 1.075)" style="font-size:10.8px">2</text>
<text class="tk" text-anchor="end" transform="translate(986.37 1509.84) scale(1 1.075)" style="font-size:10.8px">1</text>
<text class="tk" text-anchor="end" transform="translate(986.37 1604.74) scale(1 1.075)" style="font-size:10.8px">0</text>
<text class="tk" transform="translate(1413.49 1619.57) scale(1 1.075)" style="font-size:10.8px">0.00</text>
<text class="tk" transform="translate(1413.49 1534.27) scale(1 1.075)" style="font-size:10.8px">0.25</text>
<text class="tk" transform="translate(1413.49 1448.96) scale(1 1.075)" style="font-size:10.8px">0.50</text>
<text class="tk" transform="translate(1413.49 1363.66) scale(1 1.075)" style="font-size:10.8px">0.75</text>
<text class="tk" transform="translate(1413.49 1278.35) scale(1 1.075)" style="font-size:10.8px">1.00</text>
<text class="tk" text-anchor="middle" transform="translate(1006.3 1627.94) scale(1 1.075)" style="font-size:10.8px">0</text>
<text class="tk" text-anchor="middle" transform="translate(1090.45 1627.94) scale(1 1.075)" style="font-size:10.8px">10</text>
<text class="tk" text-anchor="middle" transform="translate(1174.35 1627.94) scale(1 1.075)" style="font-size:10.8px">20</text>
<text class="tk" text-anchor="middle" transform="translate(1258.25 1627.94) scale(1 1.075)" style="font-size:10.8px">30</text>
<text class="tk" text-anchor="middle" transform="translate(1342.15 1627.94) scale(1 1.075)" style="font-size:10.8px">40</text>
<path class="tm" d="M989.67 1315.36H987.67M989.67 1410.52H987.67M989.67 1505.41H987.67M989.67 1600.31H987.67M1410.19 1615.14H1412.19M1410.19 1529.84H1412.19M1410.19 1444.53H1412.19M1410.19 1359.23H1412.19M1410.19 1273.92H1412.19M1006.3 1615.14V1617.14M1090.45 1615.14V1617.14M1174.35 1615.14V1617.14M1258.25 1615.14V1617.14M1342.15 1615.14V1617.14"/>
<text class="al" text-anchor="middle" transform="translate(1198.39 1638.68) scale(1 1.075)" style="font-size:10.2px">SIRI</text>
<text class="al" text-anchor="middle" transform="translate(976.37 1444.53) rotate(-90) scale(1.075 1)" style="font-size:10.2px">HR(95%CI)</text>
<text class="al" text-anchor="middle" transform="translate(1434.21 1444.53) rotate(90) scale(1.075 1)" style="font-size:10.2px">Density</text>
</g>
</svg>
</body></html>
